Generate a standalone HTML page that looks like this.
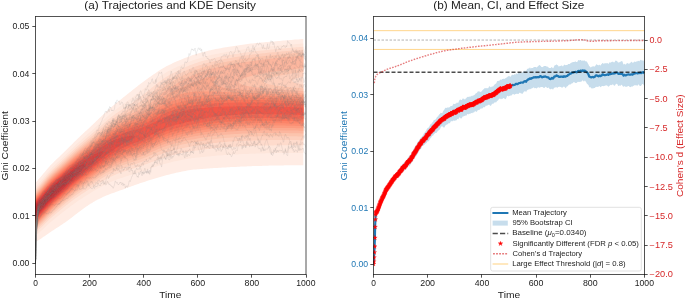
<!DOCTYPE html>
<html><head><meta charset="utf-8"><style>
html,body{margin:0;padding:0;background:#fff;}
body{width:685px;height:299px;overflow:hidden;font-family:"Liberation Sans", sans-serif;}
svg{display:block;will-change:transform;}
</style></head><body>
<svg width="685" height="299" viewBox="0 0 685 299" font-family='"Liberation Sans", sans-serif'><defs><clipPath id="cl"><rect x="35.50" y="16.50" width="270.50" height="258.00"/></clipPath><clipPath id="cr"><rect x="373.50" y="16.50" width="271.00" height="258.00"/></clipPath><path id="st" d="M0.00 -2.45L-0.55 -0.76L-2.33 -0.76L-0.89 0.29L-1.44 1.98L-0.00 0.94L1.44 1.98L0.89 0.29L2.33 -0.76L0.55 -0.76Z" fill="#ff0000" stroke="#ff0000" stroke-width="0.3"/></defs>
<g clip-path="url(#cl)">
<g transform="scale(0.1)">
<path d="M372 2409l1 0 16-10 8-5 9-5 14-10 2-2 17-11 3-2 14-10 7-5 10-7 12-8 5-3 17-12 16-11 7-4 10-7 13-8 4-3 17-11 1 0 16-11 7-4 10-7 13-8 3-3 17-11 2-1 15-11 6-4 11-8 10-7 7-5 12-10 5-3 15-12 2-1 16-13 1-1 16-12 4-2 13-11 6-4 11-9 9-6 8-6 12-9 5-4 15-11 1-1 17-12 3-2 14-9 8-6 9-6 14-9 3-2 17-10 4-3 12-7 14-8 3-1 17-9 8-4 9-5 17-8 4-2 13-6 17-8 3-1 13-6 17-7 6-2 11-4 17-7 11-4 6-2 17-6 16-6 1-1 16-5 17-6 9-4 8-2 17-6 17-7 16-6 17-6 8-3 9-3 17-6 15-5 2-1 17-6 17-6 6-2 10-4 17-6 16-5 1 0 17-6 17-5 12-4 5-2 16-5 17-5 9-3 8-2 17-5 17-6 7-2 10-3 16-5 17-5 8-2 9-2 17-5 17-5 10-3 7-2 17-4 16-4 17-5 17-4 17-4 17-4 11-2 6-2 16-3 17-4 17-3 17-3 17-3 17-3 17-2 16-3 17-2 17-2 7 0 10-1 17-1 17-2 16-1 17-1 17-1 17-1 17-2 17-1 16-1 17-1 17-1 14-1 3 0 17-1 17-1 17-1 16-1 17-1 17-1 17-1 17-1 17-1 16-1 17 0 17-1 17-1 17-1 17-1 16 0 17-1 1 0 16-1 17 0 17-1 17-1 17 0 16-1 17 0 17-1 17 0 17-1 17 0 16-1 17 0 17-1 17 0 17-1 17 0 16 0 17-1 17 0 17 0 17 0 17-1 17 0 16 0 17 0 17-1 17 0 17 0 17 0 16 0 17 0 17 0 17 0 0-3 0-15 0-15 0-15 0-15 0-14 0-15 0-15 0-15 0-15 0-15 0-15 0-15 0-15 0-14 0-15 0-15 0-15 0-15 0-15 0-15 0-15 0-15 0-14 0-15 0-15 0-15 0-15 0-15 0-15 0-15 0-15 0-15 0-14 0-15 0-15 0-15 0-15 0-15 0-15 0-15 0-15 0-14 0-15 0-15 0-15 0-15 0-15 0-15 0-15 0-15 0-14 0-15 0-15 0-15 0-15 0-15 0-15 0-15 0-15 0-15 0-14 0-15 0-15 0-15 0-15 0-15 0-15 0-15 0-15 0-14 0-15 0-15 0-15 0-15 0-15 0-15 0-15 0-15 0-14 0-15 0-15 0-15 0-15 0-15 0-9 -17 2 -17 1 -17 2 -16 1 -17 1 -17 2 -2 0 -15 1 -17 2 -17 1 -16 1 -17 2 -17 1 -17 2 -17 1 -17 2 -17 1 -7 1 -9 1 -17 1 -17 1 -17 2 -17 1 -17 2 -16 1 -17 2 -17 2 -17 2 -2 0 -15 1 -17 2 -16 2 -17 1 -17 2 -17 2 -17 2 -16 3 -1 0 -17 2 -16 2 -17 2 -17 3 -17 2 -17 3 -5 1 -12 1 -16 3 -17 2 -17 3 -17 3 -14 3 -3 0 -17 3 -16 2 -17 4 -17 3 -13 2 -4 1 -17 3 -17 4 -17 3 -16 4 -17 4 -17 4 -17 4 -11 3 -6 1 -17 5 -16 4 -16 5 -1 0 -17 5 -17 5 -14 5 -3 1 -17 5 -16 6 -7 3 -10 3 -17 7 -13 5 -4 1 -17 7 -16 7 -1 0 -17 7 -16 7 -1 1 -16 6 -17 8 -1 0 -16 7 -16 8 -1 1 -17 7 -13 7 -3 2 -17 8 -9 5 -8 5 -17 9 -1 1 -16 9 -9 6 -8 5 -16 10 -1 0 -16 11 -5 4 -12 8 -10 7 -7 4 -14 10 -3 2 -17 12 -1 1 -16 11 -5 4 -11 8 -10 7 -7 6 -13 9 -4 3 -16 12 -1 0 -17 13 -2 2 -15 11 -5 4 -11 9 -8 6 -9 7 -10 8 -7 5 -12 9 -5 5 -13 10 -4 3 -15 12 -2 2 -16 13 -1 0 -16 14 -2 1 -15 12 -4 3 -13 11 -5 4 -12 9 -7 6 -10 7 -8 8 -9 6 -10 8 -6 6 -12 9 -5 5 -12 10 -5 4 -12 11 -5 4 -12 11 -5 4 -11 11 -6 5 -11 10 -5 5 -11 10 -6 6 -10 9 -7 7 -8 7 -9 9 -7 6 -10 10 -5 5 -12 11 -4 4 -13 12 -3 3 -13 13 -2 2 -15 14 -1 1 -16 15 -16 15 -1 0 -15 15 -2 1 -14 13 -3 3 -13 12 -3 3 -13 12 -4 4 -11 11 -6 6 -10 9 -7 7 -8 8 -9 8 -7 7 -10 10 -5 5 -11 11 -4 4 -13 13 -2 1 -15 15 0 1 -15 14 -2 2 -13 13 -4 4 -11 11 -6 5 -9 10 -8 7 -8 8 -8 8 -7 7 -10 9 -6 6 -11 10 -5 4 -12 12 -3 3 -14 14 -1 1 -15 15 -1 0 -14 15 -2 2 -12 13 -5 5 -9 10 -8 10 -5 5 -11 15 -1 0 -12 15 -5 6 -7 8 -10 12 -2 3 -13 15 -1 2 -12 13 -5 7 -8 8 -9 12 -3 3 -13 15 -1 1 0 14 0 15 0 14 0 15 0 15 0 15 0 15 0 15 0 15 0 15 0 15 0 14 0 15 0 15 0 15 0 15 0 15 0 15 0 15 0 15 0 15 0 14 0 15 0 15 0 15 0 15 0 15 0 15 0 15 0 15 0 14 0 15 0 15 0 15 0 15 0 15 0 15 0 15 0 15 0 11z" fill="#ffece4"/>
<path d="M360 2349l12-9 8-6 9-7 9-8 8-6 10-9 6-5 11-10 6-6 10-8 7-8 8-7 9-9 7-6 10-9 7-6 10-9 7-6 9-8 9-7 8-7 10-8 7-6 11-9 6-4 13-11 4-3 14-11 3-2 16-13 0-1 17-13 2-1 15-12 5-3 12-9 7-6 10-7 10-8 7-5 13-10 4-2 16-13 17-12 5-3 12-8 9-7 8-5 14-9 3-2 17-11 3-2 13-9 10-6 7-4 17-11 17-10 7-5 10-6 14-9 3-1 16-10 7-4 10-6 15-9 2-1 17-9 8-5 9-4 17-9 2-1 15-8 14-7 2-1 17-8 12-6 5-2 17-8 12-5 5-2 17-7 15-6 1-1 17-6 17-6 6-2 11-3 17-6 17-6 16-5 17-5 15-5 2 0 17-5 17-6 12-4 5-1 17-5 16-6 9-2 8-3 17-5 17-6 3-1 14-5 17-5 13-5 3-1 17-6 17-6 6-2 11-4 17-5 16-6 1 0 16-6 17-5 13-4 4-1 17-5 17-5 13-4 4-1 17-4 16-5 17-4 4-1 13-3 17-3 17-4 17-4 3-1 13-2 17-4 17-3 17-3 13-3 4 0 17-3 17-2 16-3 17-2 17-2 17-2 5 0 12-1 17-2 16-2 17-1 17-2 17-2 17-1 17-2 16-2 8 0 9-1 17-2 17-1 17-1 17-1 17-2 16-1 17-1 17-1 17-1 17-1 17-1 16-1 10 0 7-1 17 0 17-1 17-1 17-1 16-1 17 0 17-1 17-1 17 0 17-1 17 0 16-1 17 0 17-1 17 0 17-1 17 0 16-1 17 0 17-1 17 0 17 0 17-1 16 0 17 0 17 0 17-1 17 0 14 0 3 0 17 0 16 0 17-1 17 0 17 0 17 0 17 0 16 0 17 0 17 0 17 0 0-14 0-15 0-15 0-15 0-15 0-14 0-15 0-15 0-15 0-15 0-15 0-15 0-15 0-15 0-14 0-15 0-15 0-15 0-15 0-15 0-15 0-15 0-15 0-15 0-14 0-15 0-15 0-15 0-15 0-15 0-15 0-15 0-15 0-14 0-15 0-15 0-15 0-15 0-15 0-15 0-15 0-15 0-14 0-15 0-15 0-15 0-15 0-15 0-15 0-15 0-15 0-15 0-14 0-15 0-15 0-15 0-15 0-15 0-15 0-15 0-15 0-14 0-15 0-15 0-15 0-15 0-15 0-15 0-15 0-15 0-14 0-15 0-15 0-8 -17 1 -17 1 -17 2 -16 1 -17 2 -13 1 -4 0 -17 1 -17 2 -17 1 -16 2 -17 1 -17 2 -17 1 -17 2 -17 1 -13 2 -4 0 -16 1 -17 2 -17 1 -17 2 -17 1 -17 2 -16 2 -17 1 -17 2 -3 1 -14 1 -17 2 -17 1 -16 2 -17 2 -17 2 -17 2 -15 2 -2 1 -17 2 -17 2 -16 2 -17 3 -17 2 -17 3 -2 0 -15 2 -17 3 -16 3 -17 3 -17 2 -10 2 -7 1 -17 3 -17 3 -16 3 -17 4 -7 1 -10 2 -17 3 -17 4 -17 3 -11 3 -6 1 -16 4 -17 4 -17 4 -6 2 -11 3 -17 4 -17 5 -10 3 -6 2 -17 5 -17 5 -9 3 -8 2 -17 6 -17 6 -1 1 -15 5 -17 7 -7 2 -10 4 -17 7 -10 4 -7 3 -17 7 -10 5 -7 3 -16 8 -10 4 -7 3 -17 8 -7 4 -10 5 -17 8 -3 2 -14 6 -15 9 -1 0 -17 10 -9 5 -8 5 -16 10 -1 0 -17 11 -5 3 -12 8 -10 7 -7 5 -14 10 -2 2 -17 12 -1 1 -16 12 -4 3 -13 10 -7 5 -10 8 -9 7 -8 6 -11 9 -5 4 -14 11 -3 2 -16 13 -1 0 -17 13 -2 1 -15 12 -4 3 -13 10 -6 5 -10 8 -10 7 -7 6 -12 9 -5 4 -15 11 -2 2 -17 12 0 1 -17 12 -3 3 -14 9 -7 6 -9 7 -11 7 -6 5 -14 10 -3 2 -17 13 -1 0 -16 12 -4 3 -13 9 -7 6 -9 7 -10 8 -7 5 -12 10 -5 4 -13 11 -4 3 -13 12 -4 2 -14 12 -3 3 -14 12 -2 3 -14 12 -3 3 -14 12 -3 3 -13 12 -4 3 -13 12 -4 4 -12 11 -5 4 -11 11 -6 5 -11 10 -5 5 -11 10 -6 5 -11 9 -6 6 -11 9 -6 5 -11 10 -6 5 -11 10 -6 5 -10 10 -6 5 -11 10 -6 6 -10 9 -7 6 -10 9 -7 6 -9 9 -8 7 -8 7 -9 9 -6 6 -10 10 -6 5 -11 11 -5 4 -12 12 -3 3 -14 14 -1 1 -16 15 -15 15 -2 1 -14 14 -3 2 -12 12 -4 4 -12 11 -5 5 -11 10 -6 6 -10 9 -7 7 -9 8 -8 8 -7 7 -10 9 -5 6 -11 12 -4 3 -13 15 -14 15 -3 4 -9 10 -8 10 -4 5 -12 15 -1 1 -12 14 -5 7 -7 8 -9 12 -3 3 -13 15 -1 2 -12 13 -5 6 -8 9 -9 11 0 3 0 15 0 15 0 15 0 15 0 15 0 15 0 15 0 15 0 14 0 15 0 15 0 15 0 15 0 15 0 15 0 15 0 15 0 15 0 14 0 15 0 15 0 15 0 15 0 15 0 15 0 15 0 15 0 14 0 15 0 15 0 15 0 15 0 4z" fill="#fee6db"/>
<path d="M359 2319l13-10 5-5 12-10 5-5 12-9 5-5 11-10 6-5 11-12 4-3 13-14 2-1 14-15 1-1 15-14 2-2 14-13 3-2 14-13 2-2 16-13 1-1 16-13 1-1 17-14 17-14 1-1 16-13 2-2 14-11 5-4 12-10 7-5 10-8 8-7 9-7 10-8 7-5 13-10 4-3 15-12 2-1 16-12 2-1 15-11 6-4 11-8 10-7 7-5 15-10 2-1 17-11 4-3 12-8 11-7 6-4 17-11 17-11 6-4 11-6 13-9 4-2 16-10 4-2 13-8 11-7 6-4 17-10 2-1 15-9 11-6 6-3 17-10 4-2 12-7 16-8 1-1 17-8 11-6 6-2 17-8 10-5 7-3 16-7 12-5 5-2 17-6 17-6 17-6 17-6 10-3 6-2 17-6 17-5 7-2 10-3 17-5 17-6 3-1 14-4 16-6 16-5 1 0 17-6 17-6 8-3 9-3 17-6 14-6 2-1 17-6 17-7 3-1 14-5 17-6 8-4 9-3 16-6 15-6 2 0 17-6 17-6 8-2 9-3 17-5 17-5 7-2 9-3 17-4 17-4 16-4 1 0 17-4 17-4 16-4 15-3 2-1 17-3 17-3 17-3 17-4 8-1 9-1 16-3 17-3 17-2 17-2 17-2 12-2 5 0 16-2 17-3 17-2 17-2 17-2 17-2 12-2 4 0 17-2 17-2 17-2 17-1 17-2 17-2 16-1 17-1 17-1 6-1 11 0 17-1 17-1 16-1 17-1 17-1 17-1 17-1 17-1 16-1 17-1 17 0 17-1 17-1 17 0 17-1 16 0 17-1 17 0 13-1 4 0 17 0 17 0 16-1 17 0 17 0 17 0 17 0 17-1 16 0 17 0 17 0 17 0 17-1 17 0 17 0 16 0 17 0 17 0 17 0 17 0 17 0 16 1 17 0 17 0 17 0 0-12 0-15 0-15 0-15 0-15 0-15 0-15 0-15 0-15 0-14 0-15 0-15 0-15 0-15 0-15 0-15 0-15 0-15 0-15 0-14 0-15 0-15 0-15 0-15 0-15 0-15 0-15 0-15 0-14 0-15 0-15 0-15 0-15 0-15 0-15 0-15 0-15 0-14 0-15 0-15 0-15 0-15 0-15 0-15 0-15 0-15 0-15 0-14 0-15 0-15 0-15 0-15 0-15 0-15 0-15 0-15 0-14 0-15 0-15 0-15 0-15 0-15 0-15 0-15 0-15 0-14 0-6 -17 2 -17 1 -17 2 -11 1 -5 0 -17 1 -17 2 -17 1 -17 2 -17 1 -16 2 -17 1 -17 2 -17 1 -12 1 -5 1 -17 1 -17 2 -16 1 -17 2 -17 2 -17 1 -17 2 -17 2 -16 1 -17 2 -17 2 -17 2 -17 1 -17 2 -16 2 -17 2 -15 2 -2 0 -17 3 -17 2 -17 2 -17 2 -16 3 -17 2 -4 1 -13 2 -17 3 -17 2 -17 3 -16 3 -12 2 -5 1 -17 3 -17 3 -17 3 -17 3 -10 2 -6 1 -17 3 -17 4 -17 3 -16 4 -1 0 -17 4 -17 3 -16 5 -13 3 -4 1 -17 4 -17 5 -17 4 0 1 -17 4 -16 5 -17 5 -17 6 -17 6 -11 3 -6 3 -17 6 -16 6 -17 7 -17 7 -3 1 -14 6 -17 8 -3 1 -14 6 -17 8 -1 1 -15 7 -16 8 -1 1 -17 8 -11 6 -6 3 -17 8 -6 4 -11 5 -16 9 0 1 -17 10 -8 4 -9 6 -14 9 -3 2 -17 12 -1 1 -16 11 -5 4 -12 9 -8 6 -8 7 -11 8 -6 5 -12 10 -5 4 -13 11 -4 3 -14 12 -3 2 -15 12 -2 2 -16 13 -17 14 -2 1 -15 12 -4 3 -13 10 -7 5 -10 7 -10 8 -7 5 -13 10 -3 2 -17 12 -1 1 -16 11 -5 4 -12 8 -10 6 -7 5 -15 10 -2 2 -17 11 -3 2 -13 9 -10 6 -7 5 -15 10 -2 1 -17 11 -4 3 -13 9 -8 6 -9 5 -12 10 -4 2 -17 13 -17 13 -2 1 -15 12 -4 3 -13 11 -5 4 -12 10 -5 5 -11 9 -7 6 -10 9 -7 6 -10 9 -7 6 -10 9 -7 6 -10 8 -7 7 -10 8 -7 7 -10 8 -7 6 -9 9 -8 6 -9 8 -8 7 -9 8 -9 7 -8 7 -9 8 -8 6 -9 9 -8 6 -10 9 -6 6 -11 9 -6 5 -11 10 -6 5 -10 9 -7 6 -10 9 -7 6 -9 9 -8 7 -9 8 -7 7 -9 8 -8 8 -7 7 -10 9 -6 6 -11 10 -5 5 -12 11 -3 4 -14 12 -2 2 -15 14 -1 1 -15 15 -17 15 0 1 -16 14 -1 1 -15 14 -2 2 -13 13 -4 3 -12 12 -5 4 -10 11 -6 6 -8 9 -9 9 -5 5 -12 15 -1 0 -12 15 -4 5 -9 10 -8 11 -4 4 -12 15 -1 1 -11 14 -5 6 -8 9 -9 11 -4 4 -12 14 -1 2 -12 13 -5 6 0 9 0 15 0 15 0 15 0 15 0 15 0 15 0 14 0 15 0 15 0 15 0 15 0 15 0 15 0 15 0 15 0 15 0 14 0 15 0 15 0 15 0 15 0 15 0 15 0 15 0 15 0 14 0 15 0 15 0 3z" fill="#fedbcc"/>
<path d="M369 2289l3-2 14-12 3-3 14-12 3-3 13-12 3-3 13-12 4-5 10-10 7-7 8-8 9-9 5-6 12-11 4-4 13-11 3-4 13-12 4-2 13-12 4-3 13-12 4-3 13-11 5-4 12-10 6-5 11-9 7-6 9-8 9-7 8-6 10-9 7-5 12-10 5-4 13-11 4-2 15-12 2-1 17-13 1-1 15-12 5-3 12-9 8-6 9-6 12-9 5-3 16-12 1 0 17-11 5-4 11-8 11-7 6-4 17-11 17-11 6-3 11-7 12-8 5-3 16-11 2-1 15-10 9-5 8-5 16-10 1-1 17-10 6-4 11-6 15-9 2-1 16-9 8-5 9-5 17-9 2-1 15-7 14-7 3-2 17-8 12-5 4-2 17-7 15-6 2-1 17-6 17-6 5-2 12-4 16-6 16-5 1-1 17-5 17-5 11-4 6-2 17-5 17-6 5-2 11-3 17-6 16-6 1 0 17-6 17-7 5-2 12-4 16-7 10-4 7-3 17-6 12-5 5-2 17-7 14-6 3-1 16-7 17-6 2-1 15-6 17-6 9-3 8-3 17-5 17-6 4-1 12-3 17-5 17-4 10-3 7-2 17-4 17-4 16-4 4-1 13-3 17-3 17-4 17-3 7-2 10-1 17-3 16-3 17-3 17-3 11-2 6 0 17-3 17-2 16-2 17-3 17-2 14-2 3-1 17-2 17-2 16-3 17-2 17-2 17-2 9-1 8-1 17-2 17-1 16-2 17-1 17-1 17-2 17-1 17-1 16-1 17-1 17-1 1 0 16-1 17-1 17-1 16-1 17 0 17-1 17-1 17 0 17-1 17 0 16-1 17 0 17 0 17-1 17 0 17 0 16 0 17-1 17 0 17 0 17 0 17 0 16 0 17 0 17 0 17 0 17 0 17 0 17 0 16 0 17 0 17 0 17 0 17 0 17 0 16 0 17 1 17 0 17 0 0-6 0-15 0-15 0-15 0-15 0-15 0-14 0-15 0-15 0-15 0-15 0-15 0-15 0-15 0-15 0-15 0-14 0-15 0-15 0-15 0-15 0-15 0-15 0-15 0-15 0-14 0-15 0-15 0-15 0-15 0-15 0-15 0-15 0-15 0-14 0-15 0-15 0-15 -4 0 -13-3 -17-3 -17-3 -16-4 -11-2 -6-3 -17-7 -10-5 1-15 9-4 17-9 3-2 14-3 16-5 17-5 8-2 9-1 17-4 0-10 0-14 0-15 0-15 0-15 0-15 0-15 0-15 0-15 0-15 0-14 0-15 0-15 0-15 0-15 0-15 0-15 0-15 0-6 -17 1 -17 2 -17 1 -16 2 -9 0 -8 1 -17 1 -17 2 -17 1 -17 2 -16 1 -17 2 -17 1 -17 2 -17 2 -5 0 -12 1 -17 2 -16 2 -17 1 -17 2 -17 1 -17 2 -17 2 -16 2 -5 0 -12 1 -17 2 -17 2 -17 2 -17 2 -16 2 -17 2 -14 2 -3 0 -17 3 -17 2 -17 2 -17 3 -16 2 -17 3 -1 0 -16 2 -17 3 -17 3 -17 3 -16 3 -7 1 -10 2 -17 3 -17 3 -17 3 -17 3 -3 1 -13 2 -17 4 -17 3 -17 4 -8 2 -9 2 -17 4 -17 4 -16 4 -3 0 -14 4 -17 5 -17 4 -6 2 -11 3 -17 5 -16 6 -5 1 -12 4 -17 6 -15 5 -2 1 -17 6 -17 6 -4 2 -12 5 -17 7 -6 3 -11 5 -17 7 -6 3 -11 5 -17 8 -3 2 -14 6 -16 9 -17 9 -11 5 -6 4 -17 9 -5 2 -12 7 -15 8 -2 1 -16 10 -7 4 -10 7 -12 8 -5 3 -17 12 -17 13 -3 2 -14 11 -4 4 -13 10 -6 5 -10 9 -7 6 -10 8 -8 6 -9 8 -8 7 -9 8 -8 7 -9 8 -9 7 -8 7 -9 8 -7 6 -12 9 -5 4 -15 11 -2 1 -17 12 -2 2 -15 10 -7 5 -10 6 -12 8 -4 3 -17 11 -3 1 -14 9 -10 6 -7 4 -17 11 -17 10 -8 5 -9 5 -16 10 -17 10 -8 5 -9 5 -15 10 -2 1 -17 10 -5 4 -12 7 -10 7 -6 5 -15 10 -2 2 -17 12 -2 1 -15 12 -4 3 -13 10 -6 5 -11 9 -7 6 -9 8 -9 7 -8 7 -9 8 -8 6 -10 9 -7 6 -10 9 -7 5 -10 9 -7 6 -11 9 -6 5 -11 10 -5 4 -13 11 -4 4 -14 11 -3 3 -15 12 -2 2 -16 13 -1 1 -16 14 -1 0 -16 14 -1 1 -16 13 -2 1 -15 14 -2 1 -15 14 -2 1 -15 13 -2 2 -15 14 -1 1 -15 14 -2 1 -15 14 -1 1 -16 15 -16 15 -1 1 -15 13 -2 3 -13 12 -4 3 -12 12 -5 4 -11 11 -5 5 -12 10 -5 5 -11 10 -6 6 -10 9 -7 6 -9 9 -8 7 -7 8 -10 9 -6 6 -10 11 -4 3 -13 14 -1 1 -13 15 -3 3 -10 12 -7 9 -5 6 -12 15 -13 15 -4 5 -8 10 -8 9 -5 6 -12 14 -14 15 -3 5 -10 10 -7 9 0 6 0 15 0 15 0 15 0 15 0 15 0 14 0 15 0 15 0 15 0 15 0 15 0 15 0 15 0 15 0 15 0 14 0 15 0 15 0 15 0 15 0 15 0 15 0 15 0 15 0 14 0 12z" fill="#fdcfbc"/>
<path d="M367 2275l5-5 12-10 5-5 11-10 6-5 10-10 6-6 9-9 8-8 7-7 10-11 4-4 13-13 1-2 15-15 1 0 15-14 2-2 15-13 1-2 15-13 2-2 15-13 2-2 16-13 1-1 16-14 1 0 17-14 0-1 16-13 2-2 15-12 3-3 14-11 5-4 12-10 6-4 11-9 8-6 9-8 9-7 8-6 12-9 4-4 15-11 2-1 17-13 2-1 15-11 6-4 11-7 10-8 7-4 15-11 1-1 17-11 4-2 13-9 10-6 7-5 15-10 2-1 17-11 4-3 12-8 11-7 6-4 17-11 17-11 6-4 11-6 13-9 4-2 17-10 4-3 12-7 14-7 3-2 17-10 7-3 10-6 17-8 1-1 16-7 16-8 17-8 17-7 1 0 16-6 17-7 6-2 11-4 16-5 16-6 1 0 17-6 17-5 10-4 7-2 17-5 17-6 4-2 12-4 17-6 14-5 3-1 17-6 17-7 2 0 15-6 16-7 5-2 12-5 17-8 6-2 11-5 17-7 7-3 10-4 16-7 10-4 7-3 17-7 14-5 3-1 17-6 17-6 5-2 12-4 16-5 17-4 5-2 12-3 17-4 17-5 11-3 6-1 16-4 17-4 17-4 8-1 9-2 17-4 17-3 17-3 15-3 1-1 17-3 17-2 17-3 17-2 17-3 8-1 8-2 17-2 17-3 17-2 17-3 17-3 4 0 12-2 17-2 17-2 17-3 17-2 17-2 17-1 8-1 8-1 17-1 17-1 17-1 17-1 17-2 16-1 17-1 17-1 17-1 17-1 17-1 16-1 17 0 11-1 6 0 17-1 17 0 17-1 17 0 16 0 17-1 17 0 17 0 17 0 17 0 16-1 17 0 17 0 17 0 17 0 17 0 16 0 17 0 17 0 17 0 17 0 17 0 17 0 16 0 17 0 17 1 17 0 17 0 17 0 16 1 17 0 17 0 17 0 0-13 0-15 0-15 0-14 0-15 0-15 0-15 0-15 0-15 0-15 0-15 0-15 0-15 0-14 0-15 0-15 0-15 0-15 0-15 0-15 0-15 0-15 0-14 0-15 0-15 0-15 0-15 0-15 0-15 0-15 0-15 0-14 0-6 -17-2 -17-1 -17-1 -16-2 -17-1 -17-1 -11-1 -6-1 -17-2 -17-1 -16-2 -17-2 -17-2 -17-2 -17-1 -17-2 -17-3 -16-3 -17-3 -17-3 -17-3 -3 0 -14-5 -17-5 -13-5 -3-3 -11-12 10-15 1 0 16-8 15-7 2-1 17-5 17-4 14-5 3 0 17-4 16-4 17-3 16-4 1 0 17-3 17-3 17-3 17-2 16-3 2 0 15-3 17-2 17-3 17-2 17-2 16-3 5 0 12-2 17-2 17-2 0-9 0-15 0-15 0-15 0-15 0-15 0-15 0-14 0-15 0-15 0-15 0-15 0-15 0-8 -17 2 -17 1 -17 1 -16 2 -17 1 -11 1 -6 1 -17 1 -17 2 -17 1 -16 2 -17 1 -17 2 -17 2 -17 1 -17 2 -1 0 -16 2 -16 1 -17 2 -17 2 -17 1 -17 2 -17 2 -16 2 -11 1 -6 1 -17 2 -17 1 -17 3 -17 2 -16 2 -17 2 -15 2 -2 0 -17 2 -17 3 -17 2 -17 3 -16 2 -15 3 -2 0 -17 3 -17 3 -17 3 -17 2 -16 3 -2 1 -15 2 -17 4 -17 3 -17 3 -13 2 -4 1 -16 4 -17 3 -17 4 -17 3 -17 4 -17 4 -17 5 -10 2 -6 2 -17 5 -17 4 -13 4 -4 1 -17 6 -17 5 -10 3 -6 2 -17 6 -17 6 -3 1 -14 5 -17 7 -7 3 -10 4 -16 7 -9 4 -8 3 -17 8 -7 4 -10 4 -17 8 -4 2 -13 7 -16 8 -1 1 -16 9 -10 5 -7 4 -17 9 -3 2 -14 8 -12 7 -5 3 -17 10 -3 2 -13 8 -10 7 -7 4 -15 11 -2 2 -17 12 0 1 -17 13 -2 2 -15 12 -3 2 -14 12 -3 3 -13 12 -4 3 -13 12 -4 3 -13 12 -4 3 -13 11 -4 4 -13 10 -5 5 -12 9 -7 6 -9 7 -11 8 -6 4 -16 10 -1 1 -17 10 -6 4 -11 7 -14 8 -3 1 -16 10 -8 4 -9 5 -17 10 -1 0 -16 9 -12 6 -5 3 -17 9 -5 3 -12 6 -16 9 -17 9 -10 6 -7 4 -17 9 -1 1 -16 9 -9 6 -8 5 -15 10 -1 1 -17 11 -4 3 -13 9 -8 6 -9 7 -10 8 -7 5 -13 10 -4 3 -14 12 -2 2 -16 13 -1 0 -17 14 0 1 -17 13 -1 1 -16 14 -2 1 -15 13 -3 2 -14 12 -3 3 -13 11 -5 4 -12 10 -7 5 -10 8 -8 7 -9 7 -9 8 -8 6 -11 9 -6 4 -12 10 -4 4 -14 11 -3 3 -14 12 -3 3 -15 12 -2 2 -15 13 -2 2 -15 13 -2 2 -14 13 -2 2 -15 13 -2 2 -14 13 -3 2 -13 12 -4 4 -12 11 -5 5 -11 10 -6 5 -10 10 -7 6 -10 9 -6 6 -10 9 -7 7 -9 8 -8 7 -8 8 -9 8 -7 7 -10 8 -6 7 -11 10 -4 4 -12 13 -3 2 -14 15 -14 15 -3 4 -9 11 -8 9 -5 6 -12 15 -12 15 -5 5 -8 10 -8 10 -5 4 -12 15 -13 15 -4 5 -10 10 -7 9 0 6 0 15 0 15 0 15 0 15 0 14 0 15 0 15 0 15 0 15 0 15 0 15 0 15 0 15 0 15 0 14 0 15 0 15 0 15 0 15 0 15 0 15 0 15 0 15 0 10z" fill="#fcc4ad"/>
<path d="M368 2260l4-4 12-11 5-4 11-11 6-5 10-10 6-6 9-9 8-8 6-7 11-11 3-4 14-14 0-1 15-14 2-2 14-13 3-3 13-12 3-3 14-12 3-3 14-12 3-3 14-12 3-3 14-12 3-2 15-13 2-1 16-14 17-14 0-1 17-13 1-1 16-13 3-2 14-12 4-3 13-10 6-5 11-9 8-6 8-7 11-8 6-5 14-10 3-2 17-13 17-11 4-4 13-8 8-6 8-6 14-9 3-3 17-11 2-1 15-10 7-5 10-6 13-9 4-3 16-11 2-1 15-10 7-5 10-6 13-9 4-2 17-11 2-2 15-9 9-5 8-5 16-10 17-10 9-5 8-5 17-9 2-1 15-8 14-7 3-1 16-8 13-6 4-2 17-7 15-6 2-1 17-6 17-6 3-2 13-4 17-6 13-5 4-1 17-6 17-5 6-3 11-3 17-6 16-5 0-1 17-5 17-7 7-2 10-4 17-7 10-4 7-3 16-7 12-5 5-2 17-8 12-5 5-2 17-7 12-6 5-2 16-7 14-6 3-1 17-7 16-7 1 0 17-6 17-6 6-3 11-3 16-5 17-5 6-1 11-3 17-5 17-4 11-3 6-2 16-4 17-4 17-4 6-1 11-3 17-3 17-4 17-3 9-2 7-1 17-3 17-3 17-3 17-3 14-2 3 0 16-3 17-3 17-2 17-3 17-3 6-1 11-1 16-3 17-2 17-3 17-2 17-2 16-2 1 0 17-1 16-2 17-1 17-1 17-2 17-1 17-1 16-1 17-1 17-1 17-1 17-1 9-1 8 0 16-1 17-1 17 0 17-1 17 0 17-1 17 0 16 0 17-1 17 0 17 0 17 0 17 0 16 0 17 0 17 0 17 0 17 0 17 0 16 0 17 0 17 0 17 0 17 0 17 0 17 0 16 0 17 1 17 0 17 0 17 0 17 1 16 0 17 0 17 1 17 0 0-13 0-14 0-15 0-15 0-15 0-15 0-15 0-15 0-15 0-15 0-15 0-14 0-15 0-15 0-15 0-15 0-15 0-15 0-15 0-15 0-14 0-15 0-15 0-15 0-15 0-15 0-15 0-15 0-9 -17-1 -17-1 -17-1 -16-1 -17-1 -10-1 -7 0 -17-1 -17-1 -17-1 -16-2 -17-1 -17-1 -17-1 -17-1 -17-1 -17-1 -16-2 -17-1 -11 0 -6-1 -17-2 -17-1 -17-2 -16-1 -17-2 -17-2 -17-1 -17-2 -12-1 -5-1 -16-2 -17-3 -17-3 -17-2 -17-3 -9-1 -8-2 -17-5 -16-4 -13-4 -4-3 -17-12 -1-15 1-1 14-14 3-1 17-9 8-5 8-3 17-6 15-6 2 0 17-5 17-5 15-5 2 0 17-4 16-4 17-3 15-3 2-1 17-3 17-3 17-3 16-3 17-2 17-3 17-3 17-2 17-2 16-3 17-2 3 0 14-2 17-2 17-3 17-2 17-2 16-2 17-2 3 0 14-2 17-2 17-2 17-2 16-2 17-1 17-2 17-2 0-15 0-15 0-15 0-15 0-14 0-15 0-15 0-15 0-5 -17 1 -17 1 -17 2 -15 1 -1 0 -17 2 -17 1 -17 2 -17 1 -17 2 -16 1 -17 2 -17 2 -17 1 -6 1 -11 1 -17 2 -17 2 -16 1 -17 2 -17 2 -17 2 -17 1 -11 2 -6 0 -16 2 -17 2 -17 3 -17 2 -17 2 -17 2 -14 2 -2 0 -17 2 -17 3 -17 2 -17 3 -17 2 -15 2 -2 1 -16 3 -17 3 -17 2 -17 3 -17 3 -2 0 -15 3 -16 3 -17 3 -17 4 -15 2 -2 1 -17 3 -17 3 -16 4 -17 3 -5 1 -12 3 -17 4 -17 4 -16 4 -1 0 -17 5 -16 5 -17 4 -2 1 -15 5 -17 5 -16 5 -1 0 -17 6 -16 6 -8 3 -9 3 -17 7 -13 5 -4 1 -17 7 -14 6 -3 2 -16 7 -13 6 -4 2 -17 9 -9 4 -8 4 -17 9 -4 2 -13 7 -14 8 -3 1 -16 10 -8 4 -9 5 -17 10 -17 10 -8 5 -9 5 -17 10 -16 10 -6 5 -11 7 -10 7 -7 5 -13 10 -4 4 -14 11 -3 2 -15 13 -2 1 -16 14 -1 0 -16 15 -1 0 -16 14 -2 1 -15 12 -3 3 -14 11 -5 4 -12 8 -8 6 -9 6 -12 9 -4 3 -17 11 -3 1 -14 8 -12 7 -5 3 -17 9 -6 3 -11 5 -16 9 -3 1 -14 7 -17 8 -17 8 -13 7 -4 1 -17 8 -10 6 -7 3 -16 8 -7 3 -10 6 -17 9 -1 0 -16 9 -11 6 -6 3 -17 10 -2 2 -14 9 -10 6 -7 5 -15 10 -2 2 -17 12 -1 1 -16 11 -4 4 -13 9 -6 6 -10 7 -9 8 -8 6 -11 8 -6 6 -12 9 -5 4 -13 11 -4 3 -14 12 -3 2 -15 13 -2 1 -16 14 -17 13 -2 2 -15 12 -4 3 -13 10 -6 5 -11 8 -7 6 -10 8 -9 7 -7 6 -11 9 -6 5 -12 10 -5 4 -13 11 -4 3 -13 12 -4 3 -13 12 -4 3 -13 12 -3 2 -14 13 -3 2 -14 12 -3 4 -13 11 -4 4 -12 11 -5 5 -11 10 -6 5 -11 10 -6 6 -10 9 -6 6 -10 9 -7 6 -10 9 -7 6 -9 9 -8 7 -8 8 -9 8 -7 6 -10 10 -5 5 -11 12 -4 3 -13 14 -1 1 -14 15 -2 3 -10 12 -7 8 -6 7 -11 14 -1 1 -12 15 -4 4 -9 10 -7 9 -6 6 -11 13 -2 2 -13 15 -2 3 -11 12 -6 7 0 8 0 15 0 15 0 15 0 14 0 15 0 15 0 15 0 15 0 15 0 15 0 15 0 15 0 15 0 14 0 15 0 15 0 15 0 15 0 15 0 15 0 15 0 11z" fill="#fcb69e"/>
<path d="M370 2245l2-2 14-13 3-2 13-13 4-3 12-12 4-5 10-10 7-7 8-8 9-10 4-5 13-13 1-1 15-15 1-1 15-14 2-2 14-13 2-3 14-12 3-3 14-12 3-3 14-12 3-2 15-13 2-2 15-13 2-1 16-14 17-14 0-1 17-14 1 0 16-14 2-1 15-13 3-2 14-11 4-4 13-10 6-5 10-8 9-7 8-6 12-9 5-4 15-11 2-1 17-12 1-1 16-11 5-4 11-8 10-7 7-5 15-10 2-2 17-11 3-2 14-9 8-6 9-6 13-9 3-2 17-12 2-1 15-10 7-5 10-6 12-8 5-3 17-11 1-1 16-10 8-5 8-5 17-10 0-1 17-9 8-5 9-5 17-9 2-1 15-7 15-8 1-1 17-7 15-7 2-1 17-7 17-6 1-1 16-6 16-6 8-3 9-3 17-5 17-6 17-6 17-6 10-3 7-3 16-6 17-6 1 0 16-6 17-7 6-2 11-4 17-7 8-4 8-4 17-7 8-4 9-4 17-8 7-3 10-4 17-8 6-3 10-4 17-8 7-3 10-4 17-6 10-4 7-3 17-6 17-6 1 0 15-5 17-5 17-5 2 0 15-4 17-5 17-4 7-2 9-3 17-4 17-4 17-4 2 0 15-3 17-4 17-3 16-4 7-1 10-2 17-3 17-2 17-3 17-3 11-2 5-1 17-2 17-3 17-3 17-3 17-2 2-1 14-2 17-2 17-3 17-2 17-2 17-2 17-1 1-1 15-1 17-1 17-1 17-2 17-1 17-1 16-1 17-1 17-1 17-1 17-1 17-1 16-1 17 0 17-1 17-1 17 0 17 0 17-1 16 0 17 0 17 0 17 0 17-1 17 0 16 0 17 0 17 0 17 0 17 1 17 0 16 0 17 0 17 0 17 0 17 0 17 0 17 0 16 1 17 0 17 0 17 0 17 1 17 0 16 0 11 1 6 0 17 0 17 1 0-1 0-15 0-15 0-15 0-15 0-15 0-15 0-15 0-15 0-15 0-14 0-15 0-15 0-15 0-15 0-15 0-15 0-15 0-15 0-14 0-15 0-15 0-15 0-15 0-15 0-15 0-2 -17 0 -17-1 -17-1 -16-1 -17-1 -17-1 -17-1 -17-1 -17-1 -16-1 -17 0 -17-1 -17-1 -17-1 -17-1 -17-1 -16-1 -17 0 -17-1 -17-1 -17-1 -17-1 -16-1 -17-2 -17-1 -17-1 -17-1 -17-1 -16-1 -14-1 -3 0 -17-1 -17-1 -17-1 -17-1 -17-2 -16-1 -17-1 -17-1 -17-1 -17-2 -17-1 -16-1 -1 0 -16-3 -17-2 -17-2 -17-3 -17-3 -11-2 -5-2 -17-5 -17-5 -12-3 -5-3 -17-9 -7-3 -10-13 -2-2 0-15 2-6 5-9 12-15 12-15 -12-10 -17 1 -17 3 -16 3 -16 3 -1 1 -17 5 -17 5 -17 4 -17 6 -16 6 -12 3 -5 2 -17 6 -17 6 -3 1 -14 6 -17 6 -7 3 -9 4 -17 7 -9 4 -8 3 -17 8 -8 4 -9 4 -17 7 -6 4 -11 4 -16 8 -5 3 -12 5 -17 9 -2 0 -15 8 -15 7 -2 1 -17 9 -9 5 -7 4 -17 11 -1 0 -16 11 -6 4 -11 7 -10 8 -7 5 -13 10 -4 2 -16 13 -1 0 -16 12 -3 3 -14 10 -6 4 -11 8 -10 7 -7 5 -15 10 -2 1 -17 11 -5 3 -11 7 -14 8 -3 2 -17 9 -9 4 -8 4 -17 8 -6 3 -11 5 -16 7 -6 3 -11 5 -17 7 -6 3 -11 4 -17 8 -6 2 -11 5 -17 8 -4 2 -12 6 -17 8 -2 1 -15 7 -15 8 -2 1 -17 9 -8 5 -9 5 -16 10 -17 11 -6 4 -11 7 -11 8 -6 4 -15 11 -2 1 -17 13 -1 1 -15 12 -4 2 -13 11 -6 4 -11 9 -8 6 -9 8 -9 7 -8 6 -10 9 -7 5 -12 10 -5 4 -14 11 -2 2 -16 13 -1 0 -17 13 -2 2 -15 11 -4 3 -13 10 -6 5 -11 9 -8 6 -8 7 -10 8 -7 6 -12 9 -5 4 -13 11 -4 3 -13 12 -4 3 -14 12 -3 2 -14 13 -2 2 -15 12 -2 3 -15 12 -2 3 -14 12 -3 3 -13 12 -4 3 -13 12 -4 4 -12 11 -5 4 -11 11 -5 4 -12 11 -5 4 -12 11 -5 5 -11 10 -6 5 -10 9 -7 6 -9 9 -8 8 -7 7 -9 9 -6 6 -11 12 -3 3 -14 15 -12 15 -5 5 -8 10 -9 11 -3 4 -12 14 -2 2 -12 13 -4 6 -9 9 -8 10 -5 5 -12 15 -1 0 -13 15 -3 3 0 12 0 15 0 15 0 14 0 15 0 15 0 15 0 15 0 15 0 15 0 15 0 15 0 15 0 14 0 15 0 15 0 15 0 15 0 15 0 15 0 13z" fill="#fcaa8f"/>
<path d="M357 2245l15-14 2-1 15-14 0-1 16-15 1 0 14-15 2-2 13-13 4-4 10-11 7-7 7-7 10-12 4-3 13-14 1-1 16-15 16-15 0-1 16-14 1-1 16-14 1-1 16-14 1-1 16-14 1 0 17-15 16-14 1 0 16-14 2-1 15-14 2-1 15-13 3-2 14-12 4-3 13-11 5-4 12-9 6-6 10-8 9-7 8-6 12-9 5-4 14-10 3-2 17-13 17-12 4-3 12-9 9-6 8-6 13-9 4-3 17-12 17-11 5-4 12-8 10-7 6-4 15-11 2-1 17-12 3-1 14-10 8-5 9-6 13-9 4-3 17-10 2-2 14-9 10-6 7-4 17-10 1-1 16-9 10-6 7-3 17-9 5-3 11-6 17-8 3-1 14-6 17-7 4-2 13-5 17-6 8-3 8-4 17-6 16-5 1-1 17-5 17-6 8-3 9-3 17-6 16-6 17-6 17-7 6-2 11-4 17-7 8-4 9-4 16-7 8-4 9-4 17-8 7-3 10-4 17-8 5-3 12-5 16-8 5-1 12-6 17-7 5-2 12-5 17-7 9-3 8-3 17-6 16-5 3-1 14-4 17-5 17-5 5-1 12-3 17-5 16-4 12-3 5-1 17-4 17-4 17-4 8-2 9-2 17-3 16-3 17-4 17-3 17-3 17-2 17-3 16-3 17-3 5-1 12-2 17-2 17-3 17-3 16-2 15-2 2-1 17-2 17-2 17-2 17-2 17-2 16-1 17-2 17-1 7 0 10-1 17-1 17-1 16-1 17-2 17-1 17 0 17-1 17-1 16-1 17-1 17 0 17-1 17 0 17-1 17 0 16 0 17 0 17 0 17 0 17 0 17 0 16 0 17 0 17 0 17 0 17 0 17 0 16 0 17 0 17 0 17 0 17 0 17 1 17 0 16 0 17 0 17 1 17 0 17 0 17 1 16 0 17 1 17 0 17 0 0-6 0-15 0-15 0-15 0-15 0-15 0-15 0-15 0-14 0-15 0-15 0-15 0-15 0-15 0-15 0-15 0-15 0-14 0-15 0-15 0-15 0-15 0-11 -17-1 -17-1 -17 0 -16-1 -14-1 -3 0 -17-1 -17-1 -17 0 -17-1 -16-1 -17-1 -17-1 -17 0 -17-1 -17-1 -17 0 -16-1 -17-1 -17-1 -17 0 -17-1 -17-1 -16-1 -17 0 -9-1 -8 0 -17-1 -17-1 -17-1 -16 0 -17-1 -17-1 -17 0 -17-1 -17-1 -17 0 -16-1 -17 0 -17 0 -17-1 -17 0 -17-1 -16 0 -17-1 -17-1 -17 0 -17-1 -17-1 -16-1 -3 0 -14 0 -17-1 -17-1 -17-1 -17 0 -17-1 -16 0 -17 0 -17-1 -17 0 -17 0 -17 0 -16 0 -17 1 -17 0 -17 1 -17 1 -17 2 -16 2 -17 3 -17 3 -17 3 -15 4 -2 1 -17 4 -17 4 -16 6 -1 0 -16 5 -17 6 -11 4 -6 2 -17 6 -17 7 -16 7 -15 8 -2 1 -17 9 -8 5 -9 5 -15 10 -2 1 -17 10 -4 3 -13 8 -10 7 -6 5 -16 10 -1 1 -17 11 -5 3 -12 7 -12 8 -5 3 -17 10 -4 2 -12 7 -15 8 -2 1 -17 8 -12 6 -5 2 -17 7 -13 6 -4 1 -16 7 -16 6 -1 1 -17 7 -17 7 -2 0 -15 6 -17 8 -4 1 -13 6 -16 7 -5 2 -12 6 -17 8 -2 1 -15 7 -15 8 -2 1 -17 9 -8 5 -8 5 -16 10 -1 0 -17 11 -5 4 -12 8 -9 7 -8 5 -13 9 -4 3 -16 12 0 1 -17 13 -2 1 -15 12 -4 3 -13 10 -6 5 -11 8 -8 7 -9 7 -10 8 -7 5 -12 10 -4 3 -15 12 -2 1 -17 13 -17 13 -3 2 -14 11 -6 4 -11 9 -8 6 -8 7 -11 8 -6 5 -12 10 -5 4 -14 11 -3 2 -15 13 -2 1 -15 14 -2 1 -16 13 0 1 -17 14 0 1 -17 14 0 1 -16 14 -1 1 -16 14 -1 1 -15 14 -2 1 -15 14 -2 2 -14 13 -2 2 -15 13 -2 2 -15 13 -2 2 -14 12 -3 3 -13 12 -4 4 -12 11 -5 5 -10 10 -6 6 -9 9 -8 8 -6 7 -11 12 -2 3 -13 15 -2 2 -11 13 -6 7 -6 7 -11 13 -2 2 -13 15 -1 2 -12 13 -5 6 -8 9 -9 10 -4 5 -13 14 0 1 0 15 0 15 0 14 0 15 0 15 0 15 0 15 0 15 0 15 0 15 0 15 0 15 0 14 0 15 0 15 0 15 0 15 0 15 0 15 0 2z" fill="#fc9c80"/>
<path d="M362 2230l10-9 6-6 11-10 5-5 12-11 3-4 13-13 2-2 14-15 1-1 13-13 4-5 10-10 7-8 7-7 10-11 4-4 13-12 3-3 13-13 3-2 14-13 2-2 15-13 2-2 15-13 2-2 15-13 2-2 15-12 2-2 14-13 4-2 13-12 4-3 13-12 4-3 13-11 5-4 12-10 6-5 11-9 7-6 10-8 8-7 8-7 10-8 7-5 13-9 4-4 15-11 2-2 17-13 1 0 16-12 4-3 12-9 9-6 8-6 12-9 5-3 16-12 1 0 17-12 4-3 13-9 8-6 8-6 13-8 4-4 17-11 17-12 5-3 12-9 10-6 7-5 15-10 2-1 16-11 5-3 12-8 12-7 5-3 17-10 4-2 13-7 14-8 3-1 16-9 10-5 7-3 17-7 9-4 8-4 17-7 12-4 5-2 16-7 17-6 2 0 15-6 17-6 9-3 8-3 17-6 17-6 16-6 17-6 7-3 10-4 17-7 10-4 7-3 17-7 10-5 6-3 17-7 9-5 8-3 17-8 7-3 10-5 17-8 4-2 12-6 17-8 4-1 13-6 17-7 5-2 12-5 17-6 11-4 6-2 16-6 17-5 9-2 8-2 17-5 17-5 12-3 5-1 16-5 17-4 17-4 4-1 13-3 17-4 17-3 17-4 3-1 13-2 17-4 17-3 17-3 17-2 17-3 16-3 17-3 17-3 17-3 4 0 13-2 17-3 16-3 17-2 17-2 17-3 5 0 12-2 17-2 17-1 16-2 17-1 17-1 17-1 17-1 17-1 16-2 17-1 9 0 8-1 17-1 17 0 17-1 16-1 17-1 17 0 17-1 17 0 17 0 17-1 16 0 17 0 17 0 17 0 17 0 17 0 16 0 17 0 17 0 17 0 17 0 17 0 16 1 17 0 17 0 17 0 17 0 17 0 17 1 16 0 17 0 17 1 17 0 17 0 17 1 16 0 17 1 17 0 17 1 0-14 0-15 0-15 0-15 0-15 0-15 0-14 0-15 0-15 0-15 0-15 0-15 0-15 0-15 0-15 0-14 0-15 0-15 0-15 0-6 -17-1 -17-1 -17 0 -16-1 -17-1 -17-1 -17 0 -17-1 -17-1 -16 0 -17-1 -17-1 -6 0 -11 0 -17-1 -17-1 -17 0 -16-1 -17-1 -17 0 -17-1 -17-1 -17 0 -16-1 -17 0 -17-1 -17-1 -17 0 -17-1 -16 0 -17-1 -17 0 -17-1 -17 0 -17 0 -17-1 -16 0 -17 0 -17 0 -17 0 -17 0 -17 0 -16 0 -17-1 -17 0 -17 0 -17 0 -17 0 -16 0 -17 0 -17 0 -17 0 -17 0 -17 0 -17 1 -16 0 -17 1 -17 1 -17 0 -17 1 -17 1 -16 1 -17 1 -17 2 -17 1 -17 2 -15 2 -2 0 -16 2 -17 3 -17 3 -17 4 -15 3 -2 0 -17 4 -17 4 -16 5 -7 2 -10 3 -17 5 -17 5 -5 2 -12 3 -17 6 -13 6 -3 1 -17 7 -13 6 -4 3 -17 8 -7 4 -10 6 -16 9 -1 1 -17 10 -7 4 -9 6 -15 9 -2 1 -17 10 -6 4 -11 6 -15 9 -2 1 -17 9 -8 5 -8 4 -17 8 -5 3 -12 5 -17 7 -5 2 -12 5 -17 7 -9 3 -7 3 -17 7 -15 5 -2 1 -17 7 -17 6 -3 1 -14 6 -17 6 -6 3 -10 4 -17 8 -7 3 -10 4 -17 8 -5 3 -12 6 -17 9 -16 9 -10 6 -7 4 -16 11 -1 0 -17 11 -5 3 -12 9 -9 6 -8 6 -12 9 -4 3 -16 12 -1 1 -17 13 -2 1 -15 12 -4 3 -13 10 -6 5 -11 8 -8 7 -9 6 -11 9 -5 4 -14 10 -3 3 -17 12 -17 13 -3 2 -14 10 -6 5 -11 8 -9 7 -7 6 -12 9 -5 4 -14 11 -3 2 -15 13 -2 1 -17 14 -17 14 -1 0 -15 14 -2 1 -15 13 -2 2 -15 13 -2 2 -15 13 -2 2 -15 13 -2 2 -15 13 -1 2 -16 13 -1 2 -15 13 -2 2 -15 13 -1 2 -16 13 -1 1 -16 15 -1 0 -16 15 -16 15 -1 1 -14 14 -2 2 -13 13 -4 4 -10 11 -7 8 -6 7 -11 13 -1 2 -13 14 -3 4 -10 11 -7 9 -5 6 -11 13 -3 2 -13 15 -1 2 -12 13 -5 6 -9 9 -8 9 0 6 0 15 0 14 0 15 0 15 0 15 0 15 0 15 0 15 0 15 0 15 0 15 0 14 0 15 0 15 0 15 0 15 0 15 0 6z" fill="#fc8f73"/>
<path d="M367 2215l5-5 11-10 6-6 9-9 8-7 7-8 9-9 6-6 11-12 3-2 13-15 1-1 13-14 4-5 10-10 7-7 8-8 9-9 6-6 10-9 6-6 11-10 6-5 11-10 5-5 12-10 5-5 12-10 5-4 12-10 5-5 11-10 7-5 10-10 7-5 10-9 7-6 10-9 7-6 10-8 8-7 9-7 9-8 8-6 10-9 6-5 12-9 5-4 14-11 3-3 16-12 1-1 17-13 2-1 15-11 5-4 11-9 9-6 8-6 12-9 5-3 16-12 1 0 17-12 3-3 14-10 7-4 9-8 11-7 6-5 15-10 2-2 17-12 2-1 15-10 7-5 10-7 11-8 6-3 16-12 1 0 16-10 7-5 10-6 15-9 2-1 17-10 7-4 10-5 16-9 2 0 15-8 16-7 1-1 17-7 17-7 17-7 16-6 5-2 12-5 17-6 11-4 6-2 17-6 17-6 1-1 16-5 16-7 8-3 9-3 17-7 12-5 5-2 17-7 12-6 5-2 16-7 11-5 6-3 17-8 9-4 8-4 17-8 6-3 11-6 16-7 4-2 13-6 17-8 3-1 14-6 17-7 5-2 12-4 17-6 14-5 2-1 17-5 17-5 15-4 2 0 17-5 17-4 16-5 4-1 13-3 17-4 17-4 14-3 3-1 17-4 17-3 16-4 17-3 2 0 15-3 17-3 17-3 17-3 16-3 2 0 15-3 17-3 17-3 17-2 17-3 7-1 9-2 17-2 17-3 17-2 17-2 17-2 17-1 11-1 5-1 17-1 17-1 17-1 17-1 17-1 16-1 17-2 17 0 17-1 17-1 17-1 16-1 17 0 17-1 17 0 17-1 8 0 9 0 17 0 16 0 17-1 17 0 17 0 17 0 17 0 16 1 17 0 17 0 17 0 8 0 9 0 17 0 16 0 17 1 17 0 17 0 17 0 17 0 17 1 16 0 17 0 17 1 17 0 17 0 17 1 16 0 17 1 17 0 17 1 0-6 0-15 0-15 0-15 0-15 0-14 0-15 0-15 0-15 0-15 0-15 0-15 0-15 0-15 0-14 0-15 0-15 0-1 -17 0 -17-1 -17-1 -16-1 -17 0 -17-1 -17-1 -17 0 -17-1 -16-1 -17 0 -17-1 -17-1 -17 0 -17-1 -17 0 -16-1 -17 0 -17-1 -17-1 -17 0 -17-1 -12 0 -4 0 -17-1 -17 0 -17-1 -17 0 -17-1 -16 0 -17 0 -17-1 -17 0 -17 0 -17 0 -17 0 -16-1 -17 0 -17 1 -17 0 -17 0 -17 0 -16 0 -17 0 -17 0 -17 0 -17 1 -17 0 -16 0 -17 0 -17 1 -17 0 -17 1 -17 1 -6 0 -11 0 -16 1 -17 1 -17 1 -17 2 -17 1 -17 1 -16 2 -17 1 -17 2 -17 2 -10 1 -7 1 -17 2 -16 3 -17 3 -17 3 -13 3 -4 0 -17 4 -17 4 -17 4 -8 3 -8 2 -17 4 -17 5 -10 3 -7 2 -17 6 -17 5 -5 2 -11 4 -17 8 -8 3 -9 4 -17 9 -5 2 -12 6 -16 9 -1 1 -17 9 -8 5 -8 5 -17 9 -1 1 -16 9 -11 6 -6 3 -17 9 -4 3 -13 6 -16 8 -17 8 -16 7 -1 1 -17 7 -17 6 -2 1 -15 6 -16 6 -10 3 -7 3 -17 6 -17 6 -17 6 -17 6 -6 3 -11 4 -16 6 -11 5 -6 2 -17 8 -11 5 -6 2 -17 8 -8 5 -9 4 -16 9 -3 2 -14 8 -11 6 -6 4 -17 11 -17 12 -5 3 -12 8 -9 7 -7 6 -13 9 -4 3 -16 12 -1 0 -17 13 -2 2 -15 11 -5 4 -12 9 -7 6 -10 6 -10 8 -6 5 -14 10 -3 3 -17 12 -17 12 -4 3 -13 10 -7 5 -10 7 -10 8 -6 5 -13 10 -4 3 -16 12 -1 1 -17 13 -1 1 -16 13 -2 1 -15 12 -3 3 -13 11 -5 4 -12 11 -5 4 -12 10 -6 5 -11 10 -6 5 -11 10 -5 5 -12 10 -5 5 -12 10 -5 5 -11 10 -6 5 -11 10 -6 4 -11 11 -5 4 -12 11 -5 4 -12 11 -4 4 -13 12 -3 3 -13 13 -2 2 -15 15 -13 15 -4 4 -9 11 -8 8 -5 6 -12 14 -1 1 -12 15 -4 4 -10 11 -6 8 -7 7 -10 12 -3 3 -14 15 -13 15 -4 4 0 11 0 14 0 15 0 15 0 15 0 15 0 15 0 15 0 15 0 15 0 15 0 14 0 15 0 15 0 15 0 15 0 11z" fill="#fc8367"/>
<path d="M356 2215l16-15 16-15 1-1 14-14 3-2 12-13 4-5 10-9 7-8 7-7 10-12 3-3 13-15 1-1 14-14 3-3 12-12 5-5 10-10 6-6 10-9 7-6 9-9 8-7 9-8 8-7 9-7 8-7 9-8 8-7 9-8 7-7 10-8 7-7 10-8 7-6 10-9 7-6 10-9 7-6 11-9 6-5 11-10 6-4 12-10 4-4 14-11 3-3 16-12 1-1 17-14 1 0 16-13 3-2 14-11 5-4 11-8 9-7 8-6 12-9 5-3 16-12 1-1 17-12 2-1 15-11 5-4 11-9 10-6 7-6 13-9 4-3 17-12 17-12 3-3 14-9 8-6 9-6 12-9 4-2 17-11 2-2 15-9 9-6 8-5 17-9 0-1 17-9 10-5 6-4 17-8 6-3 11-5 17-8 5-2 12-5 17-7 7-3 9-4 17-7 12-4 5-2 17-6 17-6 1-1 16-6 17-6 7-3 9-3 17-7 12-5 5-2 17-7 13-5 4-2 17-8 11-5 5-3 17-8 9-4 8-4 17-8 6-3 11-6 17-8 2-1 14-7 17-8 1 0 16-8 17-7 17-7 17-6 4-2 13-4 16-6 17-5 17-5 17-4 17-5 2 0 15-5 16-4 17-4 9-2 8-2 17-4 17-4 17-4 5-1 12-3 16-3 17-4 17-3 13-2 4-1 17-3 17-3 16-3 17-3 14-2 3-1 17-3 17-2 17-3 16-3 17-2 7-1 10-1 17-3 17-2 17-2 17-1 16-1 17-2 17-1 17-1 13-1 4 0 17-1 16-1 17-1 17-1 17-1 17-1 17-1 16-1 17 0 17-1 17 0 17-1 17 0 17 0 16 0 17 0 17 0 17 0 17 0 17 0 16 0 17 0 17 0 17 1 17 0 17 0 16 0 17 0 17 1 17 0 17 0 17 0 17 1 16 0 17 0 17 1 17 0 17 1 17 0 16 0 17 1 17 1 17 0 0-12 0-15 0-15 0-14 0-15 0-15 0-15 0-15 0-15 0-15 0-15 0-15 0-14 0-9 -17-1 -17 0 -17-1 -16-1 -17-1 -17 0 -17-1 -17-1 -17 0 -16-1 -17 0 -17-1 -17-1 -17 0 -17-1 -17 0 -16-1 -17 0 -17-1 -17 0 -17-1 -17 0 -16-1 -17 0 -17 0 -17-1 -17 0 -17-1 -16 0 -17 0 -17 0 -17-1 -17 0 -17 0 -17 0 -16 0 -17 1 -17 0 -17 0 -17 0 -17 0 -16 1 -17 0 -17 0 -17 1 -17 0 -17 0 -16 1 -17 0 -17 1 -17 1 -17 0 -17 1 -17 1 -16 2 -15 1 -2 0 -17 1 -17 2 -17 1 -17 2 -16 1 -17 2 -17 2 -17 2 -14 2 -3 0 -17 2 -16 3 -17 3 -17 4 -12 2 -5 2 -17 3 -17 5 -17 4 -5 1 -11 3 -17 5 -17 5 -7 2 -10 3 -17 5 -17 6 -3 1 -13 5 -17 7 -8 3 -9 4 -17 8 -5 3 -12 6 -17 8 -1 1 -16 8 -11 7 -5 2 -17 10 -6 3 -11 6 -17 8 0 1 -17 8 -12 6 -5 3 -16 8 -10 4 -7 4 -17 7 -12 4 -5 2 -17 7 -17 6 -1 0 -15 6 -17 5 -11 4 -6 2 -17 6 -17 6 -3 1 -14 5 -17 6 -11 4 -5 2 -17 7 -15 6 -2 0 -17 8 -15 7 -2 0 -17 9 -10 5 -6 4 -17 9 -4 2 -13 8 -11 7 -6 4 -17 11 -17 11 -5 4 -11 8 -10 7 -7 5 -13 10 -4 2 -17 13 -17 12 -3 3 -14 10 -6 4 -11 8 -9 7 -7 6 -14 9 -3 3 -17 12 -17 12 -4 3 -13 9 -8 6 -9 6 -11 9 -5 4 -15 11 -2 1 -17 13 -1 1 -16 12 -3 2 -14 11 -5 4 -12 10 -6 5 -10 9 -8 6 -9 8 -9 7 -8 7 -9 8 -8 7 -9 8 -8 7 -9 8 -8 6 -9 9 -8 6 -9 9 -7 6 -10 8 -7 7 -10 8 -7 7 -10 8 -7 7 -9 8 -8 7 -8 8 -9 7 -7 8 -9 9 -6 6 -11 11 -4 4 -13 14 -1 1 -12 14 -4 5 -9 10 -8 10 -5 5 -12 14 -1 1 -13 15 -2 3 -11 12 -6 7 -8 8 -9 10 -4 5 -13 13 0 2 0 14 0 15 0 15 0 15 0 15 0 15 0 15 0 15 0 15 0 15 0 14 0 15 0 15 0 15 0 15 0 1z" fill="#fa755b"/>
<path d="M362 2200l10-9 5-6 12-11 4-4 13-13 1-2 15-14 0-1 14-14 3-4 10-11 7-8 7-7 10-11 3-4 14-14 0-1 16-15 1-1 14-14 2-2 14-13 3-3 13-12 4-3 13-11 4-4 13-11 4-4 12-11 5-4 12-11 4-4 13-11 4-4 13-11 4-4 13-11 4-3 13-12 4-3 13-12 4-3 13-11 4-3 14-12 2-2 16-13 1-1 17-14 17-14 2-1 15-12 4-3 13-10 6-5 10-8 9-7 8-6 12-9 5-4 15-10 2-2 17-13 1 0 16-12 3-3 13-10 7-5 10-8 10-7 7-5 13-10 4-3 16-12 1 0 17-12 3-3 14-10 7-5 9-6 13-9 4-3 17-11 1 0 16-10 8-5 9-6 16-9 1 0 16-10 11-5 6-3 17-9 7-3 10-5 17-7 7-3 10-4 16-7 10-4 7-3 17-7 14-5 3-1 17-7 17-6 2-1 15-6 16-6 7-2 10-5 17-7 8-3 9-4 17-8 7-3 10-5 16-8 5-2 12-6 17-9 1 0 16-8 14-7 3-2 17-8 10-5 6-3 17-8 8-4 9-4 17-8 8-3 9-4 17-6 12-4 5-2 16-6 17-5 10-2 7-3 17-4 17-5 13-3 4-1 16-5 17-4 17-4 5-1 12-3 17-4 17-4 17-3 2-1 14-3 17-4 17-3 17-3 11-2 6-1 17-3 16-3 17-3 17-3 9-2 8-1 17-3 17-3 16-3 17-2 17-2 4-1 13-2 17-2 17-1 17-2 16-1 17-2 17-1 17-1 17-1 17-1 9-1 7 0 17-1 17-1 17-1 17-1 17-1 16-1 17 0 17-1 17 0 17 0 17-1 17 0 16 0 17 0 17 0 17 0 17 0 17 0 16 1 17 0 17 0 17 0 17 0 17 1 16 0 17 0 17 0 17 1 17 0 17 0 17 0 16 1 17 0 17 1 17 0 17 1 17 0 16 1 17 0 17 1 16 0 1 0 0-15 0-14 0-15 0-15 0-15 0-15 0-15 0-15 0-15 0-13 -17-1 -16-1 -1 0 -17 0 -16-1 -17-1 -17 0 -17-1 -17 0 -17-1 -16 0 -17-1 -17-1 -17 0 -17 0 -17-1 -17 0 -16-1 -17 0 -17-1 -17 0 -17-1 -17 0 -16-1 -17 0 -17 0 -17-1 -17 0 -17 0 -16-1 -17 0 -17 0 -17 0 -17 0 -17 0 -17 0 -16 0 -17 0 -17 1 -17 0 -17 0 -17 1 -16 0 -17 0 -17 1 -17 0 -17 1 -17 0 -16 1 -17 0 -17 1 -17 1 -17 1 -17 1 -17 1 -16 2 -17 1 -7 0 -10 1 -17 2 -17 1 -17 2 -16 2 -17 2 -17 1 -17 2 -15 2 -2 1 -17 2 -16 3 -17 4 -17 3 -10 2 -7 2 -17 4 -17 4 -17 5 -2 0 -14 4 -17 5 -17 5 -3 1 -14 4 -17 6 -16 5 -1 0 -16 6 -17 7 -5 2 -12 5 -17 8 -4 2 -13 6 -17 8 0 1 -17 8 -12 6 -4 3 -17 9 -8 3 -9 5 -17 9 -3 1 -14 7 -16 8 -1 0 -16 8 -16 7 -1 0 -17 7 -17 6 -4 2 -13 5 -17 5 -13 5 -3 1 -17 5 -17 6 -9 3 -8 2 -17 6 -17 5 -4 2 -13 4 -16 6 -13 5 -4 1 -17 7 -17 6 0 1 -17 7 -16 7 -1 1 -16 8 -11 6 -6 4 -17 9 -3 2 -14 9 -10 6 -7 4 -16 11 -1 0 -16 12 -5 3 -12 8 -9 7 -8 5 -13 10 -4 2 -17 12 -17 12 -4 3 -13 10 -7 5 -9 7 -12 8 -5 4 -17 11 -17 12 -4 3 -13 9 -8 6 -9 6 -12 9 -4 3 -17 12 -17 13 -3 1 -14 11 -5 4 -12 9 -7 6 -10 8 -9 7 -7 6 -11 9 -6 5 -12 10 -5 4 -12 11 -5 4 -13 11 -4 3 -13 12 -4 3 -13 12 -4 3 -13 11 -3 3 -14 12 -3 3 -14 12 -3 3 -14 12 -3 2 -14 13 -3 3 -13 12 -4 3 -12 12 -4 4 -11 11 -6 6 -8 9 -9 9 -4 5 -13 15 -13 15 -4 5 -9 10 -8 9 -5 6 -11 13 -2 2 -14 15 -1 1 -13 14 -4 5 -9 10 -8 8 0 6 0 15 0 15 0 15 0 15 0 15 0 15 0 15 0 15 0 15 0 14 0 15 0 15 0 15 0 7z" fill="#f66652"/>
<path d="M367 2185l5-4 11-11 6-6 8-9 9-8 6-6 10-11 4-4 13-14 1-1 13-15 3-3 10-12 7-7 7-8 10-10 4-5 13-12 2-3 14-13 2-2 15-14 1-1 16-14 0-1 16-14 1-1 16-14 1-1 16-14 1-1 15-14 1-1 16-14 1-1 16-14 1-1 16-14 1-1 15-14 2-1 15-13 2-2 15-13 2-1 16-14 0-1 17-14 17-14 1-1 16-13 2-2 15-12 4-3 13-10 5-5 11-9 8-6 9-7 10-7 7-6 12-9 5-4 15-11 2-2 17-13 16-13 3-2 14-11 5-4 12-9 8-6 9-7 10-8 7-5 13-10 4-3 16-12 1 0 16-12 4-2 13-10 8-5 9-7 13-8 4-3 17-10 3-2 14-9 11-6 5-3 17-9 5-3 12-6 17-8 1-1 16-8 16-7 1 0 16-8 17-6 1-1 16-7 17-6 3-1 14-6 17-7 5-2 12-5 16-7 8-3 9-4 17-8 8-3 9-5 17-8 5-2 12-6 16-8 2-1 15-8 13-7 4-2 17-9 7-4 10-5 17-8 2-2 14-7 16-7 1-1 17-9 14-5 3-2 17-7 16-6 1-1 17-6 16-5 11-3 6-2 17-5 17-4 14-4 3-1 17-4 16-5 17-4 6-1 11-3 17-4 17-4 17-3 2-1 15-3 16-4 17-4 17-3 4-1 13-3 17-3 17-4 16-3 11-2 6-1 17-3 17-4 17-3 17-2 8-2 8-1 17-3 17-3 17-2 17-2 17-2 17-1 2 0 14-2 17-1 17-2 17-1 17-1 17-1 16-1 17-1 17-1 17-1 17-1 17-1 16-1 17 0 9 0 8-1 17 0 17 0 17-1 17 0 16 0 17 0 17 0 17 0 17 0 17 1 16 0 17 0 17 0 16 1 1 0 17 0 17 0 16 0 17 1 17 0 17 0 17 0 17 1 17 0 16 0 17 1 17 0 17 0 17 1 17 0 16 1 17 0 17 1 17 0 0-6 0-15 0-15 0-15 0-15 0-7 -17 0 -17-1 -17-1 -16-1 -17 0 -17-1 -17-1 -17 0 -17-1 -16-1 -17 0 -17-1 -17 0 -17-1 -17 0 -17 0 -16-1 -17 0 -17 0 -17-1 -17 0 -17-1 -16 0 -17 0 -17-1 -17 0 -17 0 -17 0 -16 0 -17-1 -17 0 -17 0 -17 0 -17 0 -17 0 -16 1 -17 0 -17 0 -17 0 -17 1 -17 0 -16 0 -17 1 -17 0 -17 0 -17 1 -17 0 -16 1 -17 0 -17 1 -5 0 -12 1 -17 1 -17 1 -17 1 -16 2 -17 1 -17 1 -17 2 -17 1 -17 1 -16 2 -15 1 -2 0 -17 2 -17 2 -17 3 -17 2 -16 3 -17 3 -17 4 -17 4 -17 4 -11 3 -6 1 -17 5 -16 5 -14 4 -3 1 -17 5 -17 6 -10 3 -7 2 -17 6 -16 6 -2 1 -15 6 -17 7 -4 1 -13 7 -17 7 -2 1 -15 7 -16 8 -1 0 -16 9 -13 6 -4 2 -17 9 -10 4 -7 4 -17 8 -7 3 -10 4 -16 7 -9 4 -8 3 -17 6 -16 6 -1 0 -17 6 -17 5 -12 4 -4 1 -17 5 -17 5 -12 4 -5 1 -17 5 -17 5 -11 3 -6 2 -16 6 -17 5 -6 2 -11 4 -17 7 -11 4 -6 3 -17 7 -11 5 -5 3 -17 9 -7 3 -10 6 -16 9 -1 0 -17 11 -6 4 -11 6 -13 9 -3 2 -17 11 -2 2 -15 10 -7 4 -10 7 -12 8 -5 4 -16 11 -1 1 -17 11 -3 3 -13 9 -9 6 -8 6 -14 9 -3 2 -17 11 -2 2 -15 10 -7 5 -10 6 -12 9 -4 3 -17 11 0 1 -17 12 -4 2 -13 10 -7 5 -10 8 -9 7 -8 6 -11 9 -5 4 -14 11 -3 3 -15 12 -2 2 -16 13 -1 1 -16 14 -1 0 -16 15 -1 0 -17 14 -16 15 -1 0 -16 14 -1 1 -16 14 -2 1 -15 14 -2 1 -15 14 -1 1 -16 14 0 1 -16 15 -15 15 -2 2 -12 12 -5 6 -8 9 -9 10 -4 5 -13 15 -13 15 -4 4 -9 11 -7 8 -7 7 -10 11 -4 4 -13 14 -1 1 -13 14 -3 3 0 12 0 15 0 15 0 15 0 15 0 15 0 15 0 15 0 15 0 14 0 15 0 15 0 12z" fill="#f25748"/>
<path d="M357 2185l15-14 0-1 15-15 2-1 13-13 4-4 10-11 6-7 8-8 9-10 5-5 12-14 1-1 13-15 3-4 10-11 7-7 8-8 9-9 6-6 10-10 5-5 12-11 4-3 13-13 3-2 14-13 3-2 14-13 2-2 15-13 2-2 14-13 2-2 15-14 1-1 16-14 1-1 16-14 0-1 17-14 16-15 1-1 16-14 1-1 16-14 17-15 17-14 1-1 16-14 1-1 16-13 2-2 15-12 3-3 13-11 5-3 12-11 6-4 11-9 8-6 9-8 9-7 8-6 11-9 6-5 12-10 4-4 14-11 3-2 16-13 1-1 17-14 17-13 2-2 15-12 3-2 14-11 5-4 11-9 9-6 8-7 12-8 5-4 15-11 2-1 17-12 3-2 14-10 8-5 8-5 16-10 1 0 17-11 8-4 9-5 17-9 17-10 10-5 6-4 17-9 5-2 12-8 15-7 2-2 17-11 4-2 13-12 5-3 -5-6 -17-3 -17 1 -17 2 -17 2 -17 3 -8 1 -8 2 -17 5 -17 4 -16 4 -1 0 -17 6 -17 6 -6 3 -10 4 -17 8 -7 3 -10 5 -17 8 -2 2 -15 8 -12 7 -5 2 -16 10 -4 2 -13 9 -11 6 -6 4 -17 11 -1 0 -16 11 -6 4 -11 7 -12 8 -5 3 -16 11 -2 1 -15 10 -8 5 -9 6 -14 9 -3 1 -17 11 -4 3 -13 8 -9 6 -7 5 -16 10 -1 2 -17 11 -3 2 -14 10 -7 5 -10 8 -10 7 -7 5 -12 10 -4 3 -15 12 -2 1 -17 14 -17 14 -1 1 -16 13 -2 2 -15 12 -2 2 -15 13 -3 2 -13 12 -4 3 -13 11 -5 4 -12 11 -5 4 -12 10 -5 5 -12 10 -5 5 -12 10 -4 5 -12 11 -4 4 -13 13 -2 1 -14 15 -1 2 -12 13 -5 6 -8 9 -9 10 -4 5 -13 14 0 1 -14 15 -2 3 -11 12 -6 6 -8 9 -9 9 -5 5 -12 13 0 2 0 15 0 15 0 15 0 15 0 15 0 15 0 15 0 15 0 14 0 15 0 15 0 2z" fill="#e84a42"/>
<path d="M362 2170l10-10 5-5 12-12 2-2 15-15 14-15 2-3 11-12 6-7 7-8 10-11 4-4 13-15 13-15 4-4 11-11 6-6 9-9 7-7 8-7 9-9 7-6 10-10 5-5 12-11 5-4 12-11 4-4 13-12 3-3 13-12 3-3 14-13 3-2 14-13 2-2 15-14 1 0 16-15 16-15 1-1 15-14 2-1 15-14 1-2 15-13 2-2 15-13 2-2 14-13 3-2 14-13 3-2 14-12 3-3 14-12 2-3 15-12 2-2 15-13 2-2 15-13 2-2 15-13 2-2 15-13 2-2 14-13 2-2 14-13 3-3 13-12 4-4 11-10 6-7 9-8 8-10 6-5 11-13 2-2 7-15 -9-5 -17 4 -3 1 -14 6 -17 8 -2 1 -15 8 -14 7 -3 1 -16 10 -7 4 -10 5 -17 9 -1 1 -16 9 -9 5 -8 5 -17 9 -1 1 -15 10 -9 5 -8 5 -16 10 -1 1 -17 11 -4 3 -13 9 -8 6 -9 6 -11 9 -5 4 -15 11 -2 1 -17 13 0 1 -17 13 -2 2 -15 12 -3 2 -14 12 -4 3 -13 11 -5 4 -11 10 -6 5 -11 9 -7 6 -10 8 -8 7 -9 8 -8 7 -9 7 -8 8 -9 7 -7 8 -9 8 -7 6 -10 11 -5 4 -12 13 -2 2 -13 15 -2 2 -11 13 -6 7 -7 8 -10 10 -4 5 -12 13 -2 2 -14 15 -1 1 -12 13 -5 5 -10 10 -7 8 0 7 0 15 0 15 0 15 0 15 0 15 0 15 0 15 0 14 0 15 0 7z" fill="#dd403d"/>
<path d="M365 2155l7-6 8-8 9-9 5-6 12-12 3-3 13-15 1 0 13-15 3-4 10-11 7-9 5-6 12-13 1-2 14-15 2-2 12-13 5-4 10-10 6-7 9-8 8-8 7-7 10-10 6-5 11-10 5-5 12-11 4-4 13-12 3-3 13-13 3-2 14-13 2-2 15-14 16-15 1-2 14-13 3-3 12-12 5-4 11-11 6-6 9-9 7-7 8-8 9-9 7-6 10-10 5-5 12-12 3-2 14-15 14-15 3-3 10-12 6-8 6-7 10-15 -16-10 -16 5 -12 5 -5 2 -17 9 -7 4 -10 6 -16 9 -1 0 -17 11 -5 4 -11 8 -10 7 -7 5 -14 10 -3 2 -17 12 0 1 -17 13 -2 1 -15 12 -3 3 -14 11 -4 4 -12 10 -7 5 -10 9 -8 6 -9 8 -9 7 -8 7 -9 8 -8 6 -9 9 -8 6 -9 8 -7 7 -9 8 -8 8 -7 7 -10 11 -4 4 -13 14 -1 1 -12 15 -4 4 -10 11 -7 7 -7 8 -9 10 -5 5 -12 13 -2 1 -14 15 -1 1 -13 14 -4 4 0 11 0 15 0 15 0 15 0 15 0 15 0 15 0 14 0 11z" fill="#d13438"/>
<path d="M368 2141l4-5 10-10 7-7 7-8 10-10 4-5 12-14 2-1 12-15 3-3 10-12 7-8 5-7 12-13 1-2 13-15 3-2 11-12 6-6 9-9 7-8 7-7 10-10 5-5 12-12 3-3 14-13 2-2 15-14 0-1 15-15 2-1 13-14 3-3 12-11 5-6 9-9 8-9 7-6 10-11 4-4 13-14 1-1 12-15 4-5 8-10 9-12 2-3 1-15 -3-1 -4 1 -13 6 -17 8 -2 1 -15 10 -7 5 -10 7 -12 8 -5 3 -15 12 -2 1 -16 13 -2 1 -15 12 -4 3 -13 10 -6 5 -11 9 -7 6 -10 8 -8 6 -9 8 -8 7 -8 8 -8 7 -9 9 -6 6 -11 11 -4 4 -13 14 -1 1 -13 15 -3 2 -11 13 -6 6 -8 9 -8 8 -6 6 -11 12 -4 3 -13 14 -2 1 -14 15 -1 1 0 14 0 15 0 15 0 15 0 15 0 15 0 13z" fill="#c63136"/>
<path d="M367 2126l5-6 8-9 9-9 5-6 12-12 2-3 13-15 1-1 11-14 6-7 6-8 11-13 2-2 11-15 4-4 8-10 9-10 4-5 13-14 1-1 12-15 3-4 10-11 7-8 6-7 11-13 2-2 9-15 -11-4 -7 4 -10 6 -13 9 -4 3 -16 12 -17 15 -1 0 -15 15 -1 1 -13 14 -4 3 -10 12 -7 6 -7 9 -10 9 -5 5 -11 11 -4 4 -13 13 -3 2 -14 14 -1 1 -15 15 -1 1 0 14 0 15 0 15 0 15 0 12z" fill="#b92e33"/>
</g>
<g transform="scale(0.1)" fill="none" stroke="#808080" stroke-opacity="0.16" stroke-width="8.0" stroke-linejoin="round">
<path d="M355 2632l3-103 2-78 3-64 3-47 3-42 2-27 3-19 3-19 2-15 3-9 3-7 2-9 6-11 5 2 6-12 5-13 6-20 5-12 5-5 6 2 5-9 6 2 5-7 5-6 6-1 5 5 6-4 5-7 5-2 6-12 5-6 6-8 5-10 5-11 6 1 5-3 6 4 5-12 6 8 5 6 5 5 6-10 5-3 6-4 5 0 5 3 6-1 5-5 6 2 5 4 5-12 6-8 5-12 6 5 5-4 6-13 5 5 5 5 6-8 5-1 6-10 5-3 5-4 6 6 5-9 6 4 5-16 5-10 6 1 5 1 6-5 5-9 5 3 6-8 5 3 6-17 5-6 6-10 5-9 5 0 6 2 5-8 6 5 5-28 5-19 6 20 5 22 6-11 5 6 5 5 6-9 5-3 6 4 5-16 5-31 6-20 5 9 6 6 5-12 6-1 5-19 5 13 6-2 5 41 6 3 5 4 5 10 6 4 5 6 6 3 5 5 5-7 6-12 5-14 6 1 5-4 6-29 5 2 5-2 6 11 5-28 6 3 5-9 5-1 6 12 5 5 6 3 5-13 5-9 6 5 5-2 6 12 5 24 5 0 6-13 5 26 6-8 5-21 6-10 5 20 5-4 6 18 5-9 6 15 5-1 5 1 6 15 5-5 6 18 5 1 5-19 6-14 5-38 6 0 5 18 5 3 6-9 5 15 6 12 5-9 6-1 5-17 5 7 6-9 5 26 6-8 5-11 5 30 6-21 5 11 6-4 5 38 5-15 6-1 5-9 6 17 5-10 6-23 5-30 5-6 6 12 5-17 6-17 5-18 5-2 6-25 5 0 6-12 5-20 5 37 6-14 5 4 6 24 5 14 5-8 6 12 5-51 6 23 5-11 6-27 5 13 5 20 6 16 5-36 6 21 5-18 5-19 6-24 5 10 6 23 5 1 5 15 6-24 5 19 6-11 5 22 6 7 5-28 5 7 6-46 5-13 6-19 5 19 5-13 6-11 5-14 6-24 5 20 5 5 6-4 5 19 6-49 5 12 5 5 6 6 5 21 6 1 5 12 6 21 5-42 5-36 6-8 5-5 6-13 5 19 5-2 6 6 5-22 6-23 5 12 5 32 6 3 5 8 6-2 5-13 6-24 5-2 5-59 6 8 5-12 6 5 5-22 5 36 6-6 5 9 6 11 5 21 5-10 6 14 5-19 6 12 5-14 5 6 6-6 5 16 6-4 5 2 6 3 5-36 5 17 6 34 5 16 6-25 5-27 5 3 6-18 5 16 6-27 5 5 5-4 6-15 5 11 6 29 5-19 5 12 6 8 5-51 6-25 5 22 6 8 5-12 5 3 6-25 5-20 6 14 5 0 5-17 6 8 5 5 6 4 5 27 5 26 6-5 5 2 6-46 5-18 6 11 5 6 5 11 6-6 5-16 6 11 5-24 5-1 6-2 5 24 6-27 5 22 5-11 6-22 5-1 6 18 5 8 5 24 6 15 5 17 6 6 5-8 6 5 5 25 5-8 6-18 5-7 6 10 5 15 5-31 6-11 5 19 6 31 5-10 5-11 6 0 5-35 6 19 5-11 5 7 6 16 5 9 6 35 5 8 6 8 5-17 5-8 6 5 5 19 6-9 5 13 5 14 6-3 5-15 6-22 5-13 5 26 6-9 5-5 6-20 5-5 6-2 5 7 5-31 6-25 5 3 6-9 5 11 5-10 6-2 5 15 6 34 5-40 5 26 6-26 5-8 6 9 5 2 5 21 6-19 5-41 6-31 5-19 6 15 5 23 5-19 6-3 5 33 6 18 5-2 5 26 6-25 5 4 6-22 5 9 5 48 6-12 5-18 6 2 5-4 6 32 5 15 5 2 6-1 5-8 6 20 5 17 5-21 6-20 5 8 6 6 5 7 5-3 6 17 5-21 6 0 5 2 5-4 6 5 5-16 6 3 5-20 6 13 5 5 5 19 6 45 5 0 6 14 5-2 5-56 6 16 5 5 6-37 5 27 5 22 6-27 5 14 6-16 5 20 6-12 5-7 5 4 6-4 5 10 6-9 5 8 5 12 6-2 5 23 6-5 5-25 5-29 6 40 5 22 6 6 5 5 5-52 6-43 5 18 6 5 5-12 6 1 5-18 5 31 6-3 5 19 6-10 5 28 5-11 6 1 5-15 6 6 5 5 5 16 6-28 5-12 6-2 5 8 5 13 6-18 5 17 6-6 5-11 6 4 5-5 5 29 6 14 5 7 6 2 5 9"/>
<path d="M355 2632l3-141 2-107 3-83 3-67 3-45 2-33 3-30 3-21 2-24 3-14 3-13 2-6 6-21 5-4 6-11 5-4 6-8 5-4 5 4 6-3 5-7 6-3 5-3 5-13 6-6 5-23 6-8 5-3 5-3 6-2 5-1 6 3 5-8 5-1 6-9 5-6 6-1 5-6 6-3 5-5 5-14 6-4 5-4 6 7 5-13 5-12 6-4 5-3 6-3 5-6 5-2 6-9 5-4 6-14 5-4 6-1 5-5 5-10 6-5 5 1 6-13 5-1 5 2 6-6 5 8 6-7 5 1 5-8 6 6 5-14 6-14 5 6 5-1 6 6 5-5 6-23 5 9 6-6 5-5 5-12 6 1 5 8 6-1 5 3 5-3 6-15 5-8 6-35 5 1 5-18 6 3 5-17 6 12 5-26 5-42 6 8 5-6 6 13 5 12 6-4 5 8 5-7 6-9 5-5 6-4 5-4 5-5 6-13 5-11 6-4 5 19 5 9 6-18 5-3 6-14 5 4 6 3 5 7 5-34 6 6 5-13 6-5 5-21 5 1 6-2 5-2 6-19 5-16 5-18 6-3 5-11 6-7 5 6 5 15 6-16 5-18 6-10 5-18 6-2 5-27 5 12 6 15 5-6 6-21 5-16 5-6 6-11 5-60 6-6 5 13 5-9 6 15 5-1 6-6 5 0 5 7 6 4 5-2 6 6 5 10 6-3 5 27 5 0 6 4 5 31 6-13 5-9 5-12 6 11 5-7 6-15 5-42 5-3 6-20 5 29 6 37 5-16 6 2 5-17 5-5 6 8 5-19 6-63 5 13 5-13 6 17 5-35 6 33 5-9 5-10 6 2 5-12 6 4 5-20 5 6 6 23 5-19 6-19 5 3 6-22 5 22 5 8 6 14 5-3 6 2 5 19 5 2 6-13 5-10 6-9 5-25 5 9 6 7 5-2 6 6 5-4 6 5 5 25 5 2 6 2 5-3 6 34 5-13 5 22 6 3 5 8 6-22 5-16 5-11 6-14 5 26 6-2 5 9 5 26 6-27 5 17 6 13 5-11 6-9 5 25 5 2 6-9 5 5 6-6 5-3 5-9 6 3 5-22 6-33 5-36 5-3 6-4 5-32 6-26 5 9 6-12 5-10 5 19 6 26 5 1 6-8 5-8 5 37 6 7 5 6 6 4 5 5 5-23 6 16 5-4 6-37 5-9 5-3 6-26 5-17 6-14 5 1 6 30 5-3 5-4 6-26 5-31 6 18 5-1 5 4 6 5 5 13 6 17 5-41 5-6 6 48 5-17 6-29 5 0 5 3 6 7 5 47 6-16 5-29 6 13 5 6 5-11 6 22 5 28 6-8 5-33 5 5 6-27 5 33 6 33 5 5 5-10 6 4 5-22 6 19 5 0 6-8 5-6 5-10 6-10 5-14 6 6 5 28 5 3 6 23 5 10 6-7 5-18 5-17 6 32 5-20 6-5 5 7 5 29 6-7 5-16 6-25 5-35 6-19 5 28 5-11 6-3 5 10 6-2 5 13 5 23 6 30 5 8 6-47 5-53 5 39 6 25 5-16 6-24 5 3 5-2 6-7 5 9 6-14 5 5 6 29 5 28 5-3 6 7 5 19 6 50 5 31 5-4 6 2 5-19 6 2 5-24 5 11 6 10 5-14 6-13 5-3 6-4 5-11 5-16 6 12 5 10 6-35 5-8 5-31 6-28 5 8 6-12 5 3 5-5 6 15 5-8 6 0 5-4 5-40 6 13 5-1 6-30 5 17 6 4 5-22 5 2 6-25 5-14 6 3 5-1 5 38 6 16 5-17 6-13 5 4 5-23 6-14 5 6 6 14 5 0 6-14 5 15 5-29 6 1 5-23 6 15 5 23 5 0 6 12 5 36 6-36 5-8 5-17 6-7 5 9 6-3 5-26 5 10 6 20 5 16 6 21 5-3 6-5 5 3 5 34 6-8 5 1 6-14 5-27 5 1 6-4 5 29 6-26 5-6 5 40 6-27 5-28 6 31 5-11 6 3 5 2 5-22 6 1 5 23 6 17 5-9 5 5 6 18 5-14 6 18 5 39 5-40 6-5 5-38 6-9 5 2 5 45 6-1 5 26 6 9 5-11 6 8 5-11 5 0 6-1 5-11 6 22 5 11 5 31 6-6 5 9 6 39 5-15 5-14 6-5 5-1 6 4 5-9 5 2 6-10 5-2 6 13 5 5 6 19 5-9 5 25 6-13 5 8 6-3 5-11"/>
<path d="M355 2632l3-123 2-97 3-74 3-53 3-45 2-39 3-34 3-13 2-19 3-16 3-6 2 0 6-15 5 3 6-21 5-7 6-3 5-14 5-18 6-10 5-3 6-11 5-2 5-10 6-24 5-13 6 4 5-5 5 0 6-4 5-10 6-1 5-6 5-9 6-9 5-4 6-5 5 8 6 2 5-3 5 2 6 5 5-3 6-8 5-7 5-3 6 0 5-17 6 5 5-3 5-4 6-3 5-7 6-6 5-7 6 2 5-4 5-1 6-9 5 0 6-3 5-16 5 0 6-6 5 4 6-4 5-15 5-7 6-4 5-1 6-8 5-12 5-21 6 1 5-8 6-2 5 11 6-10 5-7 5 6 6-9 5-14 6-8 5 11 5-2 6-15 5 13 6-12 5 4 5 11 6-3 5 15 6-2 5-15 5-6 6-16 5 10 6 24 5 13 6-26 5-7 5-16 6-2 5-9 6-10 5 6 5-5 6-7 5 23 6 14 5-11 5 1 6 5 5-3 6-1 5-7 6-5 5 6 5-23 6 3 5-26 6-32 5-19 5 5 6-4 5 9 6 1 5 17 5 11 6-26 5 6 6 8 5-28 5 19 6 4 5-47 6 14 5 7 6-5 5 2 5 27 6 4 5 7 6 25 5-10 5-5 6-8 5-44 6 4 5 6 5-22 6 25 5-7 6 6 5-28 5-7 6 12 5-6 6-18 5-2 6-11 5-28 5 6 6-13 5-11 6 3 5-5 5 14 6-32 5-22 6 1 5-5 5 2 6 6 5-27 6 9 5 4 6 20 5-16 5 9 6-1 5 16 6 13 5 5 5 35 6 6 5 21 6-20 5 8 5-1 6-3 5-1 6-3 5-57 5 7 6 18 5 12 6-4 5-4 6 9 5-28 5-2 6-11 5 6 6 10 5-35 5-14 6 24 5-4 6 6 5-5 5-13 6 19 5-2 6-14 5-26 6-21 5 13 5-34 6 19 5 19 6 22 5 29 5-7 6-8 5-9 6-9 5-12 5-43 6-10 5-24 6-15 5-3 5 25 6 24 5-8 6-24 5 4 6-15 5-15 5-19 6-22 5 22 6-20 5-19 5 11 6-9 5-26 6 0 5-3 5-7 6 4 5-8 6-44 5 19 6-12 5 11 5-10 6 1 5-31 6 16 5 6 5-12 6-4 5 24 6 3 5-12 5-11 6 18 5-36 6 22 5 1 5 6 6 2 5-10 6-16 5-21 6 1 5-17 5-24 6 25 5 7 6 21 5 19 5 14 6 12 5-11 6-15 5 20 5-15 6 24 5-3 6-6 5 27 5-5 6 39 5 25 6 4 5 2 6-6 5-12 5-8 6-16 5-7 6-27 5 0 5-15 6 25 5-14 6-1 5-4 5 1 6-7 5-23 6 5 5-13 6-11 5 6 5 5 6-15 5 52 6 16 5 12 5 38 6 0 5 6 6-20 5 18 5 34 6-9 5-19 6 15 5-13 5 8 6-8 5-34 6 29 5 2 6 5 5-3 5 29 6-27 5-12 6-19 5-10 5-6 6-24 5 1 6 26 5-13 5 22 6-8 5-8 6 23 5-6 5 35 6 39 5 2 6-19 5-36 6 21 5-23 5-10 6 10 5-9 6-16 5 25 5-5 6-11 5-11 6-2 5 10 5-24 6-11 5 12 6 12 5 38 6-35 5-6 5-17 6 6 5 11 6-15 5-40 5-13 6-11 5 35 6-57 5 6 5 1 6 30 5-17 6-6 5-11 5-16 6 19 5-4 6 6 5-3 6 22 5 25 5-5 6-11 5 12 6-7 5 10 5 4 6 11 5 25 6-21 5-6 5 17 6-13 5-9 6-3 5-20 6 46 5-20 5-10 6 1 5 12 6-10 5-6 5-3 6-8 5 25 6-27 5-12 5 2 6-9 5-10 6 3 5 20 5 17 6-19 5 14 6-4 5 0 6-30 5-11 5-27 6 59 5 1 6-36 5 25 5-18 6-6 5-26 6 8 5-40 5-5 6 14 5 21 6 38 5 5 6 30 5-3 5 38 6 12 5 15 6-41 5-35 5 2 6 37 5-15 6 12 5-9 5-13 6 12 5-24 6-24 5 19 5 5 6 13 5 15 6 21 5-17 6-22 5 7 5 14 6 7 5-7 6-8 5 13 5 3 6 14 5 7 6 1 5-17 5 25 6-19 5 4 6 21 5 3 5-41 6 21 5 16 6 10 5 17 6-18 5 4 5 29 6-7 5 47 6 0 5 10"/>
<path d="M355 2632l3-128 2-95 3-81 3-50 3-41 2-36 3-27 3-15 2-14 3-12 3-16 2-15 6-21 5-18 6-5 5-11 6 1 5-7 5-5 6-20 5-11 6-3 5-9 5-6 6-12 5 11 6-1 5-19 5 2 6-7 5 4 6-8 5 0 5-5 6-12 5-3 6 7 5-9 6-11 5-6 5-1 6-22 5-4 6-7 5-6 5 3 6-12 5 2 6-3 5-15 5 0 6-6 5-4 6-5 5-6 6-2 5-8 5 6 6-17 5-2 6-1 5 15 5-9 6-4 5-12 6-3 5-7 5-2 6 2 5-18 6-8 5 1 5 0 6 5 5-10 6 1 5-3 6 0 5-6 5 8 6 2 5 3 6 5 5-10 5-24 6-11 5 11 6-8 5-3 5 18 6 7 5-19 6-11 5 12 5-16 6-21 5-4 6 3 5-18 6 6 5 3 5-5 6-10 5-6 6-14 5 8 5 5 6-7 5-10 6 1 5-9 5-1 6-17 5-5 6-31 5 26 6-13 5-24 5-20 6-18 5-1 6-9 5-16 5 9 6-33 5 15 6-21 5-15 5-14 6-37 5 13 6 27 5 4 5 0 6 15 5 11 6 15 5-22 6 16 5-6 5-26 6-16 5 15 6-3 5 23 5 16 6 32 5-27 6-29 5-4 5-27 6 8 5 5 6-2 5 10 5 4 6-8 5 8 6-19 5 6 6 5 5-13 5-39 6-9 5 1 6-5 5-30 5 5 6-24 5-4 6 0 5 18 5-20 6-7 5-10 6-3 5 19 6-10 5 7 5 31 6-31 5 1 6-12 5-26 5 32 6-2 5 32 6-34 5 9 5 11 6 27 5 6 6-14 5 10 5 13 6-7 5-18 6-32 5 18 6-22 5 7 5 14 6-13 5 12 6-2 5 19 5-6 6 44 5-30 6-33 5 21 5-13 6-5 5-4 6-10 5 0 6-31 5-8 5-14 6 10 5 11 6-28 5 2 5 2 6 2 5 16 6-48 5 18 5 2 6-23 5-16 6-24 5 18 5-6 6 10 5-13 6 3 5 7 6 21 5 5 5-14 6 0 5 5 6-23 5-5 5-18 6 10 5-10 6 9 5-26 5-6 6 4 5 29 6 16 5-7 6-26 5 7 5 20 6-7 5 21 6-6 5-42 5 1 6 13 5-20 6 12 5-20 5 17 6 11 5-9 6-17 5-27 5-4 6-24 5-6 6 0 5 17 6 28 5-18 5-3 6 13 5 13 6-23 5-3 5-12 6 13 5 24 6 9 5-2 5 4 6-14 5 20 6 7 5-12 5 17 6-10 5 20 6 16 5-18 6-1 5-1 5-28 6 5 5 27 6 16 5 12 5-28 6-24 5-8 6 19 5 9 5-4 6-39 5 4 6 12 5 26 6 11 5-15 5-13 6 21 5 26 6-19 5-7 5-24 6 24 5-15 6 20 5 43 5 24 6 0 5-22 6 16 5-26 5-58 6-10 5-19 6 8 5 23 6-12 5 21 5-4 6-32 5-21 6-34 5-14 5-34 6 53 5-2 6-17 5 5 5 11 6 5 5 37 6-18 5 6 5-4 6 20 5-13 6 34 5-1 6 27 5 2 5 7 6 10 5 16 6 17 5 19 5-11 6 40 5 3 6 2 5-56 5-6 6 7 5-20 6-2 5-13 6-5 5 4 5-7 6 29 5-24 6 26 5-8 5 15 6-10 5 6 6-27 5 17 5 2 6-32 5-17 6-14 5-22 5-3 6-20 5 18 6-7 5-2 6 19 5-8 5-19 6 19 5-11 6-16 5 21 5 14 6-7 5 5 6 1 5 20 5 24 6-17 5-42 6 14 5 37 6-23 5 27 5-3 6-9 5 33 6 8 5-20 5 13 6 27 5 23 6 10 5 8 5 0 6 21 5-3 6-26 5-45 5-4 6-28 5-47 6-12 5-27 6-1 5-48 5 31 6 14 5-20 6 7 5-11 5-2 6-15 5 9 6-3 5 12 5 6 6 0 5-2 6 3 5-10 6-9 5 2 5 6 6 31 5 6 6-25 5-5 5 19 6-26 5 46 6 30 5-11 5 53 6-8 5 14 6 3 5 3 5-8 6 13 5-29 6-10 5-16 6-19 5-43 5 16 6 2 5-9 6 2 5-3 5-33 6 14 5-11 6-15 5-13 5-37 6 25 5 9 6 19 5 2 5 3 6 24 5 10 6 9 5 23 6 24 5 13 5 0 6-33 5-14 6-26 5-35"/>
<path d="M355 2632l3-139 2-108 3-81 3-61 3-39 2-35 3-26 3-19 2-22 3-18 3-12 2-8 6-6 5-15 6-4 5-7 6-11 5-18 5-11 6-8 5 8 6 0 5-13 5-16 6-18 5-7 6-8 5 0 5-11 6-11 5-16 6-5 5-12 5-6 6-11 5-7 6 3 5 14 6 1 5-14 5 1 6 2 5-11 6-5 5 1 5 3 6-4 5-6 6-2 5-7 5-2 6-19 5 5 6 1 5 3 6 2 5-6 5-11 6-5 5-4 6-7 5-8 5-11 6-12 5-9 6-14 5-8 5-21 6-4 5-6 6-8 5 5 5-5 6 5 5-5 6 4 5 4 6-14 5 4 5-20 6-1 5 4 6 11 5-8 5-13 6-5 5-16 6-19 5 13 5-12 6-3 5-13 6 13 5-28 5-2 6 1 5-4 6-11 5 9 6-13 5-8 5 0 6-2 5-4 6 25 5-6 5-18 6-21 5-1 6-5 5 23 5 3 6-13 5 6 6-5 5-13 6 1 5-8 5-5 6 15 5 3 6-7 5 14 5-27 6 7 5 22 6-2 5 28 5 19 6-15 5 36 6-19 5-11 5 1 6 4 5 15 6 23 5-31 6-26 5 5 5 4 6-35 5 5 6-35 5 7 5 9 6-18 5-4 6 7 5 9 5 4 6 23 5-9 6 16 5 0 5-16 6-20 5-20 6-23 5 36 6 1 5 12 5-1 6-27 5-6 6-22 5 12 5-8 6-23 5-49 6-27 5-12 5-7 6 0 5 17 6-29 5-7 6-12 5-21 5 33 6-33 5 20 6 14 5 8 5-14 6-1 5-25 6-1 5-12 5-14 6-19 5 3 6-8 5 5 5 9 6 17 5 43 6 0 5-4 6 7 5-9 5 21 6-28 5 1 6 17 5 18 5 1 6 3 5-20 6-21 5-14 5-23 6-23 5-17 6 6 5 19 6-43 5-26 5 15 6 40 5-23 6-20 5 8 5 14 6-10 5-26 6 5 5-27 5 0 6-7 5-9 6 7 5-31 5 17 6 0 5-10 6-1 5-8 6 15 5-22 5-27 6 15 5 7 6-6 5 40 5-1 6 16 5 11 6 4 5-11 5-7 6 7 5-6 6 23 5-3 6-14 5-22 5 12 6 4 5-36 6 15 5-28 5-3 6-8 5 1 6 3 5-19 5-9 6-9 5-11 6 44 5-16 5-26 6 24 5-31 6 29 5-15 6-4 5-31 5 38 6 6 5-15 6 2 5 2 5-8 6-7 5 1 6-22 5-11 5-39 6 6 5-13 6-3 5-20 5-5 6 2 5-5 6 22 5-32 6 17 5 22 5 45 6-4 5-33 6 14 5-16 5-8 6-29 5 12 6-2 5-13 5-10 6-20 5-16 6-2 5 20 6 16 5 15 5 12 6 20 5 1 6 18 5 23 5 3 6 7 5-9 6 7 5-18 5 12 6-20 5-11 6 19 5 2 5-16 6-32 5-23 6-5 5 12 6 1 5-5 5-1 6 7 5 22 6-12 5-3 5-7 6-17 5-14 6-14 5 7 5-22 6 4 5 17 6-13 5 1 5 7 6-28 5-5 6 1 5 4 6-1 5 5 5-17 6-10 5-11 6 34 5 38 5 23 6 36 5 34 6-16 5-24 5-42 6 3 5 3 6 1 5 10 6-2 5-20 5 23 6-11 5 7 6-7 5-2 5 26 6 10 5-5 6 22 5-7 5-49 6-1 5-21 6-10 5 14 5 59 6 23 5-9 6 40 5-1 6 14 5 51 5-16 6-38 5 20 6-7 5-59 5-45 6 9 5 33 6 1 5 12 5 17 6-13 5-21 6-17 5 32 6-5 5-12 5-2 6-17 5 10 6-37 5 8 5 28 6-10 5 0 6 17 5 3 5 15 6 2 5-9 6-21 5-17 5-29 6 7 5 10 6 18 5 3 6 20 5 27 5 17 6 31 5-25 6-14 5-16 5 9 6 27 5 26 6-10 5 3 5-19 6 6 5-14 6-20 5-26 6-23 5 7 5 8 6-1 5 33 6-16 5-22 5 13 6 9 5 3 6 28 5 15 5 29 6-14 5 9 6-21 5-1 5-26 6 22 5 8 6 0 5 12 6-25 5-12 5-3 6 7 5 13 6-3 5-8 5-13 6 12 5-2 6 19 5 1 5 12 6 21 5-13 6 6 5-12 5-40 6-26 5 3 6 9 5-5 6 27 5-7 5 18 6 4 5 26 6 8 5 16"/>
<path d="M355 2632l3-137 2-102 3-78 3-60 3-43 2-34 3-19 3-16 2-17 3-9 3-14 2-11 6-15 5-13 6-13 5-6 6-2 5-3 5-6 6-4 5-13 6-9 5 2 5-8 6-4 5-7 6-4 5-11 5-7 6-12 5 7 6-5 5-11 5 3 6-18 5 5 6-8 5-6 6 15 5-4 5-2 6-1 5-6 6-15 5 0 5-16 6-27 5 0 6 4 5-2 5 3 6-5 5-6 6-10 5-9 6-5 5 2 5-15 6 10 5-2 6-17 5-9 5-6 6-9 5-24 6-4 5-6 5 3 6-8 5 8 6 1 5-5 5-7 6-15 5-3 6-9 5-13 6-6 5-13 5 3 6 9 5-1 6-13 5 10 5-9 6 5 5 2 6-8 5-23 5 18 6-24 5 1 6 2 5-17 5-9 6 1 5 14 6-27 5 3 6-15 5-10 5-1 6 7 5 7 6-16 5-18 5 3 6-25 5-12 6 32 5-28 5-1 6-23 5-30 6-21 5-6 6-24 5 31 5-11 6-6 5 14 6-15 5 8 5 6 6-15 5-8 6-20 5 29 5 4 6-3 5 14 6 5 5-7 5-31 6 3 5-12 6-19 5-9 6 13 5 4 5-23 6 25 5 3 6 23 5-1 5-20 6 2 5-13 6-5 5-7 5-27 6 9 5-17 6 23 5 4 5-27 6-19 5 25 6 9 5 10 6-2 5 17 5-1 6-30 5 0 6-1 5 16 5 3 6 2 5 1 6 16 5-6 5 9 6 15 5 12 6-20 5-7 6-7 5 18 5-11 6-8 5-5 6-7 5-21 5 25 6-22 5-24 6-6 5-23 5-59 6-45 5 19 6-10 5 15 5-39 6 6 5-19 6 11 5-7 6-34 5 37 5-12 6-33 5-5 6 18 5-14 5-1 6 22 5-6 6-5 5-15 5-9 6-1 5 13 6-15 5 2 6-1 5 4 5-9 6-9 5 7 6 7 5-7 5 6 6 40 5-9 6-24 5-12 5 13 6-14 5-20 6 18 5-5 5-22 6 0 5-16 6 6 5 21 6 0 5-17 5 15 6-26 5 41 6 37 5 27 5-24 6 17 5-10 6-7 5 6 5-5 6-6 5 11 6-20 5 2 6-1 5 21 5 7 6-4 5-23 6-13 5-19 5-9 6 3 5 22 6-30 5-4 5 18 6-28 5-30 6-1 5 20 5 8 6-4 5 18 6-10 5-28 6 32 5-10 5-38 6 0 5 15 6 9 5-26 5 55 6 7 5 1 6-25 5-25 5 12 6-15 5 29 6 15 5 24 5-1 6 36 5-29 6-45 5-8 6 3 5 39 5-22 6-15 5-28 6 14 5 35 5 2 6-7 5-8 6 8 5 45 5-49 6 5 5-14 6 13 5-4 6 16 5 10 5-17 6 25 5-12 6-9 5 2 5 6 6 6 5 36 6-14 5-56 5 0 6-9 5-21 6-10 5 20 5 32 6 8 5 46 6 16 5-11 6-29 5 1 5 14 6 20 5-9 6-3 5-2 5 43 6-4 5 19 6 6 5 14 5-27 6-13 5 11 6-33 5 10 5-19 6-34 5-39 6-8 5 13 6 7 5 35 5 6 6 9 5-12 6 17 5-40 5-32 6 17 5 0 6 6 5 35 5-5 6 8 5-2 6-2 5 29 6 2 5-14 5 10 6-6 5-14 6-7 5 11 5-1 6-14 5 1 6 21 5-3 5 20 6 27 5-9 6 5 5 7 5 29 6-19 5-6 6 32 5-8 6-7 5-38 5-15 6 14 5 2 6-33 5-42 5-4 6-35 5 22 6-7 5 35 5 6 6 7 5-2 6-30 5-10 6 4 5 3 5 8 6-31 5-12 6 10 5-10 5 1 6 2 5 2 6 14 5-4 5-8 6 29 5-15 6-20 5 28 5-24 6-3 5 24 6-16 5-10 6-1 5 9 5-11 6-11 5-20 6-11 5-12 5 13 6 41 5 2 6-32 5-26 5 7 6-12 5-4 6-6 5-29 6-6 5 10 5-9 6 36 5-14 6-24 5 11 5-22 6 29 5 31 6 13 5-4 5 2 6 6 5-10 6 4 5 2 5 5 6 33 5 4 6 5 5 11 6 29 5-9 5 8 6 14 5-27 6 3 5-10 5 14 6-1 5 14 6-9 5-12 5 6 6-14 5 3 6 0 5-31 5 6 6-5 5 24 6 30 5-23 6-19 5-31 5-24 6-42 5-1 6-11 5-9"/>
<path d="M355 2632l3-132 2-99 3-73 3-50 3-42 2-32 3-24 3-27 2-24 3-10 3-6 2-9 6-12 5-9 6 4 5-14 6-5 5-10 5-2 6-13 5-3 6 4 5-2 5-4 6-8 5-3 6-16 5-12 5-4 6 1 5-1 6-6 5-7 5-4 6 0 5-3 6-7 5-1 6-1 5 0 5-1 6 4 5-7 6 8 5-15 5-1 6-11 5 1 6-8 5-16 5-18 6 5 5 5 6 1 5 0 6-7 5-15 5-4 6-18 5-8 6-7 5-13 5-6 6-7 5-6 6-2 5-8 5-10 6 3 5-12 6 0 5-12 5-9 6-2 5-9 6 2 5-8 6-7 5-8 5-1 6 5 5-19 6-14 5 9 5-17 6-7 5 10 6-9 5-14 5-15 6-3 5-18 6-9 5-7 5-1 6 4 5 14 6-7 5-22 6 4 5 5 5-3 6-6 5-4 6 30 5 8 5 0 6 11 5-17 6-2 5-8 5-2 6-2 5 2 6-24 5-18 6-8 5-2 5 10 6-16 5-12 6 5 5-4 5 8 6 4 5-26 6 6 5-13 5-4 6 6 5-10 6-7 5-24 5 16 6-35 5 22 6 27 5-9 6 8 5-17 5 40 6 6 5-3 6-5 5-3 5 5 6-13 5 8 6-26 5-13 5-11 6-16 5-9 6-9 5-24 5-3 6 10 5-24 6 23 5 4 6 10 5-32 5 14 6-43 5-16 6-18 5 17 5 14 6 11 5-9 6-10 5-10 5 19 6 12 5 3 6-21 5 16 6 15 5-28 5 3 6 1 5-11 6 11 5-4 5-5 6 29 5 7 6 28 5-15 5 30 6-1 5 41 6 11 5-56 5-17 6-28 5-15 6 10 5 15 6-28 5 10 5-28 6 22 5 1 6-38 5-8 5-20 6 21 5 4 6 11 5-6 5-7 6 19 5 13 6 18 5-58 6-9 5-35 5-19 6-4 5 43 6-2 5-13 5-15 6-14 5 4 6-24 5-6 5-10 6-26 5-8 6-13 5 7 5-1 6-26 5-5 6 4 5-30 6-12 5-11 5-1 6-3 5-12 6 26 5 3 5-53 6 10 5 11 6-12 5 6 5 14 6 12 5-23 6-18 5 7 6 12 5 34 5 7 6-38 5-5 6 33 5 10 5 11 6 9 5-7 6-36 5 16 5 22 6 10 5-3 6-25 5-32 5 16 6-12 5-17 6 23 5 15 6 16 5 34 5-17 6-7 5-5 6 10 5-20 5 16 6-13 5-17 6 8 5 10 5-17 6-11 5 3 6 1 5-9 5-8 6-6 5 6 6 35 5-11 6 5 5 7 5 18 6-7 5 19 6-11 5 27 5-39 6-8 5-13 6 5 5 7 5-31 6-17 5 7 6-15 5 35 6 13 5-3 5-18 6-10 5-1 6-2 5 4 5 21 6-9 5-14 6 0 5-11 5 53 6-3 5-29 6 0 5-27 5 18 6 10 5 6 6-3 5 21 6-15 5 28 5 4 6 8 5 6 6-29 5 7 5-5 6-3 5 12 6-29 5-24 5-10 6-4 5-6 6 0 5 1 5 32 6 29 5 24 6-2 5-17 6-8 5 2 5-24 6-12 5 0 6-1 5-23 5 7 6-21 5 9 6 28 5-41 5-16 6 20 5 26 6 11 5-12 6-5 5 22 5-11 6-9 5-4 6-5 5-2 5-3 6 28 5-12 6 1 5-17 5-12 6 22 5-11 6 20 5-31 5-8 6 17 5-1 6-45 5 41 6 16 5 5 5 16 6-34 5-9 6 14 5-11 5 21 6 28 5-10 6-8 5 0 5-3 6-29 5-1 6-13 5 4 6 10 5 23 5 9 6 30 5-14 6 7 5 11 5 2 6-6 5 19 6-19 5 13 5-18 6-11 5-27 6 29 5 0 5-13 6 11 5-19 6-2 5-22 6 3 5-1 5-2 6-44 5-20 6 34 5 23 5-40 6 14 5 19 6-7 5 6 5 28 6-18 5-11 6 10 5 1 6-9 5-6 5 1 6-1 5-3 6 7 5-5 5 12 6 20 5 1 6 9 5-9 5 4 6 18 5 7 6-18 5-3 5 25 6 0 5 0 6 3 5-21 6 9 5 24 5 8 6-11 5 8 6 26 5 5 5 10 6 25 5 3 6-25 5-9 5 34 6-5 5-14 6 2 5-29 5 5 6 1 5 3 6-14 5-4 6 7 5-12 5-3 6 5 5-26 6 16 5-7"/>
<path d="M355 2632l3-125 2-94 3-72 3-60 3-42 2-31 3-21 3-18 2-17 3-9 3-13 2-6 6-20 5-30 6-3 5 3 6-10 5-9 5-9 6-12 5-4 6-22 5 1 5 4 6-4 5-7 6-8 5-6 5-4 6-13 5-2 6-12 5-14 5-12 6 3 5-4 6-11 5-7 6-10 5 3 5 1 6 6 5-5 6-7 5 0 5-4 6-18 5 2 6-9 5-11 5-3 6-9 5-30 6-4 5-4 6-4 5-2 5-7 6 0 5 5 6-3 5-2 5-8 6 5 5-12 6-8 5-5 5 0 6-7 5-16 6 5 5 6 5-13 6-8 5-14 6-5 5 9 6-8 5-10 5-11 6 2 5-20 6-1 5-2 5 10 6 2 5 5 6-3 5-6 5 10 6-5 5-4 6-16 5 4 5-2 6 19 5-2 6-20 5 19 6-2 5-5 5 4 6-11 5 2 6 3 5 10 5-1 6 3 5-1 6-3 5-20 5-32 6-27 5 2 6-10 5 0 6 2 5-17 5-4 6 0 5 0 6-27 5-19 5-31 6 12 5-10 6-3 5 14 5-5 6-19 5-22 6 11 5 23 5-15 6-8 5 6 6-26 5-17 6-8 5-29 5-10 6-18 5 15 6 11 5 11 5 17 6 6 5 7 6-23 5-3 5-13 6 2 5 16 6-32 5-42 5 17 6-24 5 28 6-9 5 0 6-19 5-6 5-2 6-22 5-11 6-21 5 1 5 26 6 5 5-39 6 11 5 0 5 4 6 5 5-43 6 19 5 11 6 3 5-40 5 25 6-7 5-19 6-43 5-35 5 18 6-26 5-8 6 9 5-14 5 10 6-14 5-8 6 23 5 6 5 7 6-30 5-28 6 19 5 27 6 15 5-67 5-1 6 0 5-7 6-8 5 36 5-22 6-7 5 25 6-18 5-4 5-9 6 9 5 39 6-43 5-1 6 0 5-49 5-36 6-20 5 4 6 2 5 11 5-9 6-39 5-6 6-24 5 0 5-21 6 19 5-3 6 43 5 23 5 10 6 12 5-5 6-17 5 7 6-26 5 0 5-10 6-14 5 1 6 4 5-2 5-6 6-9 5-23 6-1 5-6 5-24 6 1 5-16 6 16 5 41 6-6 5-25 5-8 6 12 5-2 6 18 5 15 5-42 6-14 5 26 6-19 5 27 5-4 6 7 5-15 6-3 5-4 5-7 6 3 5 11 6 8 5 18 6 13 5-5 5-23 6 14 5-18 6-13 5 15 5 11 6 16 5-12 6 42 5 13 5-26 6-30 5-24 6-36 5-25 5 16 6-27 5 1 6-22 5 11 6 3 5 23 5 0 6 1 5-13 6-26 5 0 5 43 6-17 5 18 6-6 5-38 5-11 6 6 5 10 6 16 5 36 6 20 5-6 5 23 6-14 5 9 6-26 5-28 5-8 6 37 5-23 6 6 5-13 5-12 6-12 5-5 6 17 5 11 5-3 6-19 5 18 6 5 5-12 6 14 5 0 5 5 6-14 5 46 6-7 5-14 5 11 6 12 5 2 6-19 5-30 5 2 6 3 5-1 6 2 5 5 5-5 6 9 5 5 6-19 5-4 6 22 5-13 5-21 6-37 5-1 6-32 5-14 5 11 6-23 5-22 6 29 5-32 5 38 6-6 5 0 6 16 5 13 6 8 5-51 5-1 6 13 5 18 6 0 5 6 5 18 6 0 5-6 6-37 5 9 5-17 6-6 5-17 6-7 5 19 5 4 6-7 5 0 6 34 5-15 6-6 5 15 5-12 6-6 5-27 6-8 5 24 5 1 6-17 5-16 6-11 5 14 5-19 6 11 5 3 6-5 5-16 6 22 5 19 5-21 6 34 5 2 6-32 5 58 5-19 6-2 5 1 6 47 5 24 5 3 6 11 5 11 6-33 5-4 5 10 6 17 5 8 6 9 5 1 6 9 5-1 5-20 6 17 5 11 6 21 5-1 5 2 6-16 5 34 6 34 5 25 5 19 6-26 5-8 6 22 5-2 6 7 5-6 5 7 6-14 5 18 6-36 5-7 5 20 6-14 5-17 6-10 5-13 5 17 6-28 5-7 6-6 5-9 5-8 6-2 5 2 6 3 5 9 6-27 5-16 5 17 6-30 5 28 6 8 5 19 5-15 6 12 5-16 6 23 5 7 5 9 6-25 5-6 6-15 5-24 5 14 6 9 5 11 6-28 5-12 6-1 5 12 5 42 6-12 5-17 6-18 5-15"/>
<path d="M355 2632l3-126 2-98 3-72 3-56 3-43 2-31 3-23 3-14 2-22 3-9 3-18 2-9 6-18 5-8 6-21 5-4 6-6 5-5 5 3 6-9 5-7 6-8 5-2 5-12 6-4 5 9 6-23 5-10 5-13 6-9 5-1 6-17 5-11 5-4 6 6 5-5 6-1 5-13 6 7 5 5 5 1 6-1 5-6 6-13 5-16 5-4 6-12 5 4 6-4 5-10 5 0 6-3 5-6 6 1 5-14 6 2 5-8 5-2 6-5 5 5 6 1 5-3 5-2 6-5 5-12 6-8 5 9 5-16 6-6 5-7 6-20 5-6 5-13 6 2 5-9 6-3 5-12 6 1 5-3 5 1 6-10 5 5 6-20 5-2 5 8 6-1 5 19 6-9 5-10 5-5 6-5 5 4 6-8 5-13 5-15 6-14 5 3 6-33 5 2 6-9 5 10 5-36 6-8 5-14 6-16 5 2 5-25 6-6 5 18 6 10 5 1 5 5 6-1 5-9 6-24 5-23 6-9 5 7 5-3 6 21 5-2 6 4 5 7 5 6 6-4 5-16 6-2 5-17 5-30 6-13 5-8 6 5 5 4 5-12 6-9 5 12 6 16 5 20 6-16 5 6 5 0 6-34 5-11 6-15 5-24 5 13 6-3 5 1 6-5 5-14 5-7 6 17 5-8 6-34 5-4 5-15 6-8 5 2 6 7 5-6 6-27 5 20 5 8 6 2 5-8 6 5 5-6 5 1 6 9 5 14 6-41 5-19 5-21 6-5 5 11 6-19 5-11 6-2 5 15 5 9 6 22 5 12 6-10 5-5 5 16 6-30 5-3 6-18 5-4 5 28 6-11 5-27 6-31 5 13 5-13 6-13 5 4 6 32 5-21 6-6 5 13 5 29 6-28 5 7 6-16 5-3 5 0 6-10 5-3 6 9 5-27 5 36 6-18 5-25 6-28 5 0 6-33 5-36 5 13 6 13 5 7 6 19 5-8 5-2 6 18 5-23 6 23 5 13 5 7 6 13 5-16 6 2 5 2 5-28 6-53 5-25 6 11 5-2 6 8 5-40 5-13 6 4 5-22 6 49 5-43 5 22 6-3 5-3 6-15 5-24 5 6 6-6 5-2 6-4 5-18 6-19 5-19 5 29 6-29 5-23 6-11 5 13 5 7 6 29 5 6 6-3 5 6 5-7 6 14 5 13 6-5 5 12 5-44 6-4 5 13 6 0 5-18 6-7 5-18 5-18 6-2 5-15 6-13 5-5 5 4 6-1 5 24 6-5 5-3 5-5 6-21 5-10 6 24 5-12 5-4 6-28 5-7 6-20 5-17 6-1 5 31 5 5 6 23 5-21 6 5 5-11 5 2 6-32 5-26 6-10 5 4 5 11 6 19 5-20 6 2 5-9 6 12 5-1 5 24 6 31 5-14 6 13 5-21 5-7 6-29 5 21 6 11 5 7 5 22 6 31 5-16 6 21 5 4 5 8 6 11 5-9 6-18 5 12 6 29 5 24 5-23 6-32 5-5 6 10 5-27 5 12 6-4 5-3 6-18 5 18 5 16 6 25 5 4 6-29 5-48 5 13 6 3 5-20 6-13 5 30 6 14 5 18 5-38 6-8 5 9 6-6 5-32 5 26 6 12 5-18 6 10 5-45 5 24 6-32 5-31 6-19 5 25 6-1 5 17 5-13 6 35 5-27 6 34 5 12 5 16 6 27 5 11 6 1 5-18 5-7 6-12 5-5 6-46 5 31 5 5 6-34 5-20 6-13 5 7 6 31 5-7 5-2 6-13 5 6 6-2 5-19 5 15 6 2 5-13 6-4 5 3 5 9 6-32 5-21 6 13 5-21 6 15 5 32 5 52 6 12 5-13 6-19 5 8 5 4 6 2 5 9 6-27 5-10 5 30 6 6 5 1 6 13 5-18 5 14 6-12 5-4 6-22 5 15 6-2 5-18 5-7 6-2 5-18 6 5 5 22 5-14 6 6 5 7 6 14 5 5 5 11 6 5 5-25 6-6 5-29 6 1 5 8 5-1 6 26 5-37 6 44 5-8 5 8 6 22 5-8 6 12 5-34 5-12 6-9 5 9 6 19 5-9 5-31 6 31 5-18 6-37 5 15 6 27 5-3 5-5 6 8 5 21 6 24 5-5 5 6 6-41 5 38 6 29 5 34 5-6 6-8 5-13 6-73 5-1 5 4 6 12 5-28 6-1 5 22 6 0 5-21 5-1 6-8 5-21 6 8 5 10"/>
<path d="M355 2632l3-130 2-102 3-75 3-67 3-45 2-36 3-31 3-16 2-14 3-15 3-16 2-15 6-13 5-5 6-1 5-13 6 6 5-11 5-5 6-16 5-6 6-2 5-9 5-8 6-9 5-11 6-1 5-2 5-7 6-8 5-15 6 0 5-6 5-3 6-12 5-8 6-22 5-13 6-2 5-2 5 7 6-10 5-19 6-2 5 0 5 15 6-10 5 1 6-10 5-15 5 9 6-5 5-3 6 0 5-3 6-14 5-3 5-4 6-4 5-2 6-19 5-9 5 4 6-1 5-10 6 12 5-11 5-16 6-8 5 7 6-9 5-11 5-7 6-5 5 0 6-8 5 1 6-13 5 4 5-4 6-4 5-14 6-6 5-5 5-13 6 0 5-14 6-12 5-2 5-2 6-5 5-10 6-2 5-2 5-13 6-3 5-5 6 9 5 2 6-7 5 1 5-15 6 9 5-3 6-5 5-22 5-4 6 2 5-18 6 3 5 9 5-19 6-16 5 6 6-24 5-32 6-18 5-2 5 10 6-5 5 3 6-6 5 30 5 0 6-12 5-13 6-16 5-29 5-9 6-24 5 7 6-17 5 5 5 13 6-9 5 21 6-26 5-6 6 15 5-16 5 3 6 22 5 3 6-4 5 29 5-8 6-23 5-15 6 8 5 1 5-29 6 13 5 13 6-16 5 23 5-4 6 10 5-14 6-14 5-22 6 2 5-9 5-43 6 11 5 9 6-28 5 11 5-31 6-2 5-4 6 20 5-31 5-14 6-28 5 3 6 22 5-4 6-22 5 9 5-15 6-25 5-14 6 24 5-2 5 7 6-7 5 23 6 11 5-3 5-17 6 14 5-11 6-10 5 12 5-3 6 3 5-29 6 3 5-33 6 0 5 0 5 0 6 13 5-40 6-37 5-4 5-7 6 44 5-23 6-25 5-19 5-2 6-14 5-25 6-37 5 11 6-31 5-8 5 2 6-6 5 18 6 7 5-15 5-18 6 13 5-9 6-29 5-3 5-18 6-21 5 30 6-25 5 26 5-8 6 4 5 8 6-30 5-27 6 18 5-1 5-17 6 2 5 6 6 2 5-22 5-4 6 22 5-24 6 27 5-43 5 16 6 7 5-18 6-18 5-13 6-34 5-17 5 24 6 27 5 35 6-17 5-9 5-14 6 2 5-2 6 22 5-9 5-17 6-5 5-10 6-35 5 20 5 6 6 12 5 17 6 35 5-13 6-31 5-26 5-3 6-10 5 22 6 16 5-2 5 11 6-8 5-12 6-6 5-2 5-7 6-26 5 7 6 24 5 1 5-23 6-18 5-15 6 5 5 18 6 34 5-16 5-15 6 21 5-10 6 32 5 0 5 29 6 0 5 4 6 19 5-1 5-28 6-3 5 0 6-17 5 0 6-32 5-15 5 21 6-7 5-4 6-12 5 7 5 28 6-8 5-1 6-8 5 4 5 14 6 9 5 9 6-5 5 6 5-25 6-8 5-24 6-17 5 11 6 34 5 16 5-1 6 15 5-24 6-14 5 1 5-41 6 9 5-18 6 17 5-19 5-1 6 20 5-25 6 12 5 6 5 4 6 8 5 5 6-8 5-10 6-9 5-25 5 13 6 1 5-23 6 23 5-32 5 5 6 21 5-8 6 12 5-15 5 4 6 10 5 16 6-13 5-8 6-13 5 4 5 10 6-23 5 22 6 19 5-6 5 17 6 7 5-22 6-1 5 12 5 35 6 18 5-21 6 13 5-5 5 5 6-41 5-19 6 14 5 5 6-1 5 9 5-14 6-21 5 0 6 12 5-23 5-37 6 3 5-3 6-15 5 3 5 27 6 39 5 7 6 30 5 2 6 1 5-2 5 39 6 0 5 8 6 17 5-37 5-34 6 11 5-34 6 2 5-28 5 11 6 26 5-17 6-17 5 11 5 15 6 2 5 8 6 45 5 34 6 23 5 25 5-8 6-17 5-53 6 9 5 8 5-23 6-35 5-25 6 3 5-45 5 21 6-4 5 33 6 32 5-18 6 2 5-20 5 6 6-15 5 24 6 3 5-23 5-23 6 22 5 33 6 5 5 2 5 29 6-4 5 3 6-30 5 2 5 11 6 25 5 16 6 43 5-12 6-14 5-7 5 4 6-31 5-5 6-16 5-34 5 3 6-1 5 34 6 34 5 13 5-27 6-23 5 17 6-34 5 17 5-44 6-11 5-6 6 13 5 5 6-12 5 17 5 15 6-27 5 4 6 8 5-7"/>
<path d="M355 2632l3-150 2-112 3-84 3-69 3-52 2-47 3-32 3-28 2-18 3-20 3-11 2-8 6-17 5-4 6-11 5-11 6-5 5-14 5-6 6 1 5-13 6-7 5-4 5 11 6 1 5-4 6-5 5-9 5-1 6-9 5-7 6 2 5-4 5-7 6-9 5-2 6-10 5 0 6-9 5-18 5-7 6 1 5 0 6-6 5-12 5-5 6 5 5-3 6-14 5 4 5-5 6-16 5 0 6-5 5-3 6-5 5-2 5-17 6-12 5 9 6-5 5-14 5-8 6-13 5-17 6-8 5-3 5-5 6-2 5-8 6 5 5-8 5-4 6-3 5 3 6-4 5-5 6-9 5 1 5-10 6-11 5-4 6-18 5 16 5-6 6-1 5 1 6-4 5-2 5-31 6-7 5-3 6-9 5 11 5-9 6-3 5 2 6-20 5-13 6-4 5-2 5-21 6-2 5 0 6-11 5-11 5-29 6-8 5-17 6 36 5 2 5 0 6-22 5 11 6-7 5-7 6-23 5-22 5-7 6-3 5-30 6 1 5 13 5-21 6 3 5 5 6-5 5 10 5 11 6-29 5-36 6 5 5 5 5 15 6-4 5-10 6 10 5-12 6 12 5 19 5-49 6-24 5 12 6-3 5 2 5 4 6-32 5-3 6-49 5 44 5-8 6-6 5-15 6 7 5 12 5 10 6-4 5 34 6 12 5-20 6-18 5-9 5-3 6-24 5 21 6-12 5-3 5-7 6-7 5-4 6 35 5 0 5-24 6-6 5-12 6 26 5-10 6 7 5-2 5-2 6-21 5 23 6 3 5-7 5-25 6-17 5 25 6-10 5 12 5-4 6 10 5 0 6 5 5 13 5 11 6 9 5 2 6 7 5-6 6-25 5 11 5-3 6-4 5-6 6-48 5 21 5 2 6 11 5 18 6-1 5-9 5-13 6-7 5-10 6 0 5-14 6-15 5-5 5 12 6-13 5-25 6 8 5 1 5 1 6 22 5-42 6 12 5-7 5-18 6-7 5-35 6-14 5 20 5-25 6-4 5-21 6-31 5 7 6 22 5 4 5 11 6 35 5-16 6 8 5 24 5-27 6 34 5-17 6 27 5 1 5-4 6-26 5-31 6 6 5 3 6-17 5-9 5 10 6-52 5-25 6 33 5 12 5 12 6 18 5 1 6 24 5 12 5 20 6 16 5-8 6-2 5 26 5-17 6-7 5 22 6 18 5 12 6-6 5-20 5 9 6-29 5-29 6 27 5-7 5-14 6-13 5 8 6-15 5-13 5 8 6 8 5-15 6 17 5-29 5 14 6 29 5-28 6 13 5-9 6-35 5 9 5 7 6-26 5 21 6 9 5 8 5 24 6 4 5-7 6-39 5-36 5 17 6-37 5-11 6 0 5 21 6-29 5 52 5-10 6-24 5 18 6-23 5 15 5 20 6-21 5 13 6-9 5-6 5-3 6 7 5-9 6-5 5-15 5-13 6 16 5-12 6 23 5-19 6-29 5-16 5 33 6 1 5 21 6 12 5 9 5 0 6-18 5 15 6 39 5-6 5-9 6 27 5-23 6-9 5-30 5-18 6-18 5-2 6-10 5-1 6 15 5 16 5 60 6-4 5-8 6 11 5 17 5-17 6 26 5-15 6 14 5-17 5 4 6-2 5-17 6-5 5 14 6 3 5-3 5-39 6 15 5-22 6-7 5-18 5 16 6 12 5 30 6-4 5-1 5-1 6 7 5-11 6 9 5 2 5-28 6-10 5 1 6 18 5 2 6-16 5 14 5-11 6-27 5 1 6-9 5-3 5 5 6-15 5-31 6 3 5-23 5 32 6 21 5 48 6-16 5 8 6-24 5 16 5-19 6-5 5-3 6-36 5 1 5 6 6-6 5 29 6-7 5 3 5-27 6-29 5 1 6-11 5 7 5-22 6-32 5-6 6-15 5-19 6 7 5 24 5 4 6-21 5 22 6-4 5 10 5 53 6 3 5 19 6 2 5 28 5-8 6-6 5 10 6-27 5-10 6-11 5 18 5-17 6 2 5 5 6 17 5-34 5 21 6 17 5-12 6 13 5-13 5 10 6 18 5-12 6 26 5 13 5 15 6-32 5-1 6 2 5-11 6-1 5 20 5 30 6-18 5-38 6 15 5-6 5-20 6 31 5-9 6 29 5 37 5-10 6-30 5-17 6-3 5-30 5-13 6 12 5 17 6-25 5 31 6-1 5-14 5-19 6 0 5 3 6 23 5 3"/>
<path d="M355 2632l3-133 2-103 3-76 3-63 3-38 2-38 3-28 3-23 2-18 3-16 3-13 2-13 6-18 5-4 6-2 5-13 6 0 5-7 5-6 6-14 5-3 6-12 5-12 5 0 6-21 5-6 6-14 5-17 5-17 6-16 5-12 6 1 5-11 5 4 6 7 5-2 6 11 5-4 6-12 5 2 5 5 6-10 5-3 6 0 5-13 5-4 6-2 5-6 6-9 5-7 5-8 6-6 5 6 6-4 5-4 6-5 5-3 5-9 6-1 5-5 6 0 5 5 5-4 6-8 5-12 6-7 5-5 5-5 6 7 5-10 6-7 5-6 5-4 6 4 5-9 6 2 5-5 6 12 5-8 5-29 6-11 5 9 6-4 5-10 5-21 6-1 5-27 6 19 5 3 5-15 6-11 5-2 6 0 5 10 5-11 6-6 5-26 6 1 5-16 6-9 5-14 5-17 6-25 5-11 6-11 5-6 5-6 6-21 5 10 6-15 5-13 5-13 6-5 5-4 6 19 5 11 6-13 5 6 5 1 6 13 5-9 6 6 5-2 5-13 6-30 5-6 6-8 5 28 5-12 6 3 5-11 6-6 5-1 5-7 6 6 5-25 6-11 5-7 6-26 5-25 5 4 6-4 5 1 6-9 5-33 5 10 6 0 5-11 6 16 5 0 5-1 6-1 5-17 6-29 5-2 5 2 6 4 5-35 6-33 5-14 6 13 5 3 5 2 6-3 5 4 6 27 5-7 5-21 6 9 5-22 6-2 5-61 5-22 6 5 5-4 6-27 5 8 6 5 5 10 5-7 6-6 5 12 6-20 5-32 5 3 6-34 5 11 6 27 5-4 5-16 6-26 5-1 6-14 5-13 5 14 6-15 5 35 6 14 5-4 6 29 5 24 5 7 6 15 5 7 6-1 5-22 5-12 6 14 5-14 6-9 5-18 5-17 6 13 5 28 6 43 5 31 6 8 5 39 5-25 6 4 5-19 6-44 5 28 5 1 6-13 5 0 6 13 5-1 5-6 6 10 5 7 6-11 5 30 5-38 6 13 5 17 6 17 5 1 6-49 5 24 5-7 6 2 5-6 6 25 5-46 5 3 6 7 5-3 6-16 5-25 5 2 6-8 5-9 6-40 5-21 6-17 5-22 5 12 6-42 5-12 6-10 5-28 5 12 6-9 5 29 6-11 5-4 5 10 6 21 5-4 6 33 5-10 5 6 6-10 5-25 6-23 5-1 6-18 5 29 5-4 6 8 5 10 6 30 5-23 5-11 6-26 5-13 6-7 5-6 5 44 6-6 5 10 6-2 5-3 5 22 6 13 5 19 6 8 5-16 6-45 5-20 5 2 6-1 5-16 6 33 5 4 5-6 6-19 5-34 6 22 5 6 5-27 6 11 5-23 6-7 5-12 6 42 5-3 5 15 6-27 5 18 6-46 5 2 5 11 6-18 5-1 6-23 5 5 5-29 6 26 5-28 6 37 5 18 5 27 6 13 5 25 6-17 5-14 6-7 5-1 5-15 6-1 5-19 6 5 5-20 5 3 6-19 5-23 6-14 5 13 5 12 6-16 5 21 6-9 5 1 5-4 6 36 5 13 6 5 5-38 6-13 5 14 5 26 6 9 5-8 6 9 5 3 5 32 6-12 5-40 6 24 5-18 5 18 6 52 5 8 6-34 5-15 6-8 5 16 5-7 6 8 5-29 6-3 5-11 5-14 6 10 5-5 6-1 5-32 5 11 6 2 5-15 6-9 5 13 5-6 6-10 5-26 6-18 5-4 6-13 5 29 5 21 6 12 5-1 6 1 5 31 5 1 6 10 5-3 6 10 5 17 5 9 6-16 5-5 6-11 5 16 6-14 5 0 5 12 6-9 5 22 6 9 5-7 5 0 6 9 5 21 6 16 5-10 5-15 6 12 5-38 6-3 5-20 5 3 6-1 5-12 6 49 5 1 6-45 5-2 5 14 6-17 5-22 6-24 5 9 5 30 6 5 5 17 6 6 5 12 5 3 6 8 5-16 6 9 5-13 6-34 5 9 5-23 6 17 5-16 6 3 5-3 5-3 6-3 5-2 6-5 5-11 5-8 6-5 5 19 6-16 5-25 5 5 6-13 5 14 6 17 5-16 6-13 5-7 5-2 6-33 5 33 6-11 5 1 5 9 6 0 5-21 6 32 5 6 5 5 6 0 5 13 6-5 5-13 5-19 6-32 5 9 6-1 5 8 6 32 5 9 5-5 6-30 5 31 6-17 5 1"/>
<path d="M355 2632l3-143 2-108 3-80 3-60 3-47 2-38 3-29 3-22 2-19 3-13 3-8 2-9 6-13 5-1 6-14 5-19 6-14 5-8 5-4 6-2 5-10 6-14 5-14 5-8 6-4 5 4 6-4 5-3 5-14 6-8 5-17 6-6 5-9 5-10 6-9 5-10 6 6 5-14 6-4 5-10 5 4 6-10 5-10 6-12 5-2 5-2 6 7 5-3 6-9 5 4 5-7 6-10 5-1 6 5 5 1 6-5 5-4 5-3 6-2 5-2 6-1 5-10 5 1 6-6 5-13 6-4 5 2 5-16 6 11 5-10 6-12 5-7 5-11 6 7 5-12 6-3 5-6 6-1 5-17 5 7 6-7 5-16 6 0 5-15 5 8 6-12 5 3 6-6 5 6 5-17 6-18 5-12 6-7 5 4 5-8 6 23 5-20 6 19 5 3 6-11 5-12 5 8 6-3 5-12 6-20 5 0 5 7 6-2 5-15 6-20 5 3 5-8 6-11 5-32 6 8 5-29 6-15 5 1 5-13 6 24 5-2 6-2 5 10 5-5 6-7 5-8 6-2 5 4 5-25 6 14 5-13 6-6 5 7 5-3 6-14 5-19 6-21 5-37 6 2 5 0 5 21 6-18 5 1 6-14 5 3 5 9 6 14 5 4 6 4 5 10 5 0 6-1 5 0 6-14 5 10 5-31 6-4 5 4 6-23 5 15 6-12 5 18 5 17 6 0 5 15 6 41 5 45 5 6 6 23 5-12 6 9 5 21 5-2 6-45 5-20 6 21 5-16 6-9 5 20 5-5 6-5 5-2 6-26 5 21 5-12 6-32 5-17 6-11 5-4 5-11 6 0 5-7 6-23 5-24 5 30 6-14 5-3 6-2 5-14 6-3 5-36 5-2 6 13 5 9 6-23 5 4 5-19 6 2 5-18 6-15 5-14 5-16 6-2 5 6 6 11 5-11 6-21 5-28 5-6 6 5 5-7 6-20 5 16 5-14 6 8 5 9 6-21 5-16 5-1 6-11 5 33 6-42 5 1 5-18 6 10 5 19 6-12 5-7 6-4 5 23 5-11 6 7 5 11 6-18 5 10 5-22 6 0 5-15 6-9 5 8 5 2 6 28 5-5 6 9 5-2 6-26 5-22 5-11 6-3 5-6 6 17 5-22 5-2 6 20 5-27 6-18 5 25 5 22 6-36 5 2 6-19 5-21 5 36 6-15 5-40 6 16 5-20 6-10 5 25 5 15 6-33 5-9 6 3 5-10 5 14 6 9 5-2 6 21 5-31 5-14 6-9 5-15 6 6 5 1 5 12 6-19 5 26 6-3 5-26 6-27 5 19 5 13 6 10 5 2 6-39 5-24 5 6 6 37 5-16 6 20 5 10 5-18 6 8 5 42 6-5 5-7 6-15 5 21 5-4 6 34 5-11 6 9 5-40 5 1 6 13 5 16 6-3 5 37 5-14 6-23 5 22 6-20 5 8 5 8 6 1 5-1 6-7 5-13 6 3 5-12 5 3 6 15 5 28 6-6 5-4 5-54 6-22 5-6 6-6 5-27 5-2 6 10 5 21 6-8 5 11 5 11 6-4 5-4 6 32 5 31 6-24 5 12 5-6 6-3 5-31 6-9 5-26 5 19 6 22 5 9 6 7 5 12 5-21 6-12 5 6 6-15 5-34 6-1 5 9 5 15 6 38 5 23 6 10 5 9 5-48 6 6 5-16 6 24 5-13 5-1 6-15 5 17 6-38 5 4 5 40 6 29 5 31 6 12 5-16 6-13 5-2 5-28 6 28 5 23 6 8 5-18 5 31 6 30 5 5 6-22 5 35 5-13 6 18 5-20 6 13 5 12 6 61 5-27 5-61 6-33 5-23 6-30 5-29 5-19 6 30 5 28 6 26 5-9 5-23 6-11 5 19 6-27 5 16 5 19 6 11 5-18 6-24 5 20 6-8 5-6 5-10 6 14 5 18 6-5 5 24 5-8 6 35 5-25 6-5 5 3 5-12 6 5 5 8 6 19 5-38 6-16 5 10 5 1 6 3 5-16 6-29 5 34 5 37 6-7 5-7 6-21 5 6 5 19 6 8 5 14 6-14 5-18 5 38 6 2 5-27 6-17 5-1 6-12 5 15 5 26 6-11 5-37 6-2 5 24 5-15 6 32 5 1 6 3 5-23 5 17 6 20 5 8 6 4 5 33 5-10 6 28 5 39 6-6 5 21 6-44 5 6 5-5 6 0 5-6 6-50 5-12"/>
<path d="M355 2632l3-121 2-92 3-69 3-52 3-48 2-27 3-22 3-19 2-17 3-10 3-10 2-23 6-25 5-9 6-2 5-6 6 3 5 6 5-9 6-3 5-10 6-24 5-3 5 0 6-7 5-6 6-12 5 2 5-12 6-1 5-10 6-6 5-20 5 5 6 6 5-9 6-7 5 2 6-8 5 6 5-4 6 6 5-11 6-4 5-8 5-4 6-22 5 6 6 0 5-11 5-5 6 1 5-7 6-14 5-2 6-8 5-5 5-4 6 1 5 3 6-3 5 0 5-16 6-7 5 2 6-10 5 5 5-3 6-8 5-1 6 16 5-14 5-21 6 7 5 8 6 0 5-7 6-7 5 3 5-6 6-7 5-12 6-5 5 10 5-9 6-16 5-9 6-17 5-10 5 12 6 5 5 5 6-11 5-13 5-11 6-5 5-4 6 15 5-4 6-22 5-13 5 1 6-41 5 0 6 16 5-1 5-12 6 12 5-16 6 2 5-20 5-7 6-8 5-24 6 12 5-4 6 12 5 14 5-11 6 41 5 14 6 8 5-7 5-8 6-7 5 5 6 30 5-18 5-3 6-2 5 9 6-5 5-9 5-7 6-30 5-7 6-11 5 9 6 26 5 1 5 13 6-12 5 27 6 1 5-1 5 2 6-23 5-30 6-10 5-23 5 14 6 7 5 2 6-27 5 1 5-9 6 0 5-23 6 27 5-15 6-1 5-6 5 32 6 26 5-38 6-14 5-19 5 9 6 2 5-3 6 35 5-15 5-14 6-28 5 10 6 1 5-26 6-2 5 24 5 17 6-10 5 8 6-23 5 13 5 18 6-4 5-21 6 2 5-3 5 26 6 9 5 33 6-21 5-33 5-11 6 10 5-9 6-21 5 6 6 2 5 18 5 4 6-3 5 7 6 3 5-28 5-2 6-11 5 6 6-5 5-22 5-21 6 11 5 22 6-11 5 7 6 3 5-12 5-19 6-29 5-10 6 25 5 23 5-17 6-33 5 15 6 5 5 1 5-5 6 3 5-4 6-16 5-11 5-21 6 17 5 18 6 15 5 29 6 21 5 6 5 0 6 9 5-1 6-2 5 15 5-3 6 15 5-7 6-16 5-12 5-15 6 2 5 57 6-14 5-38 6-22 5-12 5-12 6-37 5-5 6-12 5 1 5 4 6 16 5-28 6 6 5 0 5 3 6 3 5-16 6 14 5-23 5 17 6-6 5-4 6-12 5-16 6-30 5-27 5 15 6-4 5-7 6 21 5 14 5 14 6-26 5 35 6-27 5-16 5 21 6-6 5-25 6 20 5-12 5 38 6-15 5-28 6-42 5 1 6 29 5 20 5 1 6-14 5-36 6 0 5 33 5 3 6-22 5-16 6 11 5 27 5 51 6-29 5 15 6 4 5 3 6 20 5 3 5 17 6-5 5 21 6-12 5-17 5-11 6-29 5 0 6 24 5 5 5-21 6-30 5 6 6 0 5-12 5-13 6-3 5 10 6-12 5-18 6-27 5-20 5-13 6-15 5-25 6 25 5-2 5 18 6 13 5-4 6 13 5-3 5-13 6-11 5-20 6 0 5-7 5 18 6-22 5-13 6-2 5 3 6-22 5-2 5 6 6-29 5-18 6-7 5 25 5-7 6 21 5 5 6 18 5-11 5-11 6-30 5 37 6 12 5 21 6-10 5-18 5 24 6-7 5 22 6-16 5 3 5 29 6-18 5 9 6-15 5 2 5-29 6 2 5 14 6 10 5-15 5 12 6 30 5-6 6-9 5-11 6-32 5 12 5 9 6-1 5 16 6 20 5-2 5 30 6-3 5 6 6 3 5-11 5-8 6-48 5-34 6-26 5 6 6 41 5-24 5 9 6-20 5 5 6 3 5 2 5 13 6-15 5 7 6-20 5-33 5-28 6-22 5 0 6 21 5-22 5 36 6-17 5-23 6 26 5-38 6 4 5-20 5-20 6 3 5 11 6 2 5 17 5 31 6 17 5 8 6-20 5-9 5 28 6-1 5 32 6 9 5 8 6 2 5-16 5 31 6-6 5 13 6-14 5 9 5 34 6 3 5 16 6-2 5-36 5 10 6 2 5 0 6-8 5 14 5 16 6 15 5 19 6 21 5 2 6-8 5 13 5-2 6-19 5 12 6-23 5-7 5-22 6-7 5-29 6-38 5-12 5 16 6 13 5-2 6-21 5 7 5-3 6-9 5-8 6 44 5 33 6-35 5-1 5 0 6 50 5 10 6 5 5-12"/>
<path d="M355 2632l3-146 2-111 3-81 3-62 3-55 2-36 3-32 3-15 2-14 3-26 3-2 2 0 6-14 5-29 6 0 5-16 6-1 5-11 5-4 6-13 5-7 6-3 5-8 5 9 6-6 5-8 6-10 5-4 5-12 6 1 5-9 6 1 5-15 5-5 6 8 5-7 6-9 5-13 6-14 5-17 5 0 6-13 5-14 6-2 5-11 5 7 6 1 5-9 6 0 5-3 5-5 6-2 5 5 6-13 5 9 6-3 5 0 5-5 6 2 5-16 6-5 5-6 5 1 6-14 5-1 6 2 5-3 5-18 6-8 5 12 6-9 5 3 5 7 6 0 5-17 6 2 5 6 6-4 5-11 5-18 6-8 5-4 6 6 5-17 5-30 6-17 5-20 6-16 5-1 5 3 6-25 5 2 6-4 5-17 5-11 6-11 5-12 6 2 5 23 6-5 5-21 5-5 6-4 5-8 6 0 5 38 5 31 6-4 5-7 6-13 5 0 5-28 6-12 5-18 6 5 5-12 6 0 5-12 5-17 6-10 5-9 6 2 5-30 5 10 6-40 5 7 6-20 5-22 5 7 6-14 5 24 6 6 5-16 5-16 6-11 5-41 6 14 5 5 6-8 5 11 5-10 6 21 5 24 6 38 5-10 5 17 6-9 5-6 6-10 5 7 5-14 6-19 5 13 6 13 5-27 5-5 6-10 5 4 6-40 5 20 6-16 5 9 5-7 6 5 5-30 6 4 5-25 5 13 6-22 5 5 6-9 5 11 5 4 6-36 5-3 6 31 5 3 6-4 5 15 5 26 6-24 5 2 6-21 5-11 5 10 6-15 5 8 6 3 5-39 5 8 6 14 5-15 6 14 5 8 5-24 6 4 5 5 6 10 5 8 6-13 5-34 5-26 6-39 5 8 6-12 5 0 5-31 6-5 5-3 6 9 5-2 5 54 6 2 5-6 6-5 5-8 6 0 5-27 5-50 6-18 5 8 6-34 5 19 5 8 6-8 5 5 6-4 5 12 5 9 6 5 5-18 6 2 5 1 5-7 6-6 5 9 6-7 5 11 6-11 5 7 5-32 6 9 5 19 6-11 5 2 5 18 6 21 5-1 6-4 5 2 5-13 6-18 5 3 6-2 5-15 6-16 5-16 5 8 6 1 5-6 6 20 5 18 5 10 6 12 5 47 6 11 5-13 5 15 6 21 5-21 6-30 5-34 5-33 6 8 5 24 6 28 5-31 6-11 5-36 5-10 6 50 5-33 6-1 5 34 5 50 6 8 5-8 6 15 5 27 5 17 6-11 5-21 6 0 5 13 5-18 6-27 5 38 6 27 5-37 6 4 5 16 5-1 6 0 5-7 6-2 5-1 5-15 6-17 5-17 6-41 5-15 5 56 6-2 5-2 6 27 5 13 6-11 5-14 5 5 6 9 5-27 6-19 5 24 5 0 6-21 5-32 6-18 5-35 5-1 6-31 5-25 6 29 5 10 5-30 6 16 5 12 6-12 5-15 6-45 5-31 5 16 6-2 5 16 6 42 5-9 5 40 6-18 5-12 6-25 5-5 5 8 6 8 5-37 6-4 5-9 5-47 6 3 5 64 6-4 5 4 6 0 5 26 5 6 6 28 5 22 6 14 5-22 5 12 6-13 5 14 6 1 5 5 5-12 6-18 5 15 6-4 5-3 6 6 5 11 5 0 6 7 5-4 6-9 5 24 5 8 6-33 5-8 6 11 5-8 5 13 6-24 5-26 6 29 5 1 5 29 6 12 5-8 6-18 5 17 6-5 5 6 5 3 6-21 5 10 6-23 5-21 5-25 6 3 5 6 6 10 5 3 5-14 6 7 5 37 6 17 5-4 6 27 5 4 5 33 6-18 5 19 6 9 5-5 5-18 6 21 5-10 6 22 5-26 5-10 6-12 5 5 6 16 5-16 5-5 6 2 5 4 6 7 5 9 6-20 5-7 5 2 6 27 5-4 6-4 5-16 5 17 6 1 5 18 6 12 5 8 5 3 6-33 5-10 6 3 5-18 6-22 5 13 5 5 6-10 5 6 6 2 5 8 5 8 6 6 5 15 6-1 5 9 5-16 6 8 5-20 6 56 5-24 5 9 6-11 5-29 6 17 5 11 6 3 5-9 5 13 6 3 5 31 6-57 5-4 5 2 6 28 5-15 6-12 5-6 5 21 6-23 5 37 6-13 5-14 5-2 6-2 5 25 6 27 5-47 6-15 5 4 5 39 6-29 5-33 6 3 5 22"/>
<path d="M355 2632l3-130 2-99 3-78 3-59 3-45 2-34 3-22 3-20 2-18 3-19 3-13 2-13 6-19 5-12 6-13 5-6 6-11 5 3 5-5 6-15 5-2 6 0 5-16 5 1 6-13 5-12 6-2 5-11 5 8 6-11 5-3 6-10 5 1 5 1 6-7 5-9 6-12 5 1 6 1 5-1 5-4 6-9 5-11 6-16 5-3 5 0 6-4 5-3 6 2 5-17 5-4 6-9 5-13 6-10 5 2 6-4 5 7 5-9 6 0 5-8 6-4 5-4 5 7 6-14 5 3 6 3 5-6 5-9 6-17 5-7 6 3 5 0 5-7 6-12 5-5 6-4 5-7 6-4 5-2 5-12 6 1 5-4 6-8 5-12 5 2 6-22 5-4 6-26 5-16 5-2 6 9 5-14 6-16 5-32 5 15 6 13 5-17 6-2 5-10 6-25 5 6 5-9 6 10 5 8 6 6 5-23 5 13 6-3 5-4 6-26 5 9 5-2 6-5 5 6 6 3 5-13 6 2 5-23 5-11 6 6 5-27 6 5 5 3 5-44 6 2 5-3 6 1 5 11 5-5 6 2 5-15 6-44 5-4 5-1 6-30 5 6 6 4 5 0 6-31 5 29 5-25 6-1 5-33 6 4 5 12 5-4 6-7 5-27 6-4 5-19 5 18 6-6 5 0 6 5 5-19 5-9 6-4 5-36 6-21 5 3 6-4 5 17 5 5 6 16 5-16 6-17 5-2 5-16 6 20 5 6 6-20 5 13 5 8 6-19 5 6 6 0 5-25 6 8 5 9 5-9 6-16 5-10 6 8 5-13 5-18 6-13 5 21 6-31 5-27 5 15 6-1 5 2 6-22 5 29 5-44 6-26 5 1 6-17 5-19 6 28 5 7 5 3 6 20 5 5 6-8 5 17 5 1 6 25 5-11 6-38 5 17 5-24 6 4 5-4 6 20 5 37 6-23 5-10 5-23 6-15 5 15 6-9 5 3 5-49 6-27 5 17 6-5 5 1 5-11 6 20 5 4 6 12 5 26 5-12 6 12 5-49 6 0 5 0 6-19 5-20 5 8 6-8 5-7 6 4 5-5 5 13 6-20 5-36 6 7 5 20 5 15 6 9 5 3 6-1 5-36 6 28 5-11 5 25 6 15 5-13 6 0 5-21 5 1 6-10 5 1 6 10 5 32 5-22 6-22 5 17 6-1 5 11 5-15 6-2 5 7 6-6 5-2 6 17 5 9 5 4 6-7 5-18 6-23 5 9 5 4 6 25 5-41 6-7 5-2 5 15 6 3 5-7 6-18 5-5 5 3 6 15 5-18 6 24 5-28 6-9 5 12 5 7 6-40 5-4 6 21 5 2 5-23 6-38 5-17 6-13 5-6 5-3 6 12 5-27 6-43 5-26 6-13 5 10 5-2 6 27 5-8 6-12 5 15 5 18 6 39 5-28 6 6 5-6 5-4 6 14 5 20 6-47 5-27 5 23 6-3 5 6 6-33 5-15 6 33 5 4 5-24 6 0 5 14 6 22 5-19 5-29 6 5 5 2 6-40 5 19 5-2 6 5 5 35 6 19 5 4 5 15 6-12 5 32 6-9 5-19 6 2 5 12 5-9 6 14 5-28 6 13 5-36 5-13 6 13 5-9 6 19 5 17 5-37 6 27 5-37 6-26 5 14 6-5 5 28 5 4 6-5 5 4 6-27 5-39 5 2 6 6 5-10 6 11 5 14 5 21 6-19 5-3 6-15 5-6 5 33 6-1 5-12 6 1 5-9 6-11 5 3 5-43 6 6 5-7 6-17 5-19 5 17 6 2 5-1 6-33 5 2 5 14 6 20 5 8 6-1 5 7 6 28 5-20 5 47 6-13 5 7 6 12 5 25 5 48 6-7 5-24 6 4 5-5 5-17 6-7 5-18 6 12 5 14 5-2 6-13 5 33 6-2 5 13 6-1 5-11 5 12 6 17 5-25 6 0 5-28 5 10 6 7 5 22 6-18 5-12 5 8 6 25 5-15 6-1 5 0 6 4 5 1 5 4 6 7 5-11 6 8 5-7 5-41 6-31 5-11 6-21 5-4 5 14 6 4 5-29 6 19 5-5 5 2 6-21 5 23 6 34 5-1 6 2 5 6 5 4 6 14 5-2 6 24 5 1 5 13 6-16 5-1 6-55 5 1 5-7 6 13 5-18 6-12 5-3 5-12 6 24 5 15 6-14 5-10 6 2 5 8 5-17 6 11 5 14 6-3 5 17"/>
<path d="M355 2632l3-125 2-95 3-73 3-59 3-39 2-37 3-31 3-16 2-19 3-9 3-10 2-10 6-11 5-1 6-11 5-12 6 2 5-10 5-10 6-2 5-1 6-10 5-14 5-10 6-2 5-3 6-6 5-3 5 2 6-4 5-16 6-6 5-10 5 0 6 1 5-9 6-7 5-5 6-16 5-16 5-3 6-18 5-1 6 5 5-3 5-9 6-2 5-14 6 0 5 1 5-1 6-13 5-18 6-2 5-1 6-6 5 5 5 0 6-5 5 7 6-5 5-4 5-7 6 1 5-9 6 1 5 0 5 10 6-4 5-3 6-8 5-4 5-1 6-5 5 1 6-14 5-6 6-8 5 7 5-4 6-3 5 12 6 5 5-27 5-8 6-12 5 17 6-8 5-23 5-8 6-10 5-6 6-19 5-14 5-5 6-19 5-8 6 2 5 24 6 6 5 9 5 1 6-11 5 6 6-15 5-21 5 20 6-16 5-25 6 0 5 15 5-4 6 3 5-5 6 11 5-6 6 1 5 3 5-14 6-15 5 13 6 11 5 8 5 10 6 15 5 15 6-13 5-7 5-10 6 11 5 5 6-19 5 5 5 6 6-5 5-41 6 19 5 22 6-17 5-27 5-29 6-10 5 14 6 1 5 40 5-7 6-8 5-47 6-22 5 5 5 6 6-9 5-12 6 5 5 32 5 1 6 14 5-4 6-2 5-4 6 0 5-23 5-15 6-9 5 13 6-1 5-11 5-10 6-15 5 21 6-23 5 2 5-1 6 16 5 8 6 26 5 5 6-37 5 2 5-24 6 12 5 4 6-47 5 6 5 21 6 10 5 10 6-9 5 12 5 42 6 2 5 3 6-29 5-28 5-28 6 18 5-18 6 0 5-21 6-8 5 15 5-5 6-32 5 28 6 10 5-4 5-38 6-14 5 4 6 5 5 1 5 7 6 6 5 11 6-26 5-2 6-7 5 4 5 26 6-9 5-27 6-15 5-9 5-11 6-15 5-24 6 19 5-36 5 22 6-12 5 14 6 4 5 5 5 22 6-16 5-24 6 6 5 6 6 2 5 6 5 22 6 24 5-12 6-13 5 21 5-3 6-1 5 7 6-5 5 1 5 30 6-11 5 21 6-1 5-19 6 35 5 10 5-7 6 3 5-5 6 20 5 33 5-13 6-40 5-18 6-36 5-47 5-12 6-20 5-19 6-27 5-9 5-18 6-14 5 5 6 33 5 0 6-29 5-15 5-25 6-11 5-21 6 9 5-5 5 24 6-13 5 32 6 0 5-19 5 0 6-24 5-20 6 31 5 28 5-38 6-8 5 39 6 4 5 5 6 17 5-15 5-28 6 12 5 16 6 13 5-20 5-31 6-32 5 37 6-6 5-7 5 7 6-5 5 26 6 4 5 33 6 14 5 20 5-3 6-3 5 2 6-8 5 26 5-18 6 3 5 12 6-23 5-33 5-38 6-6 5 31 6 27 5-15 5 7 6-12 5-15 6 8 5 7 6-22 5 15 5-27 6 18 5 19 6-2 5-28 5 28 6 13 5 19 6-29 5-12 5 11 6 16 5-4 6-18 5 36 5-13 6 24 5-20 6 40 5 13 6-11 5 11 5-28 6 13 5 8 6-30 5 15 5 30 6-23 5-9 6-10 5-41 5 35 6-13 5-7 6-30 5 17 6-7 5 8 5 13 6 9 5-16 6-14 5 15 5-18 6 11 5-50 6-33 5-10 5 15 6-4 5-6 6-25 5-9 5 1 6-20 5-8 6-32 5 20 6-9 5 3 5 0 6 23 5-2 6-4 5-7 5-17 6-7 5-10 6 3 5-6 5 15 6 2 5 4 6-1 5-3 6-16 5 4 5 10 6-15 5-10 6 12 5-1 5 7 6-11 5 13 6-11 5 17 5 11 6 2 5-10 6 21 5 29 5 42 6-1 5 5 6 15 5-21 6 14 5-7 5 40 6-14 5 24 6 18 5-13 5 15 6 10 5 7 6-8 5-19 5 8 6 7 5 0 6-26 5 2 6 27 5-14 5-7 6-34 5 4 6 7 5 18 5-9 6-11 5-15 6 13 5-14 5-32 6 4 5-10 6-11 5 14 5-9 6 39 5 2 6-14 5-14 6 17 5-2 5-20 6-2 5 15 6 19 5-24 5 8 6-17 5 4 6 19 5 7 5 5 6 32 5 4 6 18 5-13 5-8 6 11 5-2 6-22 5 19 6-11 5 0 5-13 6-41 5 2 6 19 5-14"/>
<path d="M355 2632l3-135 2-97 3-79 3-60 3-52 2-37 3-28 3-17 2-15 3-16 3-15 2-9 6-16 5-19 6-7 5-6 6-3 5-9 5-12 6-10 5-8 6 1 5-16 5-21 6-15 5-4 6-14 5-3 5 2 6-7 5-13 6-1 5-1 5 4 6-4 5-3 6-22 5 0 6-6 5 1 5-7 6 1 5-2 6 1 5-8 5-7 6 7 5-1 6-1 5-9 5-7 6 0 5-4 6-20 5-12 6-2 5 2 5-17 6-3 5-3 6-5 5 2 5-14 6-4 5 10 6-1 5 0 5-9 6-8 5-4 6-4 5-13 5 6 6 6 5 0 6-6 5 7 6-3 5 3 5-18 6 7 5-15 6-11 5-10 5-4 6-17 5 9 6 1 5 13 5 8 6-17 5-12 6-1 5-7 5 2 6 1 5 17 6-1 5 4 6-1 5-17 5-22 6-7 5-10 6 4 5 0 5-7 6-24 5 17 6-24 5-1 5-15 6 11 5-7 6 13 5-12 6 3 5-13 5 10 6-11 5 6 6-6 5-16 5-16 6 5 5 19 6-6 5-24 5-3 6-13 5 17 6-20 5 11 5-27 6 3 5-1 6-18 5-4 6-2 5-1 5 15 6-12 5 0 6 1 5-31 5-11 6 19 5 4 6 5 5 8 5 25 6 14 5 10 6 7 5-15 5 8 6 11 5-25 6 5 5-4 6-1 5-24 5-38 6 1 5-19 6-17 5 19 5-11 6-14 5-34 6 9 5 11 5 21 6-11 5 44 6 21 5-9 6-10 5-35 5-6 6-10 5 20 6 10 5-12 5 33 6 7 5-29 6-17 5-17 5 37 6 35 5-31 6-13 5 18 5-21 6-16 5-16 6-2 5 17 6-13 5-7 5-8 6 4 5 29 6 1 5-22 5 7 6-1 5-33 6-40 5-9 5 2 6-29 5 10 6-4 5-8 6 15 5 4 5 2 6-2 5-18 6-1 5 9 5-9 6-39 5 13 6-7 5 0 5-4 6 23 5 2 6-21 5-14 5-8 6-3 5-34 6-8 5-26 6 0 5 23 5-29 6-17 5-8 6 4 5 8 5-20 6-11 5 32 6 30 5 6 5 15 6 0 5 17 6 16 5 26 6-5 5 14 5-34 6 3 5-33 6-12 5-14 5-6 6-19 5 35 6-3 5-22 5-26 6-2 5 13 6 12 5 11 5-1 6-5 5-15 6 20 5 2 6-14 5 3 5 14 6-42 5-16 6-9 5-17 5 0 6 5 5 29 6 9 5 13 5-37 6-1 5 21 6 13 5-30 5 18 6-17 5 9 6-23 5-26 6 35 5 24 5-5 6-8 5-9 6-12 5 22 5 9 6 23 5 8 6-12 5-20 5-15 6-53 5-10 6-20 5 2 6 2 5-31 5 25 6 3 5-21 6-5 5 35 5 6 6-32 5-1 6-11 5 6 5 10 6 2 5-8 6-29 5-15 5-23 6 10 5 8 6-21 5 11 6 16 5 7 5-21 6-7 5-16 6-35 5 30 5 4 6-9 5 9 6 1 5 22 5 27 6 35 5-10 6-33 5 36 5 0 6 24 5-6 6-13 5-36 6 20 5 2 5-16 6 17 5-21 6-12 5-2 5-23 6-15 5 15 6 5 5-1 5-5 6-28 5 44 6 24 5 10 6-9 5-18 5 1 6-1 5 13 6-22 5 34 5-2 6-14 5 27 6-13 5 14 5 13 6 20 5-18 6 12 5 21 5 10 6 5 5-15 6 15 5 15 6-21 5 12 5-6 6 12 5-15 6 2 5-32 5-37 6-22 5 17 6 14 5 15 5-25 6 1 5-2 6 11 5 0 6-37 5-6 5 23 6-13 5-15 6-43 5-17 5-14 6 16 5-16 6 49 5-15 5-8 6-11 5-4 6 17 5 22 5-5 6 35 5-11 6-31 5-6 6-17 5 7 5 13 6 2 5 16 6 16 5-20 5 18 6 6 5 55 6-2 5-14 5 19 6-13 5-1 6 10 5 18 6 2 5 26 5-8 6-26 5-11 6 0 5 25 5-28 6-10 5-7 6 12 5-34 5 27 6 32 5-10 6-9 5-14 5-12 6-4 5 8 6 15 5 1 6 3 5-23 5 39 6 0 5 4 6 8 5-12 5-25 6-21 5-4 6 16 5-4 5 10 6 1 5-7 6 18 5 29 5 10 6 17 5-23 6-5 5 10 6-3 5-11 5 15 6-10 5 19 6-27 5 2"/>
<path d="M355 2632l3-111 2-85 3-62 3-46 3-41 2-28 3-20 3-11 2-13 3-15 3-21 2-3 6-11 5-1 6-4 5-7 6-6 5-10 5-1 6-4 5-2 6-10 5-1 5 0 6-5 5-10 6-9 5-11 5-9 6-12 5 1 6-10 5-15 5 1 6-7 5-5 6-10 5-1 6-6 5-3 5 5 6-1 5-4 6 0 5-13 5-6 6-12 5 0 6 9 5 0 5-1 6-1 5-2 6-6 5-1 6-18 5-11 5-8 6 1 5-4 6 6 5-4 5 5 6-5 5-1 6-9 5 3 5-4 6-11 5-4 6-12 5 1 5-10 6-2 5-17 6-7 5-15 6 3 5-12 5 2 6-3 5 8 6-5 5 8 5 7 6-22 5-12 6-9 5 6 5-13 6 10 5 1 6 1 5 20 5-9 6-5 5-4 6-24 5-7 6-14 5-1 5 6 6-4 5-1 6 10 5-3 5-11 6 7 5 5 6-7 5-4 5-1 6 1 5 10 6-5 5 4 6-2 5-24 5 7 6-6 5-14 6 5 5-15 5-4 6-23 5 32 6 5 5-16 5-9 6 14 5-28 6 25 5-24 5 10 6-35 5 19 6-10 5 8 6-20 5 5 5-15 6 12 5 0 6-2 5-5 5-15 6-15 5-18 6 10 5-9 5-20 6 4 5 14 6-8 5 29 5 43 6-7 5 27 6-9 5-14 6 32 5-10 5 10 6 24 5-87 6 8 5 13 5 35 6-18 5 8 6-27 5 9 5-10 6 4 5 29 6-13 5-22 6 20 5 27 5 5 6-14 5-12 6-14 5 29 5-8 6 35 5 1 6-1 5-2 5 1 6-33 5-8 6-15 5 16 5-3 6-2 5-2 6 3 5-26 6-4 5 8 5-31 6 5 5-18 6 28 5-21 5-23 6 10 5-5 6-8 5-15 5 26 6-9 5 5 6-12 5-6 6-22 5 4 5 17 6-15 5-6 6-3 5-9 5 0 6-41 5 22 6 15 5-30 5 10 6 8 5 4 6 4 5 19 5 2 6 1 5 13 6-12 5 26 6-14 5-32 5-3 6-31 5-25 6 8 5 2 5 12 6-5 5 0 6 2 5 42 5 2 6-17 5 31 6-10 5-13 6-45 5-6 5 18 6 26 5-4 6 0 5-24 5 5 6 2 5-11 6 13 5-8 5-5 6 29 5-5 6 25 5-11 5-38 6 5 5-37 6 12 5 14 6 14 5-14 5 4 6 14 5-2 6 5 5-23 5 43 6 21 5-15 6-13 5 9 5 7 6-3 5-14 6-20 5-3 5-1 6 4 5 1 6 17 5-52 6-22 5-8 5-37 6 17 5-14 6-6 5-9 5 29 6 7 5 2 6 12 5-11 5-29 6 28 5 0 6-4 5 18 6-18 5 32 5-4 6 8 5 0 6 0 5 3 5-14 6-1 5 14 6-1 5 9 5-26 6-28 5-32 6-41 5-13 5 4 6-11 5 1 6-37 5 0 6 14 5 12 5-3 6 15 5 31 6-18 5-1 5 8 6-8 5-13 6-8 5 16 5 8 6-4 5 20 6 31 5 11 5 12 6 23 5 29 6 10 5-10 6 4 5-6 5-15 6 0 5 18 6-36 5 3 5 39 6 3 5 14 6-6 5-18 5-7 6 21 5-6 6-2 5-16 6-31 5 5 5-6 6-13 5-20 6-25 5 18 5-7 6-12 5-18 6 36 5 11 5 12 6 25 5 16 6 10 5 5 5-24 6-34 5 0 6 35 5-25 6 27 5-10 5 27 6-27 5 10 6 9 5-8 5 2 6-1 5 0 6-40 5-8 5 32 6 8 5-6 6 8 5-12 6-12 5 11 5-34 6 4 5 19 6-21 5-18 5-18 6-18 5 7 6-30 5-11 5-9 6 36 5-6 6 9 5 11 5-30 6 16 5 18 6-9 5 21 6-13 5-23 5 10 6 4 5 11 6 11 5-31 5-6 6-1 5-6 6-7 5 30 5-18 6 11 5 4 6 4 5 6 6 6 5-51 5 14 6 1 5 21 6 25 5 2 5 12 6 33 5-9 6-42 5-17 5-13 6 13 5 16 6 13 5-10 5 6 6-4 5 12 6 31 5 13 6 2 5 14 5 23 6 12 5-12 6 3 5-17 5-28 6 4 5 4 6-13 5 5 5 33 6 17 5 14 6 15 5-23 5-34 6-29 5-24 6-10 5-8 6-12 5-11 5 27 6-12 5-18 6-9 5 1"/>
<path d="M355 2632l3-144 2-112 3-84 3-63 3-44 2-40 3-26 3-28 2-20 3-16 3-23 2-11 6 0 5-16 6-3 5-9 6-4 5-6 5-14 6-2 5 0 6-8 5-17 5-5 6 4 5-10 6 0 5-8 5-2 6-13 5-10 6-5 5-18 5-5 6 2 5-6 6-11 5 1 6-3 5-1 5 0 6-5 5 9 6-1 5 0 5 1 6-8 5-11 6-12 5-11 5-8 6-6 5-4 6-1 5-16 6-3 5-8 5-4 6-11 5-10 6-1 5-15 5-6 6-7 5-5 6-8 5-3 5-4 6-13 5-4 6 0 5 11 5 4 6-10 5-10 6 0 5-7 6 0 5-17 5-8 6-19 5-8 6-14 5-11 5 1 6-18 5-8 6-21 5-4 5 4 6-14 5 5 6 2 5-2 5 14 6 11 5-7 6-19 5 1 6-14 5-6 5-2 6-14 5 17 6-9 5-9 5-22 6-8 5 2 6-21 5-21 5-40 6 4 5-5 6-6 5-23 6-16 5-5 5-27 6-10 5 11 6 0 5-22 5-34 6 1 5-6 6-27 5-7 5-9 6-19 5-9 6-7 5-24 5-12 6-21 5 3 6-6 5 22 6-12 5-14 5-20 6 32 5-53 6 15 5-8 5 23 6 15 5-11 6 11 5-1 5-5 6-15 5-45 6-25 5 19 5-32 6-8 5 6 6 15 5-3 6-5 5 35 5-6 6-1 5-21 6 8 5 1 5 21 6 41 5-14 6 9 5-25 5-19 6 12 5 17 6 16 5-2 6-11 5-25 5-7 6 6 5 11 6 17 5 1 5-15 6-14 5-18 6 5 5-11 5 0 6-13 5-14 6-11 5 0 5 7 6 2 5-36 6-4 5-32 6-15 5 8 5 17 6 12 5 13 6 1 5 23 5-41 6-18 5-34 6 5 5 10 5-10 6-35 5 9 6-42 5 5 6 13 5-5 5-12 6-7 5-26 6-5 5 28 5 16 6 1 5-2 6 6 5-42 5 30 6-44 5-3 6-13 5-6 5-31 6 3 5-3 6 6 5-2 6-12 5 31 5 26 6 40 5 11 6-13 5-9 5 26 6-10 5 25 6-18 5-22 5-9 6-11 5 5 6 26 5-24 6 2 5 16 5-6 6-2 5-17 6-3 5-19 5 22 6-21 5-12 6-26 5 15 5 4 6-36 5 9 6 23 5-5 5-10 6-5 5-50 6-6 5 16 6 7 5-13 5 6 6-16 5-47 6 1 5 1 5 10 6-15 5 2 6-34 5-29 5-21 6 22 5-5 6-33 5-19 5-12 6 14 5-10 6 12 5 8 6-22 5-9 5 33 6 41 5-35 6-9 5-20 5-13 6 14 5 7 6-20 5 22 5 11 6-22 5 37 6 26 5 12 6-35 5 5 5-15 6 45 5 4 6-8 5 18 5 11 6-6 5 11 6 1 5 31 5 5 6-21 5-16 6 8 5-1 5-1 6-10 5-4 6-1 5 6 6 28 5 6 5-13 6 17 5-1 6-18 5-8 5 5 6-8 5-10 6-7 5-18 5-4 6 1 5 2 6-16 5-3 5 17 6 4 5-21 6-3 5 19 6 23 5-23 5-2 6-4 5-30 6-6 5-5 5 6 6 11 5 15 6 26 5-21 5-27 6 1 5-7 6-29 5-22 6 5 5 3 5 17 6 33 5-18 6 8 5 0 5 24 6 10 5 24 6-14 5-2 5 33 6-34 5 4 6-22 5-18 5-5 6-10 5-28 6-3 5-6 6 3 5 33 5 17 6-8 5-3 6-6 5-5 5-18 6-27 5 31 6 12 5-26 5 3 6-8 5-15 6-16 5-3 6 4 5 16 5-2 6-20 5 3 6 8 5-2 5 17 6 19 5 13 6-40 5 26 5 16 6-4 5 1 6 3 5 4 5-29 6-27 5 50 6 0 5-6 6-40 5-9 5-25 6 2 5 18 6-16 5 38 5-25 6 9 5 41 6 12 5 32 5-18 6-24 5-11 6-2 5 4 6 32 5-16 5 7 6 10 5-16 6-15 5-9 5 8 6-5 5-12 6 16 5 6 5 2 6-18 5 12 6-22 5-41 5 9 6 16 5-1 6-1 5 14 6 20 5-23 5 31 6 24 5 12 6 7 5-3 5 3 6 10 5-8 6 8 5-14 5 14 6-16 5 8 6 23 5-32 5-2 6 24 5-6 6 0 5-22 6 51 5-9 5-8 6-14 5-18 6-20 5-26"/>
<path d="M355 2632l3-139 2-110 3-84 3-64 3-51 2-43 3-27 3-13 2-13 3-15 3-15 2-7 6-10 5-12 6-4 5-5 6-10 5-11 5 2 6-13 5-4 6-19 5-4 5 6 6-13 5-11 6-4 5-7 5-16 6-2 5-11 6-1 5 1 5 1 6 2 5-6 6-13 5-6 6-8 5 4 5-3 6-12 5 3 6-7 5-9 5-1 6 4 5-4 6-11 5-10 5-14 6-5 5 1 6 6 5-12 6-4 5-7 5-2 6-4 5-7 6 0 5-8 5-12 6-17 5-18 6-4 5-16 5 8 6 12 5-3 6-5 5-2 5 15 6 5 5 3 6-6 5-1 6-18 5-5 5 2 6 8 5-18 6-10 5 0 5-3 6 3 5 11 6 11 5-2 5-6 6 10 5-19 6-19 5-1 5-3 6-10 5-22 6-2 5-16 6-3 5-6 5 16 6-8 5-10 6 8 5-2 5 7 6 14 5-4 6-23 5 13 5 3 6-2 5 30 6-1 5 0 6-41 5-5 5 4 6-12 5-8 6-1 5-11 5 5 6-19 5 7 6-7 5 28 5-1 6 18 5-7 6-16 5-36 5-6 6-13 5 0 6-1 5 9 6-22 5-35 5-7 6-57 5-3 6-13 5-12 5 23 6 27 5-6 6-6 5-29 5-18 6 22 5 7 6-18 5-5 5-29 6-2 5 2 6 13 5 17 6 29 5-12 5 20 6 3 5-20 6-8 5 8 5-3 6-3 5-18 6 10 5 36 5 2 6-25 5 15 6-13 5-33 6-17 5 0 5 17 6 15 5 22 6-2 5-17 5-30 6-61 5-9 6-16 5-7 5-27 6-6 5-3 6 34 5-9 5-31 6 18 5-8 6 21 5 6 6-12 5 7 5 7 6-11 5 15 6 12 5 16 5 21 6 16 5-6 6-19 5-23 5-34 6-10 5 30 6-7 5 11 6-11 5-21 5-30 6 0 5-5 6 0 5-36 5-22 6-12 5-7 6-5 5 8 5-10 6-10 5 30 6-30 5-10 5 4 6 4 5 23 6-29 5 6 6 0 5 12 5 2 6 4 5-16 6-26 5-3 5-8 6-29 5 15 6 8 5-11 5 3 6 9 5-1 6 9 5 7 6 14 5-20 5 5 6 24 5 28 6 34 5 34 5-13 6 0 5 13 6-13 5-9 5-7 6-13 5 5 6-18 5-2 5-15 6-20 5 8 6 42 5-21 6-15 5-15 5 10 6 22 5-35 6-44 5 11 5 0 6 26 5 11 6 22 5-21 5 8 6-13 5 2 6-40 5-4 5-49 6-17 5 13 6-23 5-41 6-19 5 17 5 20 6 18 5 17 6 13 5 17 5-48 6-21 5 37 6 21 5 0 5 7 6 0 5 13 6-21 5 25 6 14 5-28 5-18 6-19 5-7 6-2 5 15 5-35 6 7 5 19 6 26 5-22 5 27 6-9 5 9 6 15 5 2 5 2 6 1 5-3 6 12 5-22 6-5 5 31 5-34 6-10 5-9 6-10 5 1 5-9 6 0 5-19 6 39 5 2 5 34 6 6 5-21 6-18 5-12 5-25 6-6 5 10 6-1 5 18 6-20 5-3 5 15 6-11 5-36 6 32 5-6 5 6 6-2 5-9 6-8 5 5 5 9 6-14 5-27 6-30 5-14 6 3 5-8 5 7 6-5 5 42 6 22 5-2 5 5 6-10 5-7 6 16 5 17 5 9 6-3 5 21 6 29 5-16 5-25 6-13 5 18 6-3 5-3 6-24 5 19 5-9 6 25 5 27 6 7 5-19 5 11 6-20 5-9 6-13 5-19 5 35 6-4 5 4 6-14 5-19 6 25 5-48 5-4 6-12 5 34 6-22 5 25 5-22 6-18 5 21 6-11 5-8 5-27 6 10 5-7 6-5 5 29 5 32 6 31 5 28 6 12 5-18 6-30 5 4 5 11 6 28 5-39 6-4 5 1 5 15 6 11 5 10 6-21 5-11 5 0 6 37 5 27 6 28 5-7 6 4 5-11 5 2 6-17 5 6 6-15 5 29 5-8 6 26 5-35 6-10 5-16 5-9 6 47 5 24 6-16 5-7 5-15 6-9 5-19 6-30 5-6 6 42 5-12 5-14 6-46 5-21 6-47 5 21 5 12 6-1 5 7 6 47 5 54 5-8 6-2 5-20 6 21 5-1 5 11 6 34 5-5 6 4 5-21 6-22 5-6 5 10 6 19 5-21 6 21 5 1"/>
<path d="M355 2632l3-133 2-99 3-72 3-54 3-46 2-41 3-29 3-22 2-18 3-12 3-6 2-7 6-16 5-15 6-11 5 4 6-8 5-6 5 4 6-7 5-1 6 3 5-7 5-5 6-9 5-11 6-11 5-5 5-10 6 3 5-8 6-11 5-16 5-16 6-12 5 6 6-15 5-3 6-5 5-9 5-2 6 2 5-10 6-13 5-6 5-4 6-10 5 3 6-8 5-1 5-6 6-4 5-10 6 0 5 10 6 5 5 4 5 8 6-8 5-9 6 3 5-10 5-1 6-5 5-13 6-5 5-3 5-13 6 0 5 2 6-11 5-9 5-9 6-6 5 1 6-2 5-1 6-21 5-16 5 7 6 10 5 5 6-15 5-19 5-15 6-7 5-11 6-8 5 0 5-13 6-14 5-7 6 3 5-1 5-18 6-5 5 0 6-20 5-16 6-7 5-12 5-21 6-2 5 15 6 2 5 0 5-22 6-20 5-2 6 10 5-12 5-11 6 8 5-7 6 4 5-9 6-9 5-4 5-35 6 9 5-20 6-26 5 19 5-18 6-16 5 17 6-33 5-11 5-24 6-17 5-15 6-26 5-15 5-4 6-8 5-4 6-17 5 2 6 18 5-24 5-12 6 2 5-1 6 24 5-1 5-19 6 8 5-10 6-17 5 14 5-29 6 23 5 8 6-4 5-3 5 7 6 4 5-8 6-12 5-6 6-21 5-9 5 28 6 24 5-10 6-36 5-14 5 31 6-7 5 18 6 3 5-37 5-14 6-31 5-9 6 2 5-24 6-19 5-24 5 13 6 4 5 8 6 14 5-20 5-33 6 9 5-5 6 24 5-19 5 12 6-19 5-10 6-20 5-7 5 6 6-29 5-7 6-24 5 28 6-2 5 16 5 14 6 20 5 10 6-25 5-14 5-15 6 10 5 17 6-46 5-15 5 11 6-10 5-19 6 12 5 28 6-8 5-8 5-10 6 6 5-16 6 24 5 20 5-27 6-4 5 9 6 21 5-6 5 16 6-12 5 10 6 19 5-29 5 10 6 16 5-42 6-8 5-7 6 10 5-23 5 3 6 4 5-4 6 19 5-24 5 3 6 22 5-9 6-4 5-10 5-5 6-34 5-9 6-16 5 9 6-44 5 25 5 10 6 3 5-54 6 15 5-3 5 21 6 1 5-14 6-39 5-6 5 7 6 20 5 23 6-5 5-16 5 23 6 19 5-25 6 6 5-10 6 13 5-3 5 22 6-10 5-16 6 12 5-21 5-14 6-31 5 6 6-19 5 20 5 13 6 15 5 0 6-23 5-2 5-35 6-6 5-2 6-3 5 8 6 10 5-38 5 15 6-30 5 1 6 2 5 36 5-12 6-1 5 2 6 19 5 16 5-18 6 11 5 30 6 7 5-8 6-14 5-4 5 35 6 28 5 12 6 14 5 0 5-14 6 13 5-8 6 24 5-2 5 29 6 10 5-27 6 9 5 3 5-5 6-19 5-21 6 0 5-40 6 6 5-27 5-12 6 9 5 2 6-3 5-17 5-23 6 26 5-3 6 16 5 0 5 14 6 16 5-4 6 26 5-2 5 4 6-6 5 29 6 37 5-11 6-6 5 13 5 13 6-8 5-16 6 3 5-22 5-26 6-1 5 23 6-15 5 6 5 4 6 16 5-39 6-19 5-30 6 19 5 2 5 4 6-35 5-4 6 23 5 3 5-38 6 2 5-32 6 28 5-10 5-32 6-7 5-21 6 23 5-17 5-19 6 14 5-19 6 0 5 12 6-9 5 14 5 16 6-23 5 14 6 17 5 0 5 3 6 24 5 14 6-2 5 7 5-24 6 33 5 4 6-8 5-7 6-23 5-11 5-6 6 14 5-34 6 33 5-13 5 26 6-1 5 25 6-14 5-14 5 15 6-15 5 3 6-8 5-42 5-22 6-19 5-8 6-18 5 11 6 0 5 17 5 1 6 4 5 44 6-8 5 7 5 1 6-7 5 38 6-15 5-5 5 29 6-17 5 11 6-4 5-19 6 6 5 0 5-27 6-9 5 23 6 11 5-9 5-22 6-11 5-12 6-41 5 46 5-5 6-11 5-20 6-54 5 2 5-16 6 25 5-27 6-6 5-31 6 6 5 0 5-17 6-26 5 2 6 24 5 7 5 4 6 3 5-25 6-8 5 43 5-17 6 8 5 23 6 5 5 1 5-27 6 24 5-11 6 15 5-25 6 14 5-10 5-4 6 17 5-16 6-11 5-10"/>
<path d="M355 2632l3-134 2-101 3-78 3-59 3-50 2-38 3-32 3-19 2-14 3-15 3-17 2-1 6-20 5-17 6 0 5-9 6-9 5 4 5-5 6-11 5-12 6 3 5-3 5-6 6 2 5-14 6-7 5-12 5-16 6-12 5-8 6-4 5-10 5-10 6 4 5 1 6-2 5-1 6-2 5-6 5-11 6 2 5-2 6-11 5-13 5-3 6-1 5-12 6-6 5-17 5-5 6-13 5-8 6 3 5-3 6-7 5-6 5-10 6-1 5-13 6-9 5-3 5-12 6-8 5-2 6-5 5-2 5-10 6 1 5-12 6-13 5 6 5-8 6-4 5-7 6-9 5-8 6-3 5 1 5-15 6-15 5 10 6 2 5-3 5-20 6-13 5-20 6-13 5-3 5-10 6-2 5 9 6-5 5-16 5-25 6 1 5-20 6-11 5 3 6 10 5-4 5 3 6-12 5-8 6-5 5 8 5-13 6-15 5-3 6-9 5-5 5-5 6-2 5-17 6-26 5-7 6-1 5-6 5-10 6-13 5-1 6-14 5-5 5 8 6-5 5 29 6 2 5-13 5 3 6 19 5-12 6 0 5-25 5-6 6-12 5 5 6 6 5-15 6-9 5-9 5 8 6-2 5-16 6-1 5 10 5-1 6-25 5-59 6 4 5-2 5 37 6-6 5 1 6 25 5 12 5 19 6-33 5-34 6-5 5 15 6-4 5-46 5-19 6 2 5-36 6 3 5-17 5-10 6 7 5-1 6-7 5-36 5 14 6-25 5-35 6-5 5 0 6 12 5 46 5 24 6-9 5-2 6-5 5 5 5-1 6-10 5-10 6 17 5 38 5-13 6-25 5 6 6-11 5 27 5 27 6-7 5 1 6 12 5-13 6-13 5-27 5 10 6-16 5-16 6-40 5-8 5-6 6 0 5-6 6-17 5-8 5 12 6-40 5-23 6-35 5 8 6 18 5 49 5-8 6-8 5 7 6 7 5-11 5 19 6 20 5-15 6 32 5-13 5-13 6-30 5-4 6 14 5-6 5 8 6-31 5-30 6-15 5 1 6-8 5-20 5 24 6 21 5-5 6-67 5 2 5-3 6-13 5 11 6-3 5 12 5-19 6-10 5 20 6 3 5 3 6-18 5-8 5 2 6 30 5 28 6 11 5-11 5 14 6-5 5-29 6 28 5 5 5-4 6-2 5-19 6-4 5-19 5 1 6-14 5 26 6 0 5 31 6-39 5-9 5 3 6-13 5-19 6 4 5-1 5 33 6 7 5 23 6-25 5-24 5 14 6 4 5 21 6-9 5-9 5 5 6-2 5 11 6-25 5 11 6-13 5-9 5-6 6 4 5 3 6 40 5 25 5-10 6 4 5-16 6 5 5 16 5 9 6-11 5-15 6-35 5-5 6-39 5-20 5-4 6-6 5-10 6-1 5-22 5 23 6 9 5 1 6 7 5 2 5-7 6 15 5-26 6-1 5-15 5-7 6-8 5-5 6 27 5 12 6-47 5 19 5 0 6-4 5 8 6-31 5 26 5 16 6-4 5-26 6 27 5-38 5 5 6 22 5-14 6-18 5 19 5 11 6-26 5-19 6 11 5 4 6-25 5 3 5 18 6 27 5-23 6-35 5-7 5-16 6 10 5 12 6 9 5-3 5 33 6-17 5 25 6 7 5 17 6 15 5-10 5 31 6-12 5 5 6-10 5 5 5 8 6-9 5-21 6 15 5-9 5-3 6 6 5-11 6-24 5-13 5-16 6 15 5 1 6-24 5 23 6 2 5 4 5 8 6-7 5-48 6-21 5-14 5-24 6-4 5-4 6 8 5 4 5 6 6-32 5-13 6-11 5 13 6 0 5 15 5 36 6 1 5 23 6-8 5 16 5-15 6 3 5 8 6 21 5-15 5-20 6-4 5 0 6-29 5-37 5 25 6 32 5-7 6 26 5-59 6-4 5-29 5 41 6-12 5-6 6 0 5-1 5 17 6 11 5-2 6-31 5 1 5 19 6-24 5-21 6-11 5 28 6 22 5-14 5 6 6 24 5-7 6-35 5 10 5-21 6 31 5 13 6-23 5-2 5 47 6 21 5-11 6-10 5-25 5 3 6 1 5-12 6 6 5 4 6-18 5-15 5 4 6 0 5 49 6-39 5-22 5 6 6 18 5 14 6-11 5 20 5-1 6-20 5-28 6 9 5 11 5 6 6 1 5-2 6-2 5-31 6 6 5 0 5 6 6 26 5 11 6 25 5 3"/>
<path d="M355 2632l3-144 2-108 3-83 3-59 3-52 2-41 3-36 3-28 2-18 3-22 3-16 2-13 6-23 5-13 6-5 5-14 6-16 5-12 5-4 6-13 5-6 6 9 5-10 5-8 6-7 5-8 6-12 5-4 5 3 6 1 5-1 6-8 5-13 5-15 6-7 5 2 6 10 5 0 6-2 5 2 5-3 6 3 5 0 6-6 5-12 5-17 6-2 5 0 6-3 5-12 5-5 6 8 5 0 6-13 5-7 6-8 5-16 5-8 6 4 5-4 6-9 5-13 5-1 6-8 5 3 6-10 5 3 5-8 6-1 5-4 6-11 5 1 5-14 6-8 5 1 6-4 5 0 6-9 5 7 5 2 6-10 5 8 6 4 5-7 5-11 6-13 5-4 6-14 5-15 5-6 6-21 5-9 6-9 5-17 5-10 6 10 5 7 6-2 5-5 6-17 5 12 5-19 6-6 5 13 6 14 5-17 5-16 6-21 5-26 6 9 5-6 5 17 6 8 5 1 6 8 5 10 6-5 5 3 5-9 6-20 5-5 6-10 5 41 5-31 6-21 5 9 6-8 5-5 5 11 6-12 5-23 6 8 5-12 5-1 6 1 5 1 6 10 5-4 6-26 5-22 5-8 6 0 5-21 6-29 5-22 5-46 6 15 5-5 6 16 5 11 5-8 6-9 5-9 6-11 5 15 5-44 6-1 5-31 6 4 5 16 6-1 5 33 5-6 6 4 5-17 6 24 5 24 5-13 6 25 5-10 6 0 5-19 5-17 6-2 5-7 6 75 5 16 6-21 5-44 5 10 6-3 5-12 6-3 5 4 5-5 6-10 5-29 6 49 5-3 5-8 6-5 5 4 6 17 5-12 5 1 6-21 5 19 6 15 5-43 6-24 5-9 5-3 6-5 5-33 6-8 5 18 5 1 6 15 5-41 6 3 5-5 5-7 6-8 5-2 6 14 5-36 6 10 5 4 5-20 6-25 5-3 6 16 5 13 5 2 6-44 5 4 6 20 5-2 5-37 6-2 5-2 6 28 5-14 5 19 6-5 5 1 6 7 5 4 6-4 5-20 5-15 6 33 5-11 6 1 5 4 5-13 6 18 5 11 6-27 5-3 5 0 6-3 5-5 6 35 5-13 6 0 5 12 5 3 6-5 5-42 6-10 5 4 5-14 6 3 5-8 6-26 5 15 5-25 6-1 5 18 6 1 5-13 5 12 6 13 5 8 6 4 5-20 6-58 5 5 5-31 6 21 5 0 6 9 5 11 5 35 6 14 5-22 6 25 5 44 5 19 6-12 5-18 6-9 5 1 5 23 6-10 5-9 6-32 5-21 6 7 5-30 5 11 6 31 5-29 6-22 5-16 5 25 6 6 5 14 6 55 5 17 5 8 6-9 5-7 6 6 5-11 6-13 5-21 5 9 6 6 5 7 6-5 5 24 5 9 6-32 5-26 6-17 5-5 5-42 6-13 5-4 6 2 5-7 5-27 6 11 5-21 6 29 5-25 6 4 5 26 5 27 6 12 5 20 6-17 5 7 5-4 6 13 5 24 6 13 5-11 5-1 6-14 5-8 6-18 5 20 5-8 6 15 5 3 6-5 5 15 6 13 5-15 5 26 6-2 5 10 6-26 5 15 5 31 6-35 5-14 6 33 5-7 5-9 6-29 5 9 6-14 5 38 6 13 5-2 5 46 6 34 5 16 6 14 5 33 5 18 6-30 5-5 6 2 5-6 5-14 6 22 5 8 6-3 5-2 5-3 6-16 5 15 6-13 5-21 6-24 5 4 5 2 6-39 5 10 6-13 5-18 5 18 6-26 5-6 6 0 5-36 5-33 6 5 5 29 6-1 5-13 6 13 5-34 5-6 6 9 5-16 6-11 5-15 5 29 6 0 5-11 6 33 5-32 5-8 6 15 5 1 6 17 5 17 5-29 6 21 5-1 6-18 5 10 6-6 5 0 5-10 6 18 5 9 6 14 5-42 5-2 6-31 5 13 6-19 5 20 5 33 6 15 5-25 6-16 5-1 6 47 5-18 5 24 6 25 5-29 6 9 5-10 5-1 6 24 5 4 6-19 5 10 5-10 6 7 5-20 6 46 5 15 5-19 6-27 5 19 6 36 5-29 6-13 5 22 5-18 6-33 5 9 6 12 5 2 5-11 6-6 5 27 6 2 5-31 5-3 6-5 5 15 6-20 5 17 5 11 6 26 5-3 6-22 5-3 6-22 5 24 5-11 6-29 5-14 6 4 5-28"/>
<path d="M355 2632l3-132 2-99 3-77 3-64 3-44 2-34 3-33 3-20 2-22 3-10 3-10 2-10 6-17 5-9 6-12 5-5 6 2 5-11 5-5 6-5 5-11 6 3 5 5 5-9 6 4 5-8 6-25 5-3 5-3 6-15 5-10 6-12 5 2 5-15 6-3 5 4 6-14 5 7 6 0 5-11 5-14 6-1 5-3 6-14 5-3 5-2 6-9 5-3 6 1 5-7 5 7 6 10 5-9 6-4 5-11 6-3 5 7 5-1 6 3 5-20 6-5 5 9 5-2 6 0 5-17 6 0 5-1 5-1 6-6 5-1 6-11 5-20 5 4 6-16 5 2 6 1 5-5 6-10 5-6 5 11 6 15 5-15 6-18 5-8 5-27 6-10 5-3 6-21 5-11 5-11 6-13 5-2 6 4 5-9 5-5 6-1 5 7 6 1 5-2 6-15 5-5 5-20 6-14 5 8 6 1 5-23 5 7 6-21 5 5 6-10 5 4 5 2 6 1 5-33 6-17 5-10 6 2 5-12 5 5 6-27 5 4 6 0 5-10 5-4 6-1 5-1 6-5 5-19 5-5 6 11 5-2 6 20 5 8 5-17 6-32 5-20 6-22 5-33 6-14 5-20 5 12 6-4 5-5 6 3 5-3 5 14 6-9 5 4 6 18 5-7 5-59 6 18 5-28 6-2 5-28 5-15 6 0 5-19 6-29 5 3 6 26 5-1 5-6 6 3 5 19 6-1 5-27 5-13 6-4 5 5 6 28 5-44 5 5 6 39 5 15 6-13 5-9 6 11 5 4 5-28 6-25 5-1 6-7 5-25 5-7 6-8 5-27 6-14 5-9 5 24 6 22 5 38 6-20 5-23 5-17 6 6 5 18 6-29 5 6 6-13 5 16 5-20 6 11 5 0 6 6 5 3 5 16 6-12 5-19 6 26 5 33 5 35 6-43 5 7 6-24 5 8 6-34 5 34 5-25 6 10 5 2 6-5 5-4 5-20 6-27 5-13 6 3 5-47 5-28 6-8 5 0 6-37 5 19 5-14 6 2 5-16 6-9 5-30 6-2 5-18 5 21 6-7 5 34 6-5 5 17 5-6 6 14 5 29 6-8 5-33 5 7 6-30 5-22 6-24 5 23 6-2 5-19 5-20 6-21 5 20 6-21 5 11 5-7 6 10 5-2 6 4 5-18 5 19 6-14 5-21 6 18 5-3 5 24 6-2 5 17 6 30 5-40 6 8 5 27 5 0 6-6 5-15 6 7 5 12 5-11 6-12 5-2 6-19 5-16 5 4 6 16 5-12 6 19 5-3 5 26 6 14 5-8 6 7 5-13 6-32 5-15 5 1 6 2 5 15 6-11 5-18 5-6 6 20 5-12 6-10 5 2 5 12 6 7 5 0 6 0 5 11 6 2 5-6 5-6 6-29 5 24 6-24 5-1 5-30 6 3 5 10 6 23 5-18 5-20 6 10 5 23 6-23 5-3 5 20 6-6 5 48 6-31 5-18 6 27 5 15 5-20 6 15 5 18 6-11 5-6 5 0 6 4 5-5 6 9 5 5 5-30 6 36 5-2 6 17 5 1 5-3 6 1 5-4 6-24 5-18 6 27 5-4 5 2 6 30 5-7 6 16 5 1 5-1 6 1 5-17 6-18 5-6 5-35 6 8 5-40 6-24 5 5 6 31 5-26 5-19 6-47 5 0 6 27 5-15 5 17 6 0 5-50 6 10 5-7 5 8 6 0 5 2 6-12 5 45 5 4 6-9 5-17 6 14 5-13 6 16 5 11 5-24 6-26 5 10 6-5 5 30 5 28 6-3 5-5 6 1 5 0 5-28 6-15 5 18 6 5 5 17 6-14 5-12 5-28 6 7 5-26 6-3 5-6 5-4 6-2 5 1 6 42 5 21 5 42 6 22 5 2 6 18 5 11 5 23 6-4 5-21 6-4 5-5 6-2 5-27 5-18 6-1 5 19 6 10 5-19 5-23 6 19 5 1 6-37 5-17 5-15 6-21 5 20 6-36 5 15 6-26 5 29 5-33 6 14 5 8 6 21 5 15 5-31 6 12 5-8 6 11 5 21 5-13 6 1 5 0 6 21 5-8 5-1 6-17 5-17 6 4 5 19 6 10 5-12 5 16 6-24 5-1 6 9 5-9 5-7 6 16 5-30 6 17 5-33 5-23 6 24 5 17 6-14 5 34 5-14 6 5 5-9 6-33 5 5 6 8 5-30 5 19 6 23 5 4 6-1 5-3"/>
<path d="M355 2632l3-105 2-81 3-59 3-49 3-32 2-29 3-21 3-16 2-20 3-8 3-9 2-6 6-18 5-5 6-7 5-5 6-8 5-8 5-7 6-1 5-1 6-4 5-1 5-9 6 7 5 10 6-5 5 1 5 5 6-1 5-17 6-7 5 10 5 5 6-1 5-13 6-4 5-4 6-9 5-6 5-1 6-9 5-6 6-14 5 3 5-7 6-10 5-10 6 5 5-11 5 6 6-14 5-7 6-10 5-5 6-4 5-6 5-9 6-12 5-10 6-5 5-5 5-7 6 0 5-17 6-1 5-10 5 5 6-9 5-14 6-14 5 3 5-9 6 8 5 10 6-3 5 8 6 2 5-4 5-9 6-29 5-3 6 5 5-18 5 16 6-1 5-6 6-21 5-15 5 6 6 6 5 8 6 20 5 21 5 7 6 2 5-3 6 6 5-4 6-12 5-19 5-3 6-20 5 14 6 10 5-20 5-7 6-13 5-9 6 16 5-9 5 20 6 6 5 25 6 17 5-11 6-15 5 8 5-4 6 3 5-24 6-14 5 26 5 0 6-3 5 8 6-29 5 4 5 1 6-19 5-4 6 32 5-1 5-15 6-10 5 2 6-46 5-8 6-13 5 13 5 21 6-11 5-18 6-8 5 0 5-23 6 2 5 1 6 7 5-54 5 24 6-15 5 15 6 2 5-24 5 8 6-23 5-19 6-5 5 26 6 3 5-11 5-35 6-14 5-17 6-9 5-14 5 3 6-18 5 7 6-2 5 17 5-4 6 2 5 14 6-2 5 56 6-11 5 47 5-14 6 10 5-44 6-1 5 0 5 2 6-2 5-4 6-8 5 8 5 32 6-5 5 13 6-16 5 2 5-12 6 18 5-5 6-5 5 12 6 13 5 23 5 1 6 29 5-10 6-4 5 7 5 17 6-24 5 12 6-21 5 12 5 16 6-47 5 8 6 31 5 7 6-33 5 12 5-40 6-8 5-2 6 0 5 5 5-14 6-4 5-32 6 11 5-4 5-9 6-22 5-10 6-16 5 26 5-15 6 33 5-22 6-25 5 7 6 15 5-39 5-6 6 4 5-1 6 19 5 3 5 12 6 20 5-46 6-29 5 33 5-25 6 6 5 20 6-11 5-8 6 18 5 16 5 12 6-23 5 11 6-14 5 1 5-39 6 3 5 3 6-6 5-23 5-11 6-26 5-33 6-20 5 16 5-5 6 13 5-5 6-25 5 7 6 3 5-34 5 0 6-8 5 8 6 14 5 1 5 14 6 3 5 6 6 2 5 24 5 9 6 15 5-32 6-3 5-24 5 14 6-8 5 6 6 6 5-1 6-17 5 11 5 14 6 1 5-17 6 18 5 5 5 52 6 0 5 13 6 29 5-5 5-4 6-21 5 12 6 13 5-23 6 7 5-41 5-11 6-8 5 1 6-3 5 20 5-9 6-1 5 2 6-10 5-13 5 19 6-2 5 0 6-3 5 27 5-31 6 27 5 7 6-8 5-22 6 7 5 15 5-26 6-1 5 40 6-44 5-4 5-8 6-17 5 54 6-17 5-10 5 7 6 32 5-7 6-19 5-23 5 22 6-6 5 18 6-9 5 22 6-4 5 17 5-44 6 16 5-21 6 16 5 20 5-15 6 5 5-9 6-55 5 11 5-16 6-28 5-5 6 4 5-3 6 15 5-5 5 32 6-19 5-8 6 8 5 6 5 29 6-10 5-39 6-29 5 25 5-4 6-2 5 0 6 21 5-17 5-17 6 22 5-25 6-1 5 17 6-33 5 3 5 15 6-39 5 4 6-9 5 42 5-5 6 8 5 3 6-23 5 0 5-34 6 0 5 25 6 23 5 25 6 32 5-18 5 27 6 10 5 0 6 10 5 19 5-14 6 16 5 30 6 26 5-33 5-11 6-29 5-18 6-12 5-14 5-1 6 34 5 12 6 23 5 19 6 23 5 20 5 10 6 13 5-29 6 9 5 2 5 5 6-22 5-6 6-3 5-8 5-21 6 2 5-19 6-20 5 18 6 11 5-6 5-27 6-5 5 2 6 35 5 18 5 18 6 11 5 9 6 2 5-8 5-16 6 12 5 13 6 3 5-6 5-40 6-43 5 4 6-23 5-3 6-4 5 18 5 37 6-3 5-9 6-27 5 36 5 4 6-3 5 12 6-39 5-24 5 10 6 32 5 21 6-30 5-8 5 3 6 6 5 3 6-25 5 5 6-6 5 20 5-5 6 0 5 11 6 9 5 17"/>
<path d="M355 2632l3-125 2-97 3-72 3-56 3-42 2-30 3-30 3-22 2-14 3-20 3-8 2-9 6-4 5-8 6 0 5-1 6-11 5 2 5-8 6-5 5-1 6-20 5-12 5-5 6-6 5-4 6-11 5-6 5 4 6-11 5-12 6-2 5-12 5-6 6-16 5-4 6 7 5-3 6-4 5-7 5-6 6-1 5 1 6 2 5-3 5-12 6-6 5-8 6-3 5-17 5-4 6-7 5-7 6-6 5-6 6-6 5-1 5-6 6-4 5 12 6-1 5-11 5-6 6-4 5-7 6 2 5 0 5-13 6-9 5 4 6-1 5-1 5 3 6 0 5-9 6 1 5-5 6-3 5-17 5-7 6-1 5 3 6-13 5-9 5 1 6 2 5-4 6-4 5-1 5-7 6 4 5 18 6 1 5-11 5 3 6-5 5 8 6-20 5 8 6 12 5-3 5 0 6-11 5-15 6-11 5-4 5-7 6-28 5-2 6 17 5 4 5-1 6-3 5-16 6 9 5 16 6-4 5 17 5 5 6-17 5 9 6-17 5-11 5-3 6 1 5-14 6-15 5-11 5 17 6-1 5 4 6 20 5-20 5 6 6-28 5-24 6 23 5-3 6 6 5-12 5-11 6 11 5-17 6-1 5-6 5-15 6-18 5-3 6 12 5 36 5-13 6-13 5-7 6 4 5-23 5 11 6-13 5-28 6-20 5-7 6-28 5-8 5-10 6 14 5 18 6 41 5-14 5-4 6 3 5-22 6 18 5 5 5-8 6 1 5-7 6 0 5 20 6-17 5-1 5-23 6 25 5 26 6-16 5-18 5-21 6 24 5-21 6 7 5 27 5-35 6-1 5 10 6-33 5-11 5 6 6-35 5-10 6-29 5 14 6 18 5-3 5-1 6 0 5-11 6 9 5 24 5-7 6-28 5 22 6 4 5 29 5-17 6-18 5-14 6-16 5-9 6-19 5 47 5-18 6-13 5 24 6-11 5-10 5 1 6-17 5-19 6-22 5 28 5-4 6-27 5-16 6 26 5 6 5 5 6-16 5 7 6-6 5-14 6-18 5 7 5 3 6 10 5-24 6-16 5 17 5 20 6-16 5-10 6 6 5-7 5 0 6-30 5-7 6 27 5 37 6 10 5-6 5 3 6 52 5-31 6 12 5-15 5-22 6-14 5 18 6-4 5-44 5 10 6 9 5 41 6-21 5 4 5-4 6-26 5-6 6 5 5 35 6-19 5-4 5-7 6-6 5 2 6-22 5 9 5 12 6-37 5-2 6 10 5 5 5 1 6 30 5-14 6 13 5 23 5 6 6-18 5-21 6-7 5-27 6-35 5 7 5-31 6 35 5 28 6 5 5 29 5-19 6-56 5-26 6-14 5 18 5-3 6-19 5 0 6 28 5 7 6-10 5 22 5 28 6-9 5 18 6 9 5 10 5-24 6-9 5 18 6 13 5-22 5 11 6 36 5-19 6 12 5 5 5 6 6 15 5 0 6-2 5-20 6 3 5 4 5-25 6-17 5 24 6 0 5 10 5 8 6 11 5-1 6-55 5 34 5-8 6 3 5 20 6-29 5 22 5 5 6 1 5-2 6 10 5-2 6-18 5-27 5-28 6 15 5 12 6-1 5-8 5 5 6 0 5 12 6-11 5-3 5-8 6 7 5 1 6-20 5-13 6-33 5 20 5-4 6 9 5-15 6 16 5-11 5 39 6-29 5-30 6 2 5-7 5-4 6 11 5 2 6 17 5-5 5-18 6 24 5 12 6 38 5-1 6-1 5-16 5 24 6-39 5 15 6 0 5 6 5 12 6 0 5 26 6 18 5-1 5-26 6 22 5-38 6-8 5-16 6-27 5 10 5 5 6-13 5 4 6 12 5-9 5 3 6 16 5 30 6 4 5-4 5 7 6-25 5-43 6 16 5 13 5 28 6-3 5-27 6 0 5 0 6 12 5-55 5-2 6 6 5 1 6 0 5-16 5 21 6-12 5 4 6-28 5 30 5-29 6 19 5-15 6 0 5 17 6-24 5-4 5-9 6-26 5 3 6 14 5-11 5 35 6 38 5 7 6-18 5 9 5-4 6-15 5 2 6 16 5-24 5-3 6-8 5 0 6 11 5 5 6-4 5-13 5 9 6 19 5 16 6-20 5 36 5-32 6 9 5-13 6-3 5 18 5 3 6 13 5 10 6 13 5 12 5-17 6 29 5-7 6 18 5-7 6-3 5-13 5-13 6 15 5 9 6 7 5 9"/>
<path d="M355 2632l3-132 2-101 3-80 3-55 3-44 2-26 3-29 3-27 2-18 3-13 3-11 2-11 6-9 5-8 6-5 5-2 6-4 5-6 5-4 6 0 5-7 6-4 5-16 5 2 6-5 5-12 6-20 5-2 5 1 6-16 5 0 6-17 5-7 5-10 6 4 5-6 6-2 5-10 6-8 5-11 5 3 6-5 5-2 6-11 5 0 5-7 6-8 5-10 6-2 5 2 5-6 6-3 5 7 6-21 5 1 6 1 5-1 5-8 6-11 5-10 6-5 5-4 5 1 6 1 5-7 6-5 5-15 5-4 6 4 5-15 6 0 5 9 5-3 6 0 5 8 6-17 5 0 6-4 5-11 5-9 6 12 5-4 6-6 5 9 5-13 6 13 5-14 6-18 5-2 5-10 6-12 5-23 6-9 5-10 5 2 6-3 5 15 6 0 5-28 6-23 5-2 5-8 6-23 5-3 6 17 5 8 5-5 6 2 5-14 6 25 5-7 5 5 6-8 5 9 6 13 5-18 6-2 5-34 5 13 6-11 5 9 6-23 5 7 5-2 6-7 5-22 6-7 5 15 5 1 6 3 5-28 6 15 5 13 5 19 6-11 5-6 6-1 5 7 6-19 5-3 5-30 6-5 5 0 6-21 5-48 5 0 6-5 5 20 6 4 5 8 5-33 6-61 5-43 6-10 5 10 5 2 6-4 5-15 6 18 5 8 6 26 5 8 5 2 6 13 5-15 6 17 5 41 5-1 6-1 5 25 6-17 5-27 5-20 6-4 5-3 6 1 5 17 6 10 5 30 5 14 6-5 5-2 6-18 5-3 5-42 6 3 5 12 6-13 5 1 5-47 6-4 5 26 6 16 5-7 5 12 6-15 5 47 6-17 5-17 6 3 5-9 5-29 6-1 5 3 6-23 5 43 5-5 6 14 5-2 6 21 5-20 5-36 6 2 5-1 6 43 5-51 6-5 5 14 5-21 6-12 5-3 6 20 5 21 5-4 6 6 5 1 6 15 5-3 5-11 6 4 5 1 6-3 5-24 5-16 6-5 5 8 6-24 5-40 6-22 5-6 5-19 6-18 5 11 6 14 5-21 5 6 6 7 5-14 6 32 5 0 5 2 6 36 5-19 6 5 5 28 6 3 5-42 5-13 6-21 5 23 6-26 5-14 5 40 6-6 5 18 6 18 5-26 5-55 6 21 5-30 6-13 5-21 5 40 6 38 5 0 6 15 5-21 6 30 5-3 5-3 6-12 5-11 6 25 5 4 5 6 6 33 5 13 6-19 5-3 5-18 6-31 5-6 6-19 5-16 5 24 6-7 5 13 6-7 5 26 6 9 5-48 5-28 6-3 5-25 6-7 5-13 5-6 6-15 5 13 6 0 5-9 5 27 6 23 5 7 6 9 5 7 6-14 5-9 5-34 6-16 5-10 6-2 5 8 5-8 6 2 5-10 6 21 5-15 5-30 6 24 5 37 6 2 5 20 5 14 6-1 5-6 6 36 5-22 6 14 5-8 5 21 6-21 5-16 6-4 5-8 5 5 6 9 5 33 6-3 5-10 5-26 6-23 5 5 6 39 5 9 5-4 6-2 5 15 6-4 5 6 6 17 5-3 5-12 6 45 5-36 6 39 5 5 5-24 6 13 5-13 6-37 5 21 5 28 6-36 5 6 6-16 5-11 6-2 5-14 5-16 6-19 5 8 6 2 5-8 5 22 6-9 5-9 6 5 5 1 5-11 6-19 5-5 6 28 5 11 5-11 6-31 5 38 6 28 5 8 6-8 5 24 5-3 6-1 5-8 6 2 5 15 5-11 6 13 5-16 6 3 5 25 5 6 6-2 5-9 6 8 5 4 6 6 5 10 5-9 6 35 5-5 6-26 5 6 5 10 6 28 5 15 6-24 5 9 5 9 6-22 5-11 6 10 5-11 5 26 6-4 5-5 6 8 5 13 6 54 5-17 5-1 6 23 5-37 6-42 5-5 5-21 6-13 5 20 6-7 5-10 5-15 6-13 5-11 6-14 5-21 6-26 5 7 5-17 6 7 5-53 6-21 5-10 5 35 6 8 5-16 6-15 5 9 5-16 6-4 5 0 6 6 5 1 5 30 6-13 5-1 6 11 5-21 6-6 5-8 5 10 6 28 5-14 6-22 5 27 5-10 6-11 5 8 6-3 5 43 5-3 6 7 5-36 6 1 5-12 5 1 6 5 5-7 6-10 5 9 6-30 5 17 5 9 6 20 5 16 6-14 5 31"/>
<path d="M355 2632l3-133 2-99 3-76 3-56 3-48 2-38 3-23 3-18 2-12 3-20 3-6 2-14 6-22 5-1 6-11 5-23 6-10 5-5 5-7 6-2 5-3 6 5 5-10 5-9 6-8 5-11 6-13 5 4 5-15 6-12 5-4 6-4 5 9 5-9 6-5 5 2 6-24 5-2 6-9 5 4 5-8 6-7 5 2 6-1 5-4 5-12 6 3 5-2 6-5 5-7 5 4 6-13 5-1 6-3 5-2 6-2 5-2 5-2 6 2 5-9 6 11 5-4 5 7 6-6 5 2 6-15 5-14 5-12 6 1 5-8 6-19 5-2 5-19 6-3 5-1 6-1 5-6 6 3 5-6 5-23 6 2 5-4 6-25 5-5 5-5 6-11 5-12 6-6 5 5 5-11 6-4 5 5 6-10 5-24 5-4 6 0 5-22 6-2 5-21 6 24 5 15 5-14 6 2 5-21 6 11 5-7 5 2 6-25 5 0 6-15 5 3 5-12 6-4 5 5 6 10 5-26 6-20 5-8 5 23 6 2 5-4 6 18 5-11 5 9 6-13 5 8 6-17 5 14 5-29 6-13 5-2 6-10 5-12 5 0 6-12 5-23 6 9 5-6 6 21 5-11 5 30 6-6 5-5 6-16 5 14 5-29 6 10 5-24 6 4 5-9 5-19 6 22 5-11 6-15 5 50 5 10 6-4 5-6 6 3 5 4 6-29 5-8 5-8 6 19 5-38 6-11 5-10 5 10 6-4 5 7 6-12 5 31 5 38 6 15 5 7 6-19 5 18 6-17 5-31 5 5 6-42 5 35 6-5 5-22 5-13 6 6 5 12 6 34 5-11 5 8 6-17 5-9 6 9 5 13 5-2 6-18 5-28 6-11 5 10 6-25 5 0 5-8 6-21 5-33 6-3 5 15 5-4 6 15 5-18 6 35 5-18 5 7 6 19 5-6 6-20 5 19 6-14 5-6 5 0 6 30 5-9 6 22 5-4 5-7 6 7 5 22 6-14 5-17 5 36 6-38 5-10 6 25 5-6 5-12 6-13 5 30 6-14 5 5 6-12 5-2 5 39 6 22 5 7 6-41 5-12 5-27 6-37 5-17 6-15 5 15 5-7 6-9 5-14 6 17 5 9 6 40 5 13 5 38 6-16 5-40 6-34 5 2 5 0 6-21 5-4 6 22 5-7 5-37 6 19 5 6 6 0 5-33 5 13 6-22 5-28 6-20 5-25 6 3 5 11 5-7 6 23 5-22 6-40 5-19 5-23 6-21 5-11 6-19 5 16 5 31 6 23 5 7 6-32 5-14 5 7 6 29 5-10 6-19 5-10 6-27 5-28 5-14 6-22 5-13 6-4 5 27 5-1 6-9 5 27 6-33 5 19 5-16 6-4 5 33 6 7 5 8 6-1 5 18 5 12 6 22 5-13 6-3 5-3 5 10 6-10 5-11 6 47 5-14 5-9 6-17 5-16 6 10 5 1 5-8 6-7 5 35 6 10 5 4 6 3 5 23 5-7 6-14 5-26 6 5 5 22 5 2 6-44 5 21 6-4 5 9 5 18 6 4 5-15 6 3 5-1 5-15 6-29 5 15 6 41 5-3 6-3 5-44 5 19 6 22 5-11 6 10 5 4 5-10 6-6 5 3 6 4 5-17 5 31 6 5 5 6 6-1 5 25 6 3 5 28 5 6 6 18 5-21 6-9 5 25 5 11 6-50 5-10 6 23 5 29 5 19 6 43 5-21 6-1 5 25 5 9 6-28 5-11 6 0 5 8 6-3 5 20 5-13 6 7 5-14 6-22 5 11 5-14 6 5 5-14 6-2 5-12 5-10 6-5 5 21 6 13 5-17 6 41 5-11 5 6 6-6 5 16 6-2 5-35 5-11 6-23 5-10 6 0 5 26 5-8 6-17 5-10 6 16 5-12 5-18 6 2 5 17 6-1 5 42 6 1 5-18 5 14 6 11 5 4 6-22 5 11 5-8 6-13 5-19 6-3 5 7 5 44 6 39 5 36 6-37 5-15 6-27 5-13 5 3 6-1 5-25 6 8 5-36 5-3 6-32 5-28 6-16 5 10 5 57 6 21 5 26 6-21 5-52 5 16 6 46 5-19 6 6 5-21 6 11 5 41 5-42 6 18 5-10 6 0 5 11 5 27 6 19 5-6 6 15 5-6 5 19 6 19 5-27 6 18 5 2 5 3 6-9 5 28 6 11 5-17 6-12 5 29 5-6 6-10 5-7 6-10 5-18"/>
<path d="M355 2632l3-135 2-102 3-77 3-60 3-47 2-31 3-34 3-26 2-14 3-14 3-7 2 1 6-20 5-17 6 6 5-2 6-7 5-11 5-3 6-6 5-22 6-4 5-3 5 2 6-5 5-14 6-16 5 0 5-5 6-9 5-2 6 1 5-1 5-2 6-6 5 2 6-11 5-9 6-5 5-4 5-7 6 0 5-4 6-3 5-11 5-15 6 4 5-8 6-13 5-6 5-6 6-4 5-11 6-9 5-4 6-2 5-16 5-1 6 3 5 2 6-16 5 0 5-6 6-10 5 5 6 5 5 6 5-6 6-6 5-5 6-7 5-12 5-6 6-13 5 0 6 2 5 10 6 7 5-1 5 10 6-9 5-3 6-4 5-14 5-6 6-30 5-21 6 15 5 5 5 12 6 13 5 1 6-2 5 1 5-8 6-1 5-15 6-27 5 4 6-7 5 34 5 0 6 2 5 21 6-15 5 7 5-12 6 5 5-11 6-33 5-21 5-22 6 3 5-5 6 2 5 8 6-20 5-7 5-11 6-13 5-8 6-28 5-11 5-30 6-16 5-8 6 0 5 11 5 22 6 13 5-11 6-33 5-7 5 8 6 43 5 0 6 3 5 5 6-16 5-12 5 9 6 13 5-40 6 24 5-11 5-20 6-22 5-4 6-29 5 18 5-28 6-3 5 8 6 15 5 28 5 12 6-41 5-23 6 2 5 10 6 4 5-1 5 6 6-14 5-4 6-24 5 33 5 25 6-27 5-23 6-35 5-3 5-25 6 49 5-45 6-11 5 28 6-15 5 6 5-3 6 23 5-6 6 7 5-26 5-27 6-13 5 1 6 15 5-20 5 25 6 5 5-20 6 19 5-22 5 20 6-29 5-16 6-1 5 27 6 11 5-22 5-4 6 17 5-41 6-36 5 22 5-4 6-43 5 22 6-4 5 17 5-52 6-7 5-10 6-7 5-19 6 20 5 3 5 1 6 18 5 17 6 17 5 22 5 5 6-2 5 21 6 21 5 9 5 20 6-18 5-45 6-24 5-6 5-6 6 11 5 17 6-16 5-27 6 9 5-4 5-22 6 5 5 6 6-16 5 50 5-31 6 50 5 9 6-50 5-29 5 47 6-28 5-21 6 11 5-9 6-19 5-15 5-9 6 18 5-45 6 3 5-18 5-9 6 1 5 37 6-11 5 39 5 37 6-10 5-11 6 3 5 17 5 10 6 2 5-11 6-32 5 9 6-9 5-4 5 14 6-5 5-1 6 0 5-5 5-27 6-6 5 22 6-3 5 20 5-18 6-15 5 32 6 8 5 3 5-34 6 12 5-16 6 12 5-39 6 18 5-32 5-32 6-4 5-18 6 56 5 15 5-13 6 9 5-12 6-6 5-24 5-30 6-11 5 9 6 4 5 1 6-13 5 2 5 5 6 24 5-8 6-15 5 15 5 14 6-19 5-3 6-3 5-1 5 6 6-36 5-6 6 17 5 0 5-16 6-8 5-18 6 11 5 8 6-16 5 18 5 10 6 0 5 8 6-7 5 18 5-5 6 33 5-5 6 5 5-8 5 7 6-27 5-4 6 4 5-8 5-9 6-6 5-8 6 16 5-22 6-49 5 18 5 23 6 14 5-12 6 13 5 12 5-8 6 10 5-20 6 24 5-13 5 14 6 2 5 16 6-24 5 0 6-33 5 10 5 2 6 25 5-35 6-18 5-31 5 21 6-7 5 25 6-11 5-29 5 48 6 21 5-16 6-4 5-1 5 3 6 18 5-16 6 20 5-23 6-12 5 8 5-4 6 0 5 18 6 9 5 8 5 5 6-35 5 1 6 18 5-6 5 0 6-9 5 20 6 19 5-6 6-2 5 10 5-16 6-2 5 9 6-21 5 7 5-10 6 0 5-13 6-3 5 24 5-3 6 16 5 14 6-11 5 14 5-28 6 10 5 2 6-27 5 13 6 2 5-10 5-2 6-2 5-1 6 5 5 23 5 32 6 10 5 12 6-43 5 4 5-7 6-49 5-16 6-5 5 19 6 20 5-3 5 17 6 2 5-12 6-20 5 3 5 2 6 3 5 32 6-28 5 16 5 33 6 36 5 0 6 3 5-7 5-5 6 0 5 4 6 1 5 9 6-5 5 2 5-28 6 0 5 4 6 11 5 45 5-7 6-33 5 52 6-42 5 20 5 18 6-14 5-10 6 6 5-6 5-26 6-24 5-7 6-2 5 29 6-25 5-11 5 37 6 13 5 5 6 1 5-15"/>
<path d="M355 2632l3-124 2-95 3-73 3-59 3-42 2-35 3-24 3-17 2-21 3-10 3-11 2-13 6-3 5-11 6-3 5-14 6-1 5 0 5-8 6-8 5-1 6-15 5-12 5-2 6-3 5-17 6-9 5 4 5-12 6 1 5-5 6-4 5 1 5-7 6 1 5-2 6 0 5-3 6-8 5 0 5-5 6-19 5-2 6-6 5-2 5 2 6-1 5-2 6-6 5 1 5-2 6 1 5-1 6-1 5-9 6 3 5-3 5 2 6-3 5 3 6-14 5-1 5-9 6 0 5-12 6 0 5-16 5 0 6-12 5-20 6 0 5-13 5-7 6-7 5 5 6 1 5-6 6-8 5 1 5-20 6-10 5 1 6-2 5-7 5-6 6 30 5 4 6-18 5 1 5-5 6-5 5-16 6-5 5 2 5-22 6 0 5-14 6-15 5-1 6 4 5-13 5-5 6-22 5 0 6-22 5-20 5 21 6-6 5-7 6-10 5-5 5 6 6-25 5 5 6-22 5-20 6-7 5-15 5-17 6-20 5-16 6-1 5 7 5 18 6-3 5-25 6 12 5-10 5-8 6-14 5-20 6-24 5 8 5 5 6 12 5 3 6-5 5-11 6 17 5-30 5 40 6-24 5 17 6-20 5 3 5-35 6-21 5 18 6-31 5-18 5 1 6 13 5-10 6-12 5-27 5-22 6 22 5 14 6 2 5-8 6 6 5 8 5 3 6-41 5 6 6 29 5-8 5 31 6-21 5-13 6 16 5 8 5-7 6 27 5-1 6-28 5-9 6 11 5-15 5 6 6 35 5-40 6-5 5-6 5-15 6-20 5-10 6 15 5 19 5-8 6 2 5-1 6 23 5 17 5 9 6-26 5 10 6 2 5-19 6-3 5-59 5 10 6 10 5 0 6 6 5-47 5 4 6 7 5-17 6-32 5 14 5-27 6 8 5-20 6-13 5-32 6-7 5 11 5-39 6 18 5-21 6 14 5-9 5 25 6-23 5 6 6-18 5-7 5-42 6-2 5-33 6 22 5 24 5 18 6-17 5-7 6-20 5 15 6-4 5-18 5 22 6-36 5 31 6 1 5 18 5-18 6-3 5-26 6-12 5-25 5 14 6-21 5-1 6-4 5-23 6-12 5-7 5-4 6 60 5-25 6 20 5-14 5 13 6-28 5-21 6-7 5-7 5-19 6 18 5-13 6 6 5-1 5-5 6-4 5-6 6-12 5-37 6-28 5 5 5 17 6 5 5-23 6 5 5 4 5 5 6 0 5 3 6 10 5 8 5-11 6-20 5 26 6-19 5 21 5-32 6 3 5-2 6-7 5-14 6 3 5 2 5 12 6-2 5 0 6 10 5 7 5 24 6 1 5-11 6-9 5 8 5-1 6-19 5-32 6-18 5 8 6-37 5-2 5 13 6 17 5-4 6 18 5-5 5 12 6-31 5-23 6-7 5-19 5 16 6 35 5 17 6 4 5-25 5 2 6-2 5 33 6 22 5 22 6 7 5 42 5-34 6-24 5-20 6-17 5 1 5 25 6 12 5 21 6 0 5 18 5 17 6-5 5-9 6 5 5-11 5-17 6 16 5 15 6 3 5 5 6 13 5 25 5 20 6-8 5-31 6 4 5-10 5 19 6 0 5 25 6-2 5-4 5-22 6-17 5-6 6-14 5 19 6-20 5-13 5-6 6-29 5-4 6 13 5 18 5-6 6-2 5-35 6-15 5 16 5-19 6-17 5 23 6 3 5-35 5 44 6 24 5 2 6 8 5 9 6 2 5 6 5-31 6 36 5-2 6-27 5-6 5-10 6 22 5-7 6-5 5 7 5-1 6 5 5 11 6 15 5 12 6-23 5-21 5-5 6-18 5-6 6 3 5-2 5 17 6 22 5-15 6-5 5 7 5 15 6-11 5 15 6-1 5-22 5-6 6-16 5 17 6 5 5-8 6 3 5 8 5-13 6-22 5 27 6-38 5 0 5-1 6-18 5 14 6 4 5-5 5-11 6-14 5 23 6-15 5-6 6 26 5 31 5 10 6-6 5 6 6-6 5 14 5 14 6-24 5-19 6 5 5-12 5 1 6-5 5 9 6-24 5-14 5-27 6-3 5 1 6-8 5-12 6 3 5 12 5 18 6 16 5 35 6 11 5 15 5-20 6-19 5 23 6 25 5-7 5 26 6-15 5 10 6-11 5-18 5 13 6-16 5-10 6 11 5-15 6-38 5 7 5-3 6-8 5 10 6-6 5 22"/>
<path d="M355 2632l3-123 2-92 3-70 3-58 3-42 2-29 3-26 3-24 2-11 3-11 3-10 2 1 6-10 5-1 6-6 5-12 6-5 5-8 5-15 6-7 5 6 6-9 5-12 5-3 6-3 5 12 6-8 5 6 5-4 6-3 5 0 6 1 5-13 5-7 6-7 5-7 6-20 5-17 6 2 5-7 5-8 6-9 5-21 6 2 5-3 5-9 6-5 5-7 6-2 5-7 5-8 6-9 5 6 6-1 5 3 6-2 5-10 5 1 6 1 5-3 6 1 5 4 5-5 6-2 5-1 6-19 5-17 5-11 6-9 5-20 6-6 5-5 5-15 6-6 5-13 6 10 5-16 6-7 5 1 5-9 6 12 5-7 6-3 5-9 5 1 6-8 5 0 6 7 5-34 5 4 6 5 5 1 6-16 5-13 5-6 6-7 5 6 6-14 5-4 6 10 5-2 5-23 6-3 5 0 6 0 5-6 5 2 6-13 5-26 6 4 5 29 5-7 6 0 5-14 6-10 5 1 6-23 5-6 5 3 6-15 5 23 6-6 5-5 5 20 6-19 5 2 6 0 5-8 5 6 6-2 5-12 6 20 5-8 5-19 6-6 5-12 6-12 5-3 6 14 5-16 5 7 6 41 5 3 6 28 5-9 5-12 6 15 5 4 6-6 5-14 5 3 6 4 5-35 6 10 5-22 5-22 6-10 5 12 6 30 5-4 6-24 5 1 5 3 6 29 5-5 6-11 5 13 5-22 6-22 5 20 6-10 5-22 5 22 6 16 5 0 6-15 5-18 6-2 5 8 5 13 6-5 5 22 6 11 5 12 5-3 6 12 5 27 6 16 5-16 5 14 6-24 5-15 6-13 5-21 5-14 6-26 5-11 6-19 5 35 6-25 5-1 5 7 6 37 5 10 6 20 5-25 5 24 6 14 5-14 6-2 5-24 5-21 6 37 5-27 6 19 5-12 6 1 5-8 5-20 6-30 5 0 6-10 5-11 5-1 6 7 5 3 6-23 5 10 5-19 6 5 5-33 6-27 5-19 5 27 6 21 5-5 6-25 5-2 6-3 5 11 5-3 6 16 5 35 6-6 5-3 5 13 6-1 5-10 6 1 5 31 5-32 6-22 5-46 6-7 5-39 6-3 5 1 5-18 6 2 5 6 6-11 5-13 5-17 6-38 5-8 6 35 5-8 5-22 6 18 5-22 6-3 5 21 5 33 6 0 5-17 6-25 5-2 6 6 5 29 5-33 6 26 5-23 6-5 5-6 5 12 6-1 5 4 6-6 5-3 5-7 6 13 5-6 6 24 5 12 5 12 6-2 5 26 6 8 5 3 6 6 5-23 5 15 6 1 5-5 6-11 5-22 5-13 6 9 5 18 6-5 5 1 5-10 6 17 5-1 6 0 5-2 6-29 5 7 5 6 6-8 5 2 6 24 5-15 5-12 6 11 5-19 6-1 5 7 5 1 6-17 5 6 6-66 5 5 5 21 6 15 5 21 6-5 5-2 6-18 5 2 5-15 6 8 5-2 6-9 5-9 5 0 6-29 5-3 6 21 5-8 5-13 6 44 5 4 6-8 5 10 5 19 6 3 5-10 6-3 5 17 6 27 5 23 5 3 6-5 5 8 6-3 5 4 5-8 6-5 5 23 6-20 5-1 5 18 6 5 5 5 6 7 5 13 6-16 5 4 5 12 6-34 5-2 6-32 5 33 5-21 6-14 5 0 6-3 5 36 5-17 6-14 5 27 6 7 5-15 5 34 6 10 5 9 6-1 5-2 6 27 5-22 5-6 6 8 5 9 6-1 5 27 5-7 6-17 5-30 6-8 5 8 5-11 6-22 5 3 6-16 5 1 6 24 5 16 5-6 6 26 5-22 6-37 5 16 5-24 6 3 5 2 6-8 5 0 5 20 6-11 5-2 6-2 5 40 5 14 6-33 5 8 6 23 5-31 6-17 5 3 5-7 6 33 5-15 6-13 5 17 5-10 6-49 5-7 6 3 5-4 5 0 6-48 5-9 6 11 5 30 6 3 5 0 5-6 6 6 5-5 6 3 5 15 5-42 6-2 5-23 6 15 5 5 5 5 6-6 5 40 6-15 5 26 5 12 6-26 5-27 6 3 5-19 6 18 5-18 5-11 6 0 5 11 6-18 5 16 5 14 6-15 5-7 6-3 5-9 5-10 6-23 5 9 6-16 5 40 5-4 6 37 5 22 6 19 5 17 6 9 5 28 5 20 6 9 5-6 6 6 5 6"/>
</g>
</g>
<g clip-path="url(#cr)">
<line x1="373.50" y1="30.67" x2="644.50" y2="30.67" stroke="#ffa500" stroke-width="1.0" stroke-opacity="0.45"/>
<line x1="373.50" y1="49.43" x2="644.50" y2="49.43" stroke="#ffa500" stroke-width="1.0" stroke-opacity="0.45"/>
<line x1="373.50" y1="40.05" x2="644.50" y2="40.05" stroke="#808080" stroke-width="1.0" stroke-dasharray="2.5 1.5" stroke-opacity="0.6"/>
<g transform="scale(0.1)">
<path d="M3735 2638l3-26 2-42 3-53 3-60 3-89 2-109 3-76 3-49 2-14 3-8 3-5 3-4 2-3 3-4 3-6 2-7 3-8 3-7 2-8 3-8 3-9 3-7 2-7 3-8 3-9 2-7 3-6 3-5 3-5 2-6 3-7 3-8 2-7 3-6 3-4 3-5 2-6 3-6 3-7 2-8 3-6 3-5 3-5 2-7 3-8 3-8 2-6 3-4 3-3 2-3 3-4 3-5 3-5 2-3 3-3 3-4 2-4 3-6 3-5 3-5 2-4 3-5 3-4 2-3 3-5 3-5 3-4 2-3 3-4 3-5 2-4 3-3 3-3 3-3 2-5 3-4 3-4 2-3 3-5 3-6 3-6 2-5 3-2 3 0 2 0 3-2 3-3 2-4 3-4 3-5 3-5 2-5 3-2 3-1 2-3 3-6 3-6 3-5 2-3 3-2 3-2 2-3 3-4 3-3 3-4 2-4 3-6 3-6 2-6 3-3 3 1 3 2 2 1 3-1 3-3 2-4 3-5 3-3 2-2 3-2 3-4 3-5 2-7 3-5 3-4 2-5 3-5 3-5 3-4 2-1 3-1 3-4 2-5 3-5 3-3 3 0 2-1 3-2 3-4 2-7 3-7 3-5 3-2 2-1 3-5 3-8 2-9 3-8 3-5 3-3 2-4 3-4 3-5 2-7 3-5 3-3 2-1 3-3 3-5 3-6 2-6 3-7 3-7 2-5 3-2 3-1 3-2 2-3 3-5 3-5 2-6 3-5 3-4 3-3 2-3 3-2 3-2 2-3 3-3 3-4 3-3 2-4 3-4 3-5 2-6 3-4 3-4 2-4 3-3 3-3 3-4 2-3 3-3 3-4 2-5 3-7 3-5 3-5 2-3 3-3 3-1 2-1 3-1 3-2 3-3 2-5 3-7 3-7 2-6 3-2 3-2 3-1 2-2 3-3 3-4 2-4 3-3 3-2 2-3 3-4 3-6 3-7 2-4 3-1 3 1 2 1 3-1 3-3 3-2 2-3 3-3 3-5 2-6 3-5 3-3 3-2 2-1 3-2 3-3 2-6 3-6 3-5 3-1 2 0 3-2 3-5 2-6 3-3 3 1 2 1 3 1 3 1 3 0 2-2 3-5 3-6 2-6 3-5 3-3 3-3 2-4 3-4 3-6 2-5 3-3 3-1 3 0 2 1 3 0 3-1 2-1 3-1 3-2 3 0 2 0 3 0 3 0 2 1 3-1 3-1 3-2 2-2 3-3 3-3 2-2 3-1 3-1 2 1 3 1 3 0 3-3 2-5 3-6 3-5 2-4 3 0 3 2 3 1 2 0 3-1 3-1 2-1 3-2 3-1 3-1 2-3 3-3 3-2 2 0 3 1 3 3 3 1 2-4 3-7 3-7 2-6 3-4 3-3 2-4 3-2 3 1 3 2 2 2 3 2 3 0 2-1 3-4 3-6 3-4 2-1 3 1 3 1 2 0 3 1 3 2 3 4 2 2 3-2 3-4 2-4 3-2 3-2 3-3 2-3 3-4 3-3 2-1 3 1 3 1 3 0 2-1 3-3 3-2 2 1 3 3 3 2 2-1 3-4 3-4 3-3 2-1 3 2 3 3 2 1 3-4 3-3 3-2 2 0 3 0 3-2 2-1 3-1 3-2 3-3 2-3 3-4 3-3 2-2 3-1 3-1 3-2 2-3 3-3 3-5 2-4 3-3 3 1 2 3 3 3 3-1 3-3 2-1 3 2 3 4 2 2 3 0 3-3 3-2 2-2 3-3 3-4 2-4 3-3 3-2 3-3 2-3 3-2 3-2 2-3 3-3 3-1 3 0 2 1 3 0 3 1 2 0 3-1 3-1 2 0 3 1 3 1 3 0 2-1 3-3 3-6 2-5 3-3 3-3 3 0 2 3 3 5 3 3 2 0 3-1 3-3 3-3 2-2 3 0 3 1 2 0 3-1 3-2 3-4 2-4 3-4 3-2 2-2 3-3 3-2 2-2 3-2 3-1 3-3 2-6 3-8 3-6 2-3 3 0 3 1 3 0 2-2 3-1 3-1 2 1 3-1 3-4 3-6 2-2 3 0 3 3 2 1 3-1 3-3 3-2 2-2 3-1 3-1 2 0 3-1 3-1 3 0 2 2 3 0 3-2 2-2 3-1 3-2 2-2 3-1 3-2 3-1 2-1 3-2 3-2 2-3 3-2 3-2 3-2 2-2 3-2 3 1 2 3 3 3 3 2 3 0 2-1 3-2 3-4 2-5 3-4 3-3 3-2 2 1 3 2 3 1 2 0 3-1 3-2 2-3 3-2 3 0 3 3 2 2 3-2 3-5 2-5 3-2 3 1 3 3 2 1 3 1 3-2 2-3 3-3 3-5 3-4 2-1 3 0 3 1 2 0 3 2 3 2 3 2 2 2 3 0 3 0 2-2 3-2 3-2 3-1 2-2 3-3 3-4 2-5 3-2 3 0 2 1 3 1 3-2 3-1 2 3 3 4 3 0 2-6 3-8 3-5 3-3 2-2 3-1 3-2 2-1 3 0 3 0 3-1 2-3 3-4 3-3 2 1 3 5 3 5 3 0 2-2 3-3 3-1 2 1 3 0 3 0 2-1 3-2 3-2 3-3 2-1 3-1 3 1 2 0 3 0 3 0 3-1 2 0 3 2 3 2 2 1 3-2 3-3 3-3 2-3 3-2 3-1 2-3 3-3 3-3 3-1 2 0 3 2 3 2 2 3 3 2 3 3 2 4 3 2 3 1 3 1 2 1 3-1 3-2 2-2 3-3 3-2 3-1 2 0 3-1 3 0 2 0 3 0 3 0 3 1 2 2 3 1 3 1 2 0 3 1 3 1 3 1 2 2 3 2 3 3 2 3 3 1 3 0 2 0 3 0 3 0 3 0 2 0 3-2 3-3 2-3 3 0 3 2 3 4 2 4 3 2 3 0 2-3 3-6 3-8 3-7 2-4 3-2 3-1 2 0 3-1 3-2 3-3 2-1 3 0 3 2 2 3 3 2 3 1 3 3 2 4 3 4 3 1 2-1 3-2 3-2 2 1 3 0 3-2 3-1 2-1 3-1 3 0 2-1 3 2 3 3 3 3 2 1 3-2 3-5 2-5 3-4 3-1 3 1 2 0 3 1 3 2 2 2 3 0 3-2 3-1 2-1 3 0 3 0 2-1 3-3 3-4 2-2 3 0 3 0 3 0 2 1 3 0 3-2 2-3 3-3 3-2 3-1 2-1 3-2 3-2 2-1 3-1 3 0 3-1 2-1 3-1 3 0 2 0 3 0 3-1 3-1 2-1 3-2 3 0 2 2 3 3 3 2 3 0 2-1 3-2 3-4 2-4 3-5 3-3 2-2 3 1 3 2 3 1 2 0 3-3 3-2 2 1 3 1 3 1 3 2 2 3 3 2 3-1 2-2 3-2 3 0 3 2 2 1 3 0 3 0 2-1 3-1 3 1 3 4 2 3 3 1 3-1 2-1 3 2 3 2 2 3 3 4 3 6 3 5 2 5 3 4 3 6 2 6 3 5 3 3 3 2 2 2 3 4 3 3 2 1 3-2 3-3 3-3 2-1 3-1 3 0 2-1 3-2 3 0 3 1 2 1 3 1 3 0 2 0 3-1 3-3 2-4 3-5 3-4 3-3 2-3 3 1 3 3 2 3 3 1 3 1 3 1 2 0 3 0 3-2 2-2 3-1 3 3 3 4 2 1 3-3 3-3 2-4 3-2 3-2 3-3 2-5 3-3 3 0 2 3 3 3 3 2 2 0 3-2 3-2 3-1 2 0 3 0 3 0 2 0 3 0 3 0 3-1 2 1 3-1 3-1 2 0 3 3 3 5 3 0 2-4 3-7 3-4 2 0 3 1 3 2 3-1 2-1 3-1 3-1 2-2 3-2 3-1 3 0 2 0 3 0 3 0 2 2 3 3 3 2 2-1 3-2 3-2 3-4 2-5 3-3 3-2 2 0 3 1 3 2 3 1 2 2 3 3 3 4 2 3 3 3 3 1 3 0 2-1 3-2 3-1 2-2 3-2 3 0 3-1 2-2 3-2 3-1 2-2 3-1 3 3 2 5 3 8 3 9 3 7 2 4 3-1 3-4 2-2 3 1 3 3 3 2 2 2 3 0 3-3 2-4 3-5 3-3 3-2 2 1 3 3 3 3 2 1 3 0 3-1 3 0 2-1 3-1 3-2 2-3 3-2 3-3 3-3 2-3 3 0 3 2 2 3 3 3 3 2 2 0 3-1 3-2 3-2 2-3 3-4 3-1 2 3 3 3 3 0 3-3 2-1 3-1 3 0 2 0 3-1 3-1 3-1 2-3 3-2 3 0 2 2 3 1 3 2 3 0 2-4 3-5 3-4 2-2 3 2 3 2 2 0 3 0 3 1 3 2 2 1 3 0 3 0 2-1 3-1 3 2 3 4 2 4 3 2 0 244 -3-2 -2-3 -3-5 -3-4 -3-3 -2-3 -3-1 -3 2 -2 2 -3 4 -3 4 -3 5 -2 3 -3 1 -3 0 -2 0 -3 0 -3-2 -2-3 -3-6 -3-3 -3-1 -2 1 -3 3 -3 4 -2 4 -3 1 -3-2 -3-1 -2-2 -3-1 -3 0 -2 0 -3 1 -3 1 -3-1 -2-1 -3 1 -3 3 -2 2 -3 2 -3 1 -3 3 -2 1 -3 0 -3-1 -2 0 -3 0 -3 2 -2 3 -3 2 -3 0 -3 1 -2-1 -3-2 -3-3 -2-3 -3-2 -3-1 -3 1 -2 1 -3 1 -3 1 -2 1 -3 2 -3 1 -3 0 -2 0 -3 0 -3 0 -2 0 -3-2 -3-3 -3-2 -2 1 -3 4 -3 2 -2 0 -3-3 -3-2 -3-4 -2-5 -3-5 -3-2 -2 1 -3 3 -3 3 -2 3 -3 0 -3-2 -3 0 -2 0 -3 1 -3 3 -2 2 -3 0 -3-3 -3-6 -2-5 -3-4 -3-2 -2-2 -3-1 -3 0 -3 1 -2 3 -3 3 -3 4 -2 5 -3 3 -3 0 -3-1 -2-1 -3-4 -3-4 -2-3 -3 0 -3 1 -2 1 -3 2 -3 2 -3 2 -2-1 -3-2 -3-1 -2 1 -3 3 -3 3 -3 3 -2 2 -3 2 -3 4 -2 2 -3-1 -3-4 -3-4 -2-2 -3-2 -3-1 -2-2 -3 0 -3 2 -3 1 -2 0 -3 1 -3 1 -2 1 -3 1 -3 2 -3 2 -2 0 -3-2 -3-2 -2 0 -3 0 -3 2 -2 2 -3 0 -3 1 -3 2 -2 2 -3 3 -3 1 -2-3 -3-5 -3-4 -3-1 -2 2 -3 3 -3 3 -2 2 -3 0 -3 0 -3-1 -2-1 -3 0 -3 1 -2 1 -3 1 -3 0 -3 2 -2 4 -3 3 -3 2 -2 0 -3 0 -3 1 -2 0 -3 0 -3 1 -3 0 -2 1 -3 2 -3 0 -2-1 -3-3 -3-3 -3-3 -2-3 -3-1 -3 1 -2 1 -3-1 -3-4 -3-7 -2-7 -3-5 -3-3 -2-2 -3-2 -3-3 -3-2 -2-3 -3-6 -3-6 -2-4 -3-4 -3-3 -2-4 -3-2 -3 1 -3 4 -2 3 -3 1 -3-2 -2-4 -3-4 -3-3 -3 2 -2 4 -3 3 -3 3 -2 1 -3 2 -3 1 -3 0 -2-1 -3 0 -3 1 -2 1 -3 1 -3-1 -3 0 -2-1 -3 0 -3 0 -2 2 -3 2 -3 3 -2 3 -3 1 -3 1 -3 0 -2-1 -3 0 -3-1 -2-2 -3-2 -3-2 -3-1 -2 0 -3 1 -3 4 -2 5 -3 2 -3 0 -3 0 -2 0 -3 2 -3 3 -2 3 -3 2 -3 1 -3 1 -2 0 -3-1 -3 0 -2 1 -3 2 -3 3 -3 3 -2 4 -3 4 -3 2 -2 1 -3 0 -3 2 -2 4 -3 6 -3 5 -3 1 -2-2 -3-4 -3-3 -2-2 -3-3 -3-2 -3 0 -2 2 -3 3 -3 3 -2 1 -3 0 -3 1 -3 0 -2 0 -3-2 -3-4 -2-2 -3 1 -3 1 -3-1 -2-1 -3-1 -3 0 -2 1 -3 1 -3 0 -2 1 -3 3 -3 5 -3 2 -2-2 -3-4 -3-2 -2-1 -3 1 -3 1 -3 2 -2 1 -3 1 -3-1 -2 1 -3 3 -3 5 -3 6 -2 3 -3 2 -3-2 -2-3 -3-3 -3-1 -3 1 -2 2 -3 2 -3 1 -2 0 -3-1 -3-1 -3-2 -2-3 -3-4 -3-4 -2-2 -3 0 -3 2 -2 2 -3 1 -3-2 -3-2 -2-3 -3-2 -3-2 -2-2 -3 0 -3 2 -3 2 -2 4 -3 3 -3 2 -2-1 -3-1 -3-3 -3-2 -2-2 -3-2 -3 0 -2 0 -3 1 -3 0 -3 0 -2-1 -3 0 -3 2 -2 3 -3 2 -3 1 -2 0 -3-2 -3-2 -3-1 -2 0 -3 0 -3 2 -2 2 -3 2 -3 3 -3 3 -2 0 -3-2 -3-3 -2-1 -3 1 -3 2 -3 1 -2-1 -3-4 -3-2 -2-2 -3 1 -3 1 -3 3 -2 1 -3 2 -3 0 -2 1 -3 1 -3 4 -2 3 -3 2 -3-2 -3-3 -2 0 -3 3 -3 3 -2 2 -3 0 -3-1 -3 0 -2 1 -3 3 -3 2 -2 2 -3 3 -3 4 -3 7 -2 5 -3-1 -3-6 -2-4 -3 0 -3 2 -3 2 -2 1 -3 2 -3 3 -2 5 -3 5 -3 4 -2 2 -3 0 -3 0 -3-1 -2-1 -3-1 -3 0 -2-1 -3-2 -3-3 -3-2 -2 1 -3 2 -3 3 -2 4 -3 4 -3 1 -3 0 -2-2 -3-1 -3-1 -2 0 -3 0 -3 1 -3 1 -2 1 -3 1 -3 1 -2 1 -3 2 -3 2 -3 0 -2-2 -3-3 -3-2 -2-1 -3 1 -3 2 -2 4 -3 4 -3 3 -3 2 -2 0 -3 0 -3 0 -2 0 -3 2 -3 1 -3 1 -2 0 -3 1 -3 2 -2 2 -3-1 -3-3 -3-2 -2-1 -3 3 -3 5 -2 8 -3 7 -3 7 -3 4 -2 1 -3-1 -3-3 -2-1 -3-1 -3-2 -2-3 -3-2 -3 2 -3 3 -2 3 -3 1 -3-1 -2 0 -3 1 -3 1 -3 3 -2 0 -3-2 -3-3 -2-2 -3 0 -3 2 -3 1 -2 2 -3 3 -3 4 -2 5 -3 4 -3 2 -3 0 -2 2 -3 3 -3 6 -2 4 -3 2 -3-1 -3-1 -2-1 -3 0 -3 2 -2 2 -3 3 -3 3 -2 3 -3 3 -3 0 -3 0 -2 0 -3 0 -3 2 -2 5 -3 5 -3 5 -3 3 -2 1 -3-1 -3-3 -2-3 -3-2 -3-2 -3-2 -2 1 -3 2 -3 2 -2 1 -3 1 -3 1 -3 2 -2 1 -3 1 -3-1 -2-1 -3 1 -3 5 -2 6 -3 4 -3 1 -3-1 -2-2 -3-1 -3 1 -2 4 -3 5 -3 3 -3 1 -2 2 -3 1 -3 0 -2-2 -3 0 -3 2 -3 2 -2 2 -3 2 -3 3 -2 3 -3 3 -3 2 -3-2 -2-2 -3-1 -3 2 -2 4 -3 5 -3 5 -2 3 -3 1 -3 0 -3-3 -2-2 -3-1 -3 0 -2 1 -3 4 -3 4 -3 3 -2 1 -3 1 -3 0 -2 0 -3 2 -3 3 -3 2 -2 0 -3-2 -3-1 -2 1 -3 3 -3 2 -3 1 -2 1 -3 0 -3 0 -2 2 -3 2 -3 1 -2-1 -3 0 -3-1 -3 0 -2 1 -3 3 -3 4 -2 6 -3 3 -3 0 -3-3 -2-1 -3 1 -3 3 -2 2 -3 1 -3 0 -3 1 -2 2 -3 0 -3-1 -2 2 -3 4 -3 5 -3 6 -2 3 -3 2 -3 1 -2-1 -3-3 -3-4 -3-3 -2-2 -3 1 -3 4 -2 5 -3 6 -3 4 -2 0 -3-2 -3-2 -3 2 -2 4 -3 5 -3 3 -2 2 -3 0 -3 0 -3 1 -2 0 -3 1 -3 1 -2 0 -3-1 -3-1 -3 0 -2 2 -3 1 -3 2 -2 1 -3 2 -3-1 -3-1 -2-1 -3 1 -3 4 -2 5 -3 4 -3 4 -2 3 -3 1 -3 0 -3 0 -2 0 -3 2 -3 3 -2 2 -3 2 -3 2 -3 2 -2 1 -3 1 -3 0 -2 2 -3 3 -3 4 -3 5 -2 6 -3 5 -3 3 -2 1 -3-2 -3-3 -3-2 -2-3 -3-2 -3-1 -2-1 -3 0 -3 2 -3 2 -2 4 -3 3 -3 6 -2 8 -3 7 -3 2 -2 0 -3 0 -3 3 -3 5 -2 3 -3 2 -3 1 -2 3 -3 6 -3 4 -3 3 -2 1 -3 1 -3 0 -2 0 -3 1 -3 3 -3 3 -2 3 -3 1 -3 3 -2 4 -3 5 -3 4 -3 1 -2 0 -3 0 -3 2 -2 5 -3 5 -3 5 -2 4 -3 3 -3 3 -3 2 -2 5 -3 5 -3 6 -2 6 -3 4 -3 1 -3 0 -2-1 -3 0 -3 3 -2 5 -3 4 -3 4 -3 4 -2 1 -3 1 -3 2 -2 2 -3 3 -3 3 -3 3 -2 2 -3 3 -3 2 -2 2 -3 1 -3-1 -2-1 -3 2 -3 6 -3 9 -2 8 -3 6 -3 3 -2 2 -3 2 -3 2 -3 3 -2 4 -3 5 -3 4 -2 5 -3 4 -3 4 -3 4 -2 6 -3 6 -3 5 -2 5 -3 5 -3 4 -3 3 -2 3 -3 4 -3 4 -2 2 -3-1 -3 0 -2 3 -3 5 -3 8 -3 9 -2 7 -3 6 -3 4 -2 1 -3 2 -3 4 -3 5 -2 5 -3 5 -3 5 -2 5 -3 4 -3 5 -3 5 -2 2 -3-2 -3-4 -2-3 -3 1 -3 4 -3 5 -2 3 -3 2 -3 4 -2 7 -3 7 -3 6 -3 2 -2 0 -3 2 -3 3 -2 3 -3 3 -3 4 -2 1 -3-1 -3-2 -3 2 -2 5 -3 7 -3 6 -2 3 -3 0 -3 0 -3 1 -2 2 -3 1 -3 2 -2 3 -3 6 -3 8 -3 7 -2 4 -3 2 -3 3 -2 3 -3 3 -3 1 -3 1 -2 3 -3 3 -3 2 -2 0 -3 0 -3 2 -2 3 -3 6 -3 6 -3 6 -2 3 -3 3 -3 3 -2 3 -3 1 -3 2 -3 3 -2 5 -3 6 -3 3 -2 2 -3 2 -3 5 -3 4 -2 3 -3 3 -3 4 -2 4 -3 4 -3 6 -3 6 -2 5 -3 3 -3 2 -2 3 -3 4 -3 4 -3 3 -2 2 -3 2 -3 4 -2 5 -3 8 -3 8 -2 6 -3 5 -3 4 -3 7 -2 8 -3 6 -3 6 -2 4 -3 4 -3 3 -3 4 -2 8 -3 8 -3 7 -2 6 -3 5 -3 4 -3 5 -2 7 -3 8 -3 8 -2 6 -3 6 -3 8 -3 8 -2 7 -3 6 -3 7 -2 6 -3 6 -3 4 -2 3 -3 3 -3 4 -3 7 -2 15 -3 49 -3 75 -2 108 -3 87 -3 56 -3 49 -2 39 -3 23z" fill="#1f77b4" fill-opacity="0.25"/>
</g>
<polyline points="373.5 264 373.8 261.5 374 257.5 374.3 252.4 374.6 246.6 374.9 237.8 375.1 227 375.4 219.4 375.7 214.5 375.9 213 376.2 212.3 376.5 211.9 376.8 211.6 377 211.4 377.3 211 377.6 210.4 377.8 209.7 378.1 209 378.4 208.3 378.6 207.5 378.9 206.7 379.2 205.9 379.5 205.2 379.7 204.5 380 203.8 380.3 202.9 380.5 202.1 380.8 201.6 381.1 201.1 381.4 200.5 381.6 199.9 381.9 199.2 382.2 198.4 382.4 197.8 382.7 197.3 383 196.9 383.3 196.5 383.5 196 383.8 195.4 384.1 194.7 384.3 194 384.6 193.3 384.9 192.8 385.2 192.3 385.4 191.6 385.7 190.9 386 190.1 386.2 189.6 386.5 189.1 386.8 188.8 387.1 188.5 387.3 188.1 387.6 187.6 387.9 187.2 388.1 186.9 388.4 186.6 388.7 186.3 388.9 185.9 389.2 185.4 389.5 184.9 389.8 184.5 390 184.1 390.3 183.8 390.6 183.4 390.8 183 391.1 182.5 391.4 182 391.7 181.6 391.9 181.4 392.2 181 392.5 180.5 392.7 180 393 179.6 393.3 179.3 393.6 179.1 393.8 178.7 394.1 178.3 394.4 178 394.6 177.8 394.9 177.4 395.2 176.8 395.5 176.3 395.7 175.9 396 175.7 396.3 175.7 396.5 175.7 396.8 175.5 397.1 175.2 397.3 174.9 397.6 174.6 397.9 174.3 398.2 173.9 398.4 173.6 398.7 173.3 399 173.2 399.2 172.9 399.5 172.3 399.8 171.6 400.1 171.2 400.3 171 400.6 170.8 400.9 170.5 401.1 170.2 401.4 169.9 401.7 169.7 402 169.3 402.2 168.9 402.5 168.3 402.8 167.7 403 167.1 403.3 166.9 403.6 167.1 403.9 167.2 404.1 167.2 404.4 166.9 404.7 166.6 404.9 166.1 405.2 165.7 405.5 165.4 405.7 165.3 406 165.1 406.3 164.7 406.6 164.1 406.8 163.4 407.1 163 407.4 162.7 407.6 162.4 407.9 162 408.2 161.6 408.5 161.4 408.7 161.4 409 161.3 409.3 161.1 409.5 160.7 409.8 160.2 410.1 159.8 410.4 159.6 410.6 159.4 410.9 159.1 411.2 158.8 411.4 158.2 411.7 157.5 412 156.9 412.3 156.7 412.5 156.6 412.8 156.3 413.1 155.7 413.3 154.9 413.6 154.2 413.9 153.6 414.1 153.2 414.4 152.9 414.7 152.6 415 152.3 415.2 151.9 415.5 151.5 415.8 151.1 416 150.7 416.3 150.2 416.6 149.7 416.9 149.1 417.1 148.6 417.4 148.1 417.7 147.6 417.9 147.2 418.2 146.9 418.5 146.8 418.8 146.5 419 146 419.3 145.4 419.6 144.8 419.8 144.3 420.1 143.9 420.4 143.6 420.7 143.4 420.9 143.2 421.2 142.9 421.5 142.5 421.7 141.9 422 141.3 422.3 140.8 422.6 140.6 422.8 140.6 423.1 140.5 423.4 140.2 423.6 139.9 423.9 139.6 424.2 139.2 424.4 138.7 424.7 138.3 425 138.1 425.3 137.9 425.5 137.9 425.8 137.8 426.1 137.5 426.3 137 426.6 136.4 426.9 135.7 427.2 135.2 427.4 134.7 427.7 134.4 428 134.3 428.2 134.2 428.5 134.1 428.8 134 429.1 133.6 429.3 133.2 429.6 132.6 429.9 132.1 430.1 131.7 430.4 131.5 430.7 131.3 431 131.1 431.2 130.7 431.5 130.4 431.8 130 432 129.8 432.3 129.6 432.6 129.4 432.8 129.2 433.1 129 433.4 128.5 433.7 127.9 433.9 127.4 434.2 127 434.5 126.9 434.7 126.7 435 126.4 435.3 126.1 435.6 125.9 435.8 125.7 436.1 125.5 436.4 125.2 436.6 124.8 436.9 124.4 437.2 124.1 437.5 123.7 437.7 123.5 438 123.4 438.3 123.2 438.5 122.8 438.8 122.4 439.1 122 439.4 121.9 439.6 121.9 439.9 121.6 440.2 121.1 440.4 120.7 440.7 120.5 441 120.3 441.2 120.1 441.5 119.8 441.8 119.5 442.1 119.4 442.3 119.3 442.6 119.2 442.9 119.1 443.1 118.9 443.4 118.6 443.7 118.5 444 118.5 444.2 118.5 444.5 118.2 444.8 117.7 445 117.2 445.3 116.9 445.6 116.7 445.9 116.6 446.1 116.5 446.4 116.4 446.7 116.2 446.9 116.1 447.2 115.8 447.5 115.7 447.8 115.5 448 115.4 448.3 115.1 448.6 115 448.8 114.9 449.1 114.9 449.4 114.9 449.7 114.8 449.9 114.7 450.2 114.4 450.5 114.1 450.7 113.8 451 113.6 451.3 113.6 451.5 113.7 451.8 113.7 452.1 113.6 452.4 113.3 452.6 112.9 452.9 112.5 453.2 112.3 453.4 112.2 453.7 112.3 454 112.5 454.3 112.6 454.5 112.6 454.8 112.4 455.1 112.3 455.3 112.1 455.6 111.9 455.9 111.8 456.2 111.7 456.4 111.3 456.7 110.9 457 110.5 457.2 110.2 457.5 110.1 457.8 110.3 458.1 110.4 458.3 110.4 458.6 110 458.9 109.7 459.1 109.4 459.4 109.3 459.7 109.3 459.9 109.4 460.2 109.4 460.5 109.5 460.8 109.6 461 109.6 461.3 109.4 461.6 109.1 461.8 108.7 462.1 108.1 462.4 107.6 462.7 107.3 462.9 107.2 463.2 107.4 463.5 107.4 463.7 107.4 464 107.4 464.3 107.5 464.6 107.7 464.8 107.7 465.1 107.4 465.4 107 465.6 106.8 465.9 106.7 466.2 106.7 466.5 106.5 466.7 106.3 467 106.1 467.3 105.9 467.5 105.8 467.8 105.8 468.1 105.7 468.4 105.6 468.6 105.5 468.9 105.2 469.2 104.9 469.4 104.8 469.7 105 470 105.1 470.2 105 470.5 104.9 470.8 104.7 471.1 104.5 471.3 104.5 471.6 104.7 471.9 104.9 472.1 104.9 472.4 104.6 472.7 104.3 473 104.2 473.2 104.2 473.5 104 473.8 103.8 474 103.6 474.3 103.4 474.6 103.1 474.9 102.9 475.1 102.7 475.4 102.5 475.7 102.3 475.9 102.3 476.2 102.4 476.5 102.3 476.8 102.2 477 101.9 477.3 101.6 477.6 101.3 477.8 101.1 478.1 101 478.4 101.1 478.6 101.3 478.9 101.3 479.2 101.1 479.5 100.7 479.7 100.5 480 100.5 480.3 100.5 480.5 100.4 480.8 100.2 481.1 100 481.4 99.9 481.6 99.9 481.9 99.8 482.2 99.5 482.4 99.1 482.7 98.9 483 98.6 483.3 98.3 483.5 98 483.8 97.8 484.1 97.8 484.3 97.7 484.6 97.7 484.9 97.7 485.2 97.6 485.4 97.4 485.7 97.2 486 97.2 486.2 97.3 486.5 97.2 486.8 97 487 96.8 487.3 96.6 487.6 96.5 487.9 96.5 488.1 96.4 488.4 96.2 488.7 95.9 488.9 95.7 489.2 95.7 489.5 95.7 489.8 95.7 490 95.7 490.3 95.8 490.6 95.9 490.8 95.8 491.1 95.6 491.4 95.4 491.7 95.1 491.9 94.9 492.2 94.8 492.5 94.8 492.7 94.8 493 94.8 493.3 94.7 493.6 94.5 493.8 94.2 494.1 94 494.4 93.8 494.6 93.6 494.9 93.3 495.2 93 495.4 92.8 495.7 92.7 496 92.7 496.3 92.5 496.5 92.2 496.8 91.7 497.1 91.4 497.3 91.2 497.6 91.2 497.9 91 498.2 90.8 498.4 90.6 498.7 90.3 499 90.1 499.2 90 499.5 89.7 499.8 89.3 500.1 88.8 500.3 88.7 500.6 89 500.9 89.3 501.1 89.5 501.4 89.4 501.7 89.3 502 89.1 502.2 89.1 502.5 89 502.8 88.9 503 88.8 503.3 88.6 503.6 88.4 503.9 88.4 504.1 88.5 504.4 88.5 504.7 88.4 504.9 88.3 505.2 88.3 505.5 88.2 505.7 88 506 87.7 506.3 87.3 506.6 87 506.8 86.7 507.1 86.6 507.4 86.6 507.6 86.6 507.9 86.7 508.2 86.8 508.5 86.9 508.7 86.7 509 86.5 509.3 86.3 509.5 86.2 509.8 86 510.1 85.9 510.4 85.8 510.6 85.8 510.9 85.8 511.2 85.8 511.4 85.7 511.7 85.6 512 85.3 512.3 85 512.5 84.9 512.8 84.9 513.1 85 513.3 85 513.6 85.1 513.9 85.1 514.1 85 514.4 84.8 514.7 84.7 515 84.6 515.2 84.6 515.5 84.4 515.8 84.1 516 83.9 516.3 83.8 516.6 83.9 516.9 84 517.1 84.1 517.4 84.1 517.7 84 517.9 83.9 518.2 83.7 518.5 83.5 518.8 83.2 519 83 519.3 83 519.6 83 519.8 83 520.1 83 520.4 82.9 520.7 82.7 520.9 82.6 521.2 82.5 521.5 82.5 521.7 82.5 522 82.5 522.3 82.5 522.5 82.5 522.8 82.6 523.1 82.5 523.4 82.3 523.6 81.9 523.9 81.6 524.2 81.4 524.4 81.4 524.7 81.3 525 81.1 525.3 81 525.5 81.3 525.8 81.7 526.1 81.8 526.3 81.4 526.6 80.9 526.9 80.4 527.2 80.2 527.4 80 527.7 79.9 528 79.6 528.2 79.3 528.5 79.2 528.8 79.1 529.1 79.1 529.3 78.9 529.6 78.6 529.9 78.3 530.1 78.3 530.4 78.7 530.7 78.9 531 78.8 531.2 78.3 531.5 78 531.8 78 532 78.1 532.3 78.1 532.6 78 532.8 77.8 533.1 77.7 533.4 77.5 533.7 77.3 533.9 77.2 534.2 77.2 534.5 77.3 534.7 77.4 535 77.4 535.3 77.2 535.6 77.1 535.8 77.1 536.1 77.3 536.4 77.5 536.6 77.5 536.9 77.4 537.2 77.2 537.5 77 537.7 77 538 77 538.3 77.2 538.5 77.3 538.8 77.2 539.1 77.1 539.4 76.9 539.6 76.6 539.9 76.3 540.2 76.2 540.4 76.1 540.7 76.1 541 76.3 541.2 76.6 541.5 76.9 541.8 77.1 542.1 77.3 542.3 77.3 542.6 77.2 542.9 77 543.1 76.8 543.4 76.7 543.7 76.7 544 76.8 544.2 76.7 544.5 76.6 544.8 76.5 545 76.4 545.3 76.5 545.6 76.6 545.9 76.7 546.1 76.8 546.4 76.8 546.7 77 546.9 77.1 547.2 77.3 547.5 77.5 547.8 77.4 548 77.3 548.3 77.3 548.6 77.5 548.8 77.8 549.1 78.2 549.4 78.5 549.6 78.8 549.9 79 550.2 79 550.5 79.1 550.7 79 551 78.8 551.3 78.5 551.5 78.1 551.8 77.9 552.1 78 552.4 78.2 552.6 78.4 552.9 78.6 553.2 78.5 553.4 78.2 553.7 77.6 554 77 554.3 76.5 554.5 76.4 554.8 76.5 555.1 76.5 555.3 76.5 555.6 76.3 555.9 76 556.2 75.7 556.4 75.4 556.7 75.4 557 75.6 557.2 75.8 557.5 76 557.8 76 558.1 76.1 558.3 76.4 558.6 76.7 558.9 76.9 559.1 76.8 559.4 76.7 559.7 76.8 559.9 76.9 560.2 76.9 560.5 76.7 560.8 76.5 561 76.5 561.3 76.5 561.6 76.6 561.8 76.5 562.1 76.5 562.4 76.7 562.7 76.9 562.9 77 563.2 76.9 563.5 76.6 563.7 76.3 564 76.2 564.3 76.4 564.6 76.6 564.8 76.6 565.1 76.5 565.4 76.5 565.6 76.6 565.9 76.5 566.2 76.2 566.5 76 566.7 76 567 76 567.3 76 567.5 75.8 567.8 75.4 568.1 75 568.3 74.8 568.6 74.7 568.9 74.6 569.2 74.4 569.4 74.2 569.7 74 570 73.8 570.2 73.7 570.5 73.6 570.8 73.6 571.1 73.4 571.3 73.2 571.6 72.9 571.9 72.7 572.1 72.6 572.4 72.6 572.7 72.7 573 72.7 573.2 72.5 573.5 72.3 573.8 72.2 574 72.2 574.3 72.2 574.6 72.2 574.9 72.1 575.1 72 575.4 71.9 575.7 71.8 575.9 72 576.2 72.2 576.5 72.3 576.8 72.3 577 72.2 577.3 72 577.6 71.6 577.8 71.3 578.1 71 578.4 70.9 578.6 71 578.9 71.2 579.2 71.5 579.5 71.6 579.7 71.5 580 71.1 580.3 70.8 580.5 70.6 580.8 70.6 581.1 70.7 581.4 70.9 581.6 71.1 581.9 71.2 582.2 71 582.4 70.6 582.7 70.4 583 70.5 583.3 70.7 583.5 70.9 583.8 70.9 584.1 70.8 584.3 70.7 584.6 70.5 584.9 70.7 585.2 71 585.4 71.4 585.7 71.5 586 71.5 586.2 71.6 586.5 71.9 586.8 72.2 587 72.4 587.3 72.7 587.6 73 587.9 73.4 588.1 73.8 588.4 74.3 588.7 75 588.9 75.8 589.2 76.4 589.5 76.7 589.8 76.8 590 76.8 590.3 76.8 590.6 77.1 590.8 77.3 591.1 77.4 591.4 77.4 591.7 77.3 591.9 77.2 592.2 77 592.5 77 592.7 76.9 593 77 593.3 77.1 593.6 77.3 593.8 77.3 594.1 77.2 594.4 77 594.6 76.9 594.9 76.7 595.2 76.4 595.4 75.9 595.7 75.6 596 75.4 596.3 75.3 596.5 75.3 596.8 75.4 597.1 75.6 597.3 75.8 597.6 75.9 597.9 76 598.2 76.2 598.4 76.3 598.7 76.3 599 76 599.2 75.7 599.5 75.5 599.8 75.6 600.1 75.9 600.3 76.1 600.6 76.1 600.9 76 601.1 75.8 601.4 75.5 601.7 75.4 602 75.1 602.2 74.7 602.5 74.4 602.8 74.3 603 74.5 603.3 74.7 603.6 74.9 603.9 75 604.1 75 604.4 75.1 604.7 75.2 604.9 75.2 605.2 75.1 605.5 75 605.7 75 606 75 606.3 74.9 606.6 74.8 606.8 74.7 607.1 74.6 607.4 74.4 607.6 74.4 607.9 74.6 608.2 74.8 608.5 74.9 608.7 74.6 609 74.2 609.3 74 609.5 74.1 609.8 74.2 610.1 74.2 610.4 74.1 610.6 73.9 610.9 73.9 611.2 74 611.4 73.9 611.7 73.8 612 73.7 612.3 73.7 612.5 73.6 612.8 73.4 613.1 73.3 613.3 73.4 613.6 73.5 613.9 73.6 614.1 73.5 614.4 73.5 614.7 73.4 615 73.3 615.2 73 615.5 72.8 615.8 72.7 616 72.7 616.3 72.6 616.6 72.6 616.9 72.6 617.1 72.7 617.4 72.8 617.7 73 617.9 73.3 618.2 73.6 618.5 73.9 618.8 74 619 74 619.3 73.9 619.6 73.8 619.8 73.7 620.1 73.7 620.4 73.8 620.7 73.9 620.9 74 621.2 73.9 621.5 73.8 621.7 73.6 622 73.5 622.3 73.7 622.5 74.1 622.8 74.5 623.1 74.9 623.4 75.3 623.6 75.6 623.9 75.4 624.2 75 624.4 74.8 624.7 74.9 625 75.1 625.3 75.3 625.5 75.3 625.8 75.3 626.1 75.3 626.3 75.2 626.6 75 626.9 74.9 627.2 74.7 627.4 74.5 627.7 74.5 628 74.5 628.2 74.4 628.5 74.4 628.8 74.5 629.1 74.7 629.3 74.7 629.6 74.6 629.9 74.5 630.1 74.5 630.4 74.5 630.7 74.6 631 74.5 631.2 74.4 631.5 74.3 631.8 74.4 632 74.5 632.3 74.6 632.6 74.6 632.8 74.4 633.1 74.2 633.4 74 633.7 73.9 633.9 73.7 634.2 73.4 634.5 73.3 634.7 73.4 635 73.4 635.3 73.4 635.6 73.2 635.8 73.2 636.1 73.2 636.4 73.2 636.6 73.2 636.9 73.2 637.2 73.3 637.5 73.4 637.7 73.4 638 73.3 638.3 73.2 638.5 73.1 638.8 73 639.1 73 639.4 73.1 639.6 73 639.9 72.8 640.2 72.6 640.4 72.7 640.7 72.9 641 73.1 641.2 73.1 641.5 73 641.8 72.9 642.1 72.7 642.3 72.5 642.6 72.3 642.9 72.2 643.1 72.2 643.4 72.2 643.7 72.4 644 72.8 644.2 73.2 644.5 73.5" fill="none" stroke="#1f77b4" stroke-width="2.2" stroke-linejoin="round"/>
<line x1="373.50" y1="72.17" x2="644.50" y2="72.17" stroke="#000" stroke-width="1.5" stroke-dasharray="4 2" stroke-opacity="0.7"/>
<use href="#st" x="373.5" y="264.0"/>
<use href="#st" x="373.8" y="261.5"/>
<use href="#st" x="374.0" y="257.5"/>
<use href="#st" x="374.3" y="252.4"/>
<use href="#st" x="374.6" y="246.6"/>
<use href="#st" x="374.9" y="237.8"/>
<use href="#st" x="375.1" y="227.0"/>
<use href="#st" x="375.4" y="219.4"/>
<use href="#st" x="375.7" y="214.5"/>
<use href="#st" x="375.9" y="213.0"/>
<use href="#st" x="376.2" y="212.3"/>
<use href="#st" x="376.5" y="211.9"/>
<use href="#st" x="376.8" y="211.6"/>
<use href="#st" x="377.0" y="211.4"/>
<use href="#st" x="377.3" y="211.0"/>
<use href="#st" x="377.6" y="210.4"/>
<use href="#st" x="377.8" y="209.7"/>
<use href="#st" x="378.1" y="209.0"/>
<use href="#st" x="378.4" y="208.3"/>
<use href="#st" x="378.6" y="207.5"/>
<use href="#st" x="378.9" y="206.7"/>
<use href="#st" x="379.2" y="205.9"/>
<use href="#st" x="379.5" y="205.2"/>
<use href="#st" x="379.7" y="204.5"/>
<use href="#st" x="380.0" y="203.8"/>
<use href="#st" x="380.3" y="202.9"/>
<use href="#st" x="380.5" y="202.1"/>
<use href="#st" x="380.8" y="201.6"/>
<use href="#st" x="381.1" y="201.1"/>
<use href="#st" x="381.4" y="200.5"/>
<use href="#st" x="381.6" y="199.9"/>
<use href="#st" x="381.9" y="199.2"/>
<use href="#st" x="382.2" y="198.4"/>
<use href="#st" x="382.4" y="197.8"/>
<use href="#st" x="382.7" y="197.3"/>
<use href="#st" x="383.0" y="196.9"/>
<use href="#st" x="383.3" y="196.5"/>
<use href="#st" x="383.5" y="196.0"/>
<use href="#st" x="383.8" y="195.4"/>
<use href="#st" x="384.1" y="194.7"/>
<use href="#st" x="384.3" y="194.0"/>
<use href="#st" x="384.6" y="193.3"/>
<use href="#st" x="384.9" y="192.8"/>
<use href="#st" x="385.2" y="192.3"/>
<use href="#st" x="385.4" y="191.6"/>
<use href="#st" x="385.7" y="190.9"/>
<use href="#st" x="386.0" y="190.1"/>
<use href="#st" x="386.2" y="189.6"/>
<use href="#st" x="386.5" y="189.1"/>
<use href="#st" x="386.8" y="188.8"/>
<use href="#st" x="387.1" y="188.5"/>
<use href="#st" x="387.3" y="188.1"/>
<use href="#st" x="387.6" y="187.6"/>
<use href="#st" x="387.9" y="187.2"/>
<use href="#st" x="388.1" y="186.9"/>
<use href="#st" x="388.4" y="186.6"/>
<use href="#st" x="388.7" y="186.3"/>
<use href="#st" x="388.9" y="185.9"/>
<use href="#st" x="389.2" y="185.4"/>
<use href="#st" x="389.5" y="184.9"/>
<use href="#st" x="389.8" y="184.5"/>
<use href="#st" x="390.0" y="184.1"/>
<use href="#st" x="390.3" y="183.8"/>
<use href="#st" x="390.6" y="183.4"/>
<use href="#st" x="390.8" y="183.0"/>
<use href="#st" x="391.1" y="182.5"/>
<use href="#st" x="391.4" y="182.0"/>
<use href="#st" x="391.7" y="181.6"/>
<use href="#st" x="391.9" y="181.4"/>
<use href="#st" x="392.2" y="181.0"/>
<use href="#st" x="392.5" y="180.5"/>
<use href="#st" x="392.7" y="180.0"/>
<use href="#st" x="393.0" y="179.6"/>
<use href="#st" x="393.3" y="179.3"/>
<use href="#st" x="393.6" y="179.1"/>
<use href="#st" x="393.8" y="178.7"/>
<use href="#st" x="394.1" y="178.3"/>
<use href="#st" x="394.4" y="178.0"/>
<use href="#st" x="394.6" y="177.8"/>
<use href="#st" x="394.9" y="177.4"/>
<use href="#st" x="395.2" y="176.8"/>
<use href="#st" x="395.5" y="176.3"/>
<use href="#st" x="395.7" y="175.9"/>
<use href="#st" x="396.0" y="175.7"/>
<use href="#st" x="396.3" y="175.7"/>
<use href="#st" x="396.5" y="175.7"/>
<use href="#st" x="396.8" y="175.5"/>
<use href="#st" x="397.1" y="175.2"/>
<use href="#st" x="397.3" y="174.9"/>
<use href="#st" x="397.6" y="174.6"/>
<use href="#st" x="397.9" y="174.3"/>
<use href="#st" x="398.2" y="173.9"/>
<use href="#st" x="398.4" y="173.6"/>
<use href="#st" x="398.7" y="173.3"/>
<use href="#st" x="399.0" y="173.2"/>
<use href="#st" x="399.2" y="172.9"/>
<use href="#st" x="399.5" y="172.3"/>
<use href="#st" x="399.8" y="171.6"/>
<use href="#st" x="400.1" y="171.2"/>
<use href="#st" x="400.3" y="171.0"/>
<use href="#st" x="400.6" y="170.8"/>
<use href="#st" x="400.9" y="170.5"/>
<use href="#st" x="401.1" y="170.2"/>
<use href="#st" x="401.4" y="169.9"/>
<use href="#st" x="401.7" y="169.7"/>
<use href="#st" x="402.0" y="169.3"/>
<use href="#st" x="402.2" y="168.9"/>
<use href="#st" x="402.5" y="168.3"/>
<use href="#st" x="402.8" y="167.7"/>
<use href="#st" x="403.0" y="167.1"/>
<use href="#st" x="403.3" y="166.9"/>
<use href="#st" x="403.6" y="167.1"/>
<use href="#st" x="403.9" y="167.2"/>
<use href="#st" x="404.1" y="167.2"/>
<use href="#st" x="404.4" y="166.9"/>
<use href="#st" x="404.7" y="166.6"/>
<use href="#st" x="404.9" y="166.1"/>
<use href="#st" x="405.2" y="165.7"/>
<use href="#st" x="405.5" y="165.4"/>
<use href="#st" x="405.7" y="165.3"/>
<use href="#st" x="406.0" y="165.1"/>
<use href="#st" x="406.3" y="164.7"/>
<use href="#st" x="406.6" y="164.1"/>
<use href="#st" x="406.8" y="163.4"/>
<use href="#st" x="407.1" y="163.0"/>
<use href="#st" x="407.4" y="162.7"/>
<use href="#st" x="407.6" y="162.4"/>
<use href="#st" x="407.9" y="162.0"/>
<use href="#st" x="408.2" y="161.6"/>
<use href="#st" x="408.5" y="161.4"/>
<use href="#st" x="408.7" y="161.4"/>
<use href="#st" x="409.0" y="161.3"/>
<use href="#st" x="409.3" y="161.1"/>
<use href="#st" x="409.5" y="160.7"/>
<use href="#st" x="409.8" y="160.2"/>
<use href="#st" x="410.1" y="159.8"/>
<use href="#st" x="410.4" y="159.6"/>
<use href="#st" x="410.6" y="159.4"/>
<use href="#st" x="410.9" y="159.1"/>
<use href="#st" x="411.2" y="158.8"/>
<use href="#st" x="411.4" y="158.2"/>
<use href="#st" x="411.7" y="157.5"/>
<use href="#st" x="412.0" y="156.9"/>
<use href="#st" x="412.3" y="156.7"/>
<use href="#st" x="412.5" y="156.6"/>
<use href="#st" x="412.8" y="156.3"/>
<use href="#st" x="413.1" y="155.7"/>
<use href="#st" x="413.3" y="154.9"/>
<use href="#st" x="413.6" y="154.2"/>
<use href="#st" x="413.9" y="153.6"/>
<use href="#st" x="414.1" y="153.2"/>
<use href="#st" x="414.4" y="152.9"/>
<use href="#st" x="414.7" y="152.6"/>
<use href="#st" x="415.0" y="152.3"/>
<use href="#st" x="415.2" y="151.9"/>
<use href="#st" x="415.5" y="151.5"/>
<use href="#st" x="415.8" y="151.1"/>
<use href="#st" x="416.0" y="150.7"/>
<use href="#st" x="416.3" y="150.2"/>
<use href="#st" x="416.6" y="149.7"/>
<use href="#st" x="416.9" y="149.1"/>
<use href="#st" x="417.1" y="148.6"/>
<use href="#st" x="417.4" y="148.1"/>
<use href="#st" x="417.7" y="147.6"/>
<use href="#st" x="417.9" y="147.2"/>
<use href="#st" x="418.2" y="146.9"/>
<use href="#st" x="418.5" y="146.8"/>
<use href="#st" x="418.8" y="146.5"/>
<use href="#st" x="419.0" y="146.0"/>
<use href="#st" x="419.3" y="145.4"/>
<use href="#st" x="419.6" y="144.8"/>
<use href="#st" x="419.8" y="144.3"/>
<use href="#st" x="420.1" y="143.9"/>
<use href="#st" x="420.4" y="143.6"/>
<use href="#st" x="420.7" y="143.4"/>
<use href="#st" x="420.9" y="143.2"/>
<use href="#st" x="421.2" y="142.9"/>
<use href="#st" x="421.5" y="142.5"/>
<use href="#st" x="421.7" y="141.9"/>
<use href="#st" x="422.0" y="141.3"/>
<use href="#st" x="422.3" y="140.8"/>
<use href="#st" x="422.6" y="140.6"/>
<use href="#st" x="422.8" y="140.6"/>
<use href="#st" x="423.1" y="140.5"/>
<use href="#st" x="423.4" y="140.2"/>
<use href="#st" x="423.6" y="139.9"/>
<use href="#st" x="423.9" y="139.6"/>
<use href="#st" x="424.2" y="139.2"/>
<use href="#st" x="424.4" y="138.7"/>
<use href="#st" x="424.7" y="138.3"/>
<use href="#st" x="425.0" y="138.1"/>
<use href="#st" x="425.3" y="137.9"/>
<use href="#st" x="425.5" y="137.9"/>
<use href="#st" x="425.8" y="137.8"/>
<use href="#st" x="426.1" y="137.5"/>
<use href="#st" x="426.3" y="137.0"/>
<use href="#st" x="426.6" y="136.4"/>
<use href="#st" x="426.9" y="135.7"/>
<use href="#st" x="427.2" y="135.2"/>
<use href="#st" x="427.4" y="134.7"/>
<use href="#st" x="427.7" y="134.4"/>
<use href="#st" x="428.0" y="134.3"/>
<use href="#st" x="428.2" y="134.2"/>
<use href="#st" x="428.5" y="134.1"/>
<use href="#st" x="428.8" y="134.0"/>
<use href="#st" x="429.1" y="133.6"/>
<use href="#st" x="429.3" y="133.2"/>
<use href="#st" x="429.6" y="132.6"/>
<use href="#st" x="429.9" y="132.1"/>
<use href="#st" x="430.1" y="131.7"/>
<use href="#st" x="430.4" y="131.5"/>
<use href="#st" x="430.7" y="131.3"/>
<use href="#st" x="431.0" y="131.1"/>
<use href="#st" x="431.2" y="130.7"/>
<use href="#st" x="431.5" y="130.4"/>
<use href="#st" x="431.8" y="130.0"/>
<use href="#st" x="432.0" y="129.8"/>
<use href="#st" x="432.3" y="129.6"/>
<use href="#st" x="432.6" y="129.4"/>
<use href="#st" x="432.8" y="129.2"/>
<use href="#st" x="433.1" y="129.0"/>
<use href="#st" x="433.4" y="128.5"/>
<use href="#st" x="433.7" y="127.9"/>
<use href="#st" x="433.9" y="127.4"/>
<use href="#st" x="434.2" y="127.0"/>
<use href="#st" x="434.5" y="126.9"/>
<use href="#st" x="434.7" y="126.7"/>
<use href="#st" x="435.0" y="126.4"/>
<use href="#st" x="435.3" y="126.1"/>
<use href="#st" x="435.6" y="125.9"/>
<use href="#st" x="435.8" y="125.7"/>
<use href="#st" x="436.1" y="125.5"/>
<use href="#st" x="436.4" y="125.2"/>
<use href="#st" x="436.6" y="124.8"/>
<use href="#st" x="436.9" y="124.4"/>
<use href="#st" x="437.2" y="124.1"/>
<use href="#st" x="437.5" y="123.7"/>
<use href="#st" x="437.7" y="123.5"/>
<use href="#st" x="438.0" y="123.4"/>
<use href="#st" x="438.3" y="123.2"/>
<use href="#st" x="438.5" y="122.8"/>
<use href="#st" x="438.8" y="122.4"/>
<use href="#st" x="439.1" y="122.0"/>
<use href="#st" x="439.4" y="121.9"/>
<use href="#st" x="439.6" y="121.9"/>
<use href="#st" x="439.9" y="121.6"/>
<use href="#st" x="440.2" y="121.1"/>
<use href="#st" x="440.4" y="120.7"/>
<use href="#st" x="440.7" y="120.5"/>
<use href="#st" x="441.0" y="120.3"/>
<use href="#st" x="441.2" y="120.1"/>
<use href="#st" x="441.5" y="119.8"/>
<use href="#st" x="441.8" y="119.5"/>
<use href="#st" x="442.1" y="119.4"/>
<use href="#st" x="442.3" y="119.3"/>
<use href="#st" x="442.6" y="119.2"/>
<use href="#st" x="442.9" y="119.1"/>
<use href="#st" x="443.1" y="118.9"/>
<use href="#st" x="443.4" y="118.6"/>
<use href="#st" x="443.7" y="118.5"/>
<use href="#st" x="444.0" y="118.5"/>
<use href="#st" x="444.2" y="118.5"/>
<use href="#st" x="444.5" y="118.2"/>
<use href="#st" x="444.8" y="117.7"/>
<use href="#st" x="445.0" y="117.2"/>
<use href="#st" x="445.3" y="116.9"/>
<use href="#st" x="445.6" y="116.7"/>
<use href="#st" x="445.9" y="116.6"/>
<use href="#st" x="446.1" y="116.5"/>
<use href="#st" x="446.4" y="116.4"/>
<use href="#st" x="446.7" y="116.2"/>
<use href="#st" x="446.9" y="116.1"/>
<use href="#st" x="447.2" y="115.8"/>
<use href="#st" x="447.5" y="115.7"/>
<use href="#st" x="447.8" y="115.5"/>
<use href="#st" x="448.0" y="115.4"/>
<use href="#st" x="448.3" y="115.1"/>
<use href="#st" x="448.6" y="115.0"/>
<use href="#st" x="448.8" y="114.9"/>
<use href="#st" x="449.1" y="114.9"/>
<use href="#st" x="449.4" y="114.9"/>
<use href="#st" x="449.7" y="114.8"/>
<use href="#st" x="449.9" y="114.7"/>
<use href="#st" x="450.2" y="114.4"/>
<use href="#st" x="450.5" y="114.1"/>
<use href="#st" x="450.7" y="113.8"/>
<use href="#st" x="451.0" y="113.6"/>
<use href="#st" x="451.3" y="113.6"/>
<use href="#st" x="451.5" y="113.7"/>
<use href="#st" x="451.8" y="113.7"/>
<use href="#st" x="452.1" y="113.6"/>
<use href="#st" x="452.4" y="113.3"/>
<use href="#st" x="452.6" y="112.9"/>
<use href="#st" x="452.9" y="112.5"/>
<use href="#st" x="453.2" y="112.3"/>
<use href="#st" x="453.4" y="112.2"/>
<use href="#st" x="453.7" y="112.3"/>
<use href="#st" x="454.0" y="112.5"/>
<use href="#st" x="454.3" y="112.6"/>
<use href="#st" x="454.5" y="112.6"/>
<use href="#st" x="454.8" y="112.4"/>
<use href="#st" x="455.1" y="112.3"/>
<use href="#st" x="455.3" y="112.1"/>
<use href="#st" x="455.6" y="111.9"/>
<use href="#st" x="455.9" y="111.8"/>
<use href="#st" x="456.2" y="111.7"/>
<use href="#st" x="456.4" y="111.3"/>
<use href="#st" x="456.7" y="110.9"/>
<use href="#st" x="457.0" y="110.5"/>
<use href="#st" x="457.2" y="110.2"/>
<use href="#st" x="457.5" y="110.1"/>
<use href="#st" x="457.8" y="110.3"/>
<use href="#st" x="458.1" y="110.4"/>
<use href="#st" x="458.3" y="110.4"/>
<use href="#st" x="458.6" y="110.0"/>
<use href="#st" x="458.9" y="109.7"/>
<use href="#st" x="459.1" y="109.4"/>
<use href="#st" x="459.4" y="109.3"/>
<use href="#st" x="459.7" y="109.3"/>
<use href="#st" x="459.9" y="109.4"/>
<use href="#st" x="460.2" y="109.4"/>
<use href="#st" x="460.5" y="109.5"/>
<use href="#st" x="460.8" y="109.6"/>
<use href="#st" x="461.0" y="109.6"/>
<use href="#st" x="461.3" y="109.4"/>
<use href="#st" x="461.6" y="109.1"/>
<use href="#st" x="461.8" y="108.7"/>
<use href="#st" x="462.1" y="108.1"/>
<use href="#st" x="462.4" y="107.6"/>
<use href="#st" x="462.7" y="107.3"/>
<use href="#st" x="462.9" y="107.2"/>
<use href="#st" x="463.2" y="107.4"/>
<use href="#st" x="463.5" y="107.4"/>
<use href="#st" x="463.7" y="107.4"/>
<use href="#st" x="464.0" y="107.4"/>
<use href="#st" x="464.3" y="107.5"/>
<use href="#st" x="464.6" y="107.7"/>
<use href="#st" x="464.8" y="107.7"/>
<use href="#st" x="465.1" y="107.4"/>
<use href="#st" x="465.4" y="107.0"/>
<use href="#st" x="465.6" y="106.8"/>
<use href="#st" x="465.9" y="106.7"/>
<use href="#st" x="466.2" y="106.7"/>
<use href="#st" x="466.5" y="106.5"/>
<use href="#st" x="466.7" y="106.3"/>
<use href="#st" x="467.0" y="106.1"/>
<use href="#st" x="467.3" y="105.9"/>
<use href="#st" x="467.5" y="105.8"/>
<use href="#st" x="467.8" y="105.8"/>
<use href="#st" x="468.1" y="105.7"/>
<use href="#st" x="468.4" y="105.6"/>
<use href="#st" x="468.6" y="105.5"/>
<use href="#st" x="468.9" y="105.2"/>
<use href="#st" x="469.2" y="104.9"/>
<use href="#st" x="469.4" y="104.8"/>
<use href="#st" x="469.7" y="105.0"/>
<use href="#st" x="470.0" y="105.1"/>
<use href="#st" x="470.2" y="105.0"/>
<use href="#st" x="470.5" y="104.9"/>
<use href="#st" x="470.8" y="104.7"/>
<use href="#st" x="471.1" y="104.5"/>
<use href="#st" x="471.3" y="104.5"/>
<use href="#st" x="471.6" y="104.7"/>
<use href="#st" x="471.9" y="104.9"/>
<use href="#st" x="472.1" y="104.9"/>
<use href="#st" x="472.4" y="104.6"/>
<use href="#st" x="472.7" y="104.3"/>
<use href="#st" x="473.0" y="104.2"/>
<use href="#st" x="473.2" y="104.2"/>
<use href="#st" x="473.5" y="104.0"/>
<use href="#st" x="473.8" y="103.8"/>
<use href="#st" x="474.0" y="103.6"/>
<use href="#st" x="474.3" y="103.4"/>
<use href="#st" x="474.6" y="103.1"/>
<use href="#st" x="474.9" y="102.9"/>
<use href="#st" x="475.1" y="102.7"/>
<use href="#st" x="475.4" y="102.5"/>
<use href="#st" x="475.7" y="102.3"/>
<use href="#st" x="475.9" y="102.3"/>
<use href="#st" x="476.2" y="102.4"/>
<use href="#st" x="476.5" y="102.3"/>
<use href="#st" x="476.8" y="102.2"/>
<use href="#st" x="477.0" y="101.9"/>
<use href="#st" x="477.3" y="101.6"/>
<use href="#st" x="477.6" y="101.3"/>
<use href="#st" x="477.8" y="101.1"/>
<use href="#st" x="478.1" y="101.0"/>
<use href="#st" x="478.4" y="101.1"/>
<use href="#st" x="478.6" y="101.3"/>
<use href="#st" x="478.9" y="101.3"/>
<use href="#st" x="479.2" y="101.1"/>
<use href="#st" x="479.5" y="100.7"/>
<use href="#st" x="479.7" y="100.5"/>
<use href="#st" x="480.0" y="100.5"/>
<use href="#st" x="480.3" y="100.5"/>
<use href="#st" x="480.5" y="100.4"/>
<use href="#st" x="480.8" y="100.2"/>
<use href="#st" x="481.1" y="100.0"/>
<use href="#st" x="481.4" y="99.9"/>
<use href="#st" x="481.6" y="99.9"/>
<use href="#st" x="481.9" y="99.8"/>
<use href="#st" x="482.2" y="99.5"/>
<use href="#st" x="482.4" y="99.1"/>
<use href="#st" x="482.7" y="98.9"/>
<use href="#st" x="483.0" y="98.6"/>
<use href="#st" x="483.3" y="98.3"/>
<use href="#st" x="483.5" y="98.0"/>
<use href="#st" x="483.8" y="97.8"/>
<use href="#st" x="484.1" y="97.8"/>
<use href="#st" x="484.3" y="97.7"/>
<use href="#st" x="484.6" y="97.7"/>
<use href="#st" x="484.9" y="97.7"/>
<use href="#st" x="485.2" y="97.6"/>
<use href="#st" x="485.4" y="97.4"/>
<use href="#st" x="485.7" y="97.2"/>
<use href="#st" x="486.0" y="97.2"/>
<use href="#st" x="486.2" y="97.3"/>
<use href="#st" x="486.5" y="97.2"/>
<use href="#st" x="486.8" y="97.0"/>
<use href="#st" x="487.0" y="96.8"/>
<use href="#st" x="487.3" y="96.6"/>
<use href="#st" x="487.6" y="96.5"/>
<use href="#st" x="487.9" y="96.5"/>
<use href="#st" x="488.1" y="96.4"/>
<use href="#st" x="488.4" y="96.2"/>
<use href="#st" x="488.7" y="95.9"/>
<use href="#st" x="488.9" y="95.7"/>
<use href="#st" x="489.2" y="95.7"/>
<use href="#st" x="489.5" y="95.7"/>
<use href="#st" x="489.8" y="95.7"/>
<use href="#st" x="490.0" y="95.7"/>
<use href="#st" x="490.3" y="95.8"/>
<use href="#st" x="490.6" y="95.9"/>
<use href="#st" x="490.8" y="95.8"/>
<use href="#st" x="491.1" y="95.6"/>
<use href="#st" x="491.4" y="95.4"/>
<use href="#st" x="491.7" y="95.1"/>
<use href="#st" x="491.9" y="94.9"/>
<use href="#st" x="492.2" y="94.8"/>
<use href="#st" x="492.5" y="94.8"/>
<use href="#st" x="492.7" y="94.8"/>
<use href="#st" x="493.0" y="94.8"/>
<use href="#st" x="493.3" y="94.7"/>
<use href="#st" x="493.6" y="94.5"/>
<use href="#st" x="493.8" y="94.2"/>
<use href="#st" x="494.1" y="94.0"/>
<use href="#st" x="494.4" y="93.8"/>
<use href="#st" x="494.6" y="93.6"/>
<use href="#st" x="494.9" y="93.3"/>
<use href="#st" x="495.2" y="93.0"/>
<use href="#st" x="495.4" y="92.8"/>
<use href="#st" x="495.7" y="92.7"/>
<use href="#st" x="496.0" y="92.7"/>
<use href="#st" x="496.3" y="92.5"/>
<use href="#st" x="496.5" y="92.2"/>
<use href="#st" x="496.8" y="91.7"/>
<use href="#st" x="497.1" y="91.4"/>
<use href="#st" x="497.3" y="91.2"/>
<use href="#st" x="497.6" y="91.2"/>
<use href="#st" x="497.9" y="91.0"/>
<use href="#st" x="498.2" y="90.8"/>
<use href="#st" x="498.4" y="90.6"/>
<use href="#st" x="498.7" y="90.3"/>
<use href="#st" x="499.0" y="90.1"/>
<use href="#st" x="499.2" y="90.0"/>
<use href="#st" x="499.5" y="89.7"/>
<use href="#st" x="499.8" y="89.3"/>
<use href="#st" x="500.1" y="88.8"/>
<use href="#st" x="500.3" y="88.7"/>
<use href="#st" x="500.6" y="89.0"/>
<use href="#st" x="500.9" y="89.3"/>
<use href="#st" x="501.1" y="89.5"/>
<use href="#st" x="501.4" y="89.4"/>
<use href="#st" x="501.7" y="89.3"/>
<use href="#st" x="502.0" y="89.1"/>
<use href="#st" x="502.2" y="89.1"/>
<use href="#st" x="502.5" y="89.0"/>
<use href="#st" x="502.8" y="88.9"/>
<use href="#st" x="503.0" y="88.8"/>
<use href="#st" x="503.3" y="88.6"/>
<use href="#st" x="503.6" y="88.4"/>
<use href="#st" x="503.9" y="88.4"/>
<use href="#st" x="504.1" y="88.5"/>
<use href="#st" x="504.4" y="88.5"/>
<use href="#st" x="504.7" y="88.4"/>
<use href="#st" x="504.9" y="88.3"/>
<use href="#st" x="505.2" y="88.3"/>
<use href="#st" x="505.5" y="88.2"/>
<use href="#st" x="505.7" y="88.0"/>
<use href="#st" x="506.0" y="87.7"/>
<use href="#st" x="506.3" y="87.3"/>
<use href="#st" x="506.6" y="87.0"/>
<use href="#st" x="506.8" y="86.7"/>
<use href="#st" x="507.1" y="86.6"/>
<use href="#st" x="507.4" y="86.6"/>
<use href="#st" x="507.6" y="86.6"/>
<use href="#st" x="507.9" y="86.7"/>
<use href="#st" x="508.2" y="86.8"/>
<use href="#st" x="508.5" y="86.9"/>
<use href="#st" x="508.7" y="86.7"/>
<use href="#st" x="509.0" y="86.5"/>
<use href="#st" x="509.3" y="86.3"/>
<use href="#st" x="509.5" y="86.2"/>
<use href="#st" x="509.8" y="86.0"/>
<use href="#st" x="510.1" y="85.9"/>
<use href="#st" x="510.4" y="85.8"/>
<polyline points="374.3 83.1 374.6 80.7 374.9 78.9 375.1 77.8 375.4 77.1 375.7 76.5 375.9 76 376.2 75.6 376.5 75.2 376.8 74.9 377 74.5 377.3 74.2 377.6 74 377.8 73.7 378.1 73.5 378.4 73.3 378.6 73.2 378.9 73 379.2 72.9 379.5 72.8 379.7 72.7 380 72.7 380.3 72.6 380.5 72.5 380.8 72.4 381.1 72.3 381.4 72.1 381.6 72 381.9 71.9 382.2 71.7 382.4 71.6 382.7 71.5 383 71.3 383.3 71.2 383.5 71 383.8 70.9 384.1 70.7 384.3 70.6 384.6 70.4 384.9 70.3 385.2 70.2 385.4 70 385.7 69.9 386 69.8 386.2 69.6 386.5 69.5 386.8 69.4 387.1 69.3 387.3 69.2 387.6 69.1 387.9 69 388.1 68.9 388.4 68.8 388.7 68.7 388.9 68.6 389.2 68.5 389.5 68.4 389.8 68.3 390 68.2 390.3 68.2 390.6 68.1 390.8 68 391.1 67.9 391.4 67.8 391.7 67.8 391.9 67.7 392.2 67.6 392.5 67.5 392.7 67.5 393 67.4 393.3 67.3 393.6 67.2 393.8 67.1 394.1 67.1 394.4 67 394.6 66.9 394.9 66.8 395.2 66.7 395.5 66.6 395.7 66.5 396 66.4 396.3 66.3 396.5 66.3 396.8 66.2 397.1 66.1 397.3 66 397.6 65.9 397.9 65.7 398.2 65.6 398.4 65.5 398.7 65.4 399 65.3 399.2 65.2 399.5 65.1 399.8 65 400.1 64.9 400.3 64.8 400.6 64.6 400.9 64.5 401.1 64.4 401.4 64.3 401.7 64.2 402 64.1 402.2 64 402.5 63.8 402.8 63.7 403 63.6 403.3 63.5 403.6 63.4 403.9 63.3 404.1 63.2 404.4 63 404.7 62.9 404.9 62.8 405.2 62.7 405.5 62.6 405.7 62.5 406 62.4 406.3 62.3 406.6 62.2 406.8 62 407.1 61.9 407.4 61.8 407.6 61.7 407.9 61.6 408.2 61.5 408.5 61.4 408.7 61.3 409 61.2 409.3 61.1 409.5 61 409.8 60.9 410.1 60.8 410.4 60.7 410.6 60.7 410.9 60.6 411.2 60.5 411.4 60.4 411.7 60.3 412 60.2 412.3 60.1 412.5 60 412.8 59.9 413.1 59.8 413.3 59.7 413.6 59.6 413.9 59.5 414.1 59.4 414.4 59.3 414.7 59.3 415 59.2 415.2 59.1 415.5 59 415.8 58.9 416 58.8 416.3 58.7 416.6 58.6 416.9 58.5 417.1 58.5 417.4 58.4 417.7 58.3 417.9 58.2 418.2 58.1 418.5 58 418.8 57.9 419 57.8 419.3 57.8 419.6 57.7 419.8 57.6 420.1 57.5 420.4 57.4 420.7 57.3 420.9 57.2 421.2 57.2 421.5 57.1 421.7 57 422 56.9 422.3 56.8 422.6 56.7 422.8 56.7 423.1 56.6 423.4 56.5 423.6 56.4 423.9 56.3 424.2 56.2 424.4 56.2 424.7 56.1 425 56 425.3 55.9 425.5 55.8 425.8 55.7 426.1 55.7 426.3 55.6 426.6 55.5 426.9 55.4 427.2 55.3 427.4 55.3 427.7 55.2 428 55.1 428.2 55 428.5 54.9 428.8 54.9 429.1 54.8 429.3 54.7 429.6 54.6 429.9 54.6 430.1 54.5 430.4 54.4 430.7 54.3 431 54.3 431.2 54.2 431.5 54.1 431.8 54 432 54 432.3 53.9 432.6 53.8 432.8 53.7 433.1 53.7 433.4 53.6 433.7 53.5 433.9 53.4 434.2 53.4 434.5 53.3 434.7 53.2 435 53.1 435.3 53.1 435.6 53 435.8 52.9 436.1 52.8 436.4 52.8 436.6 52.7 436.9 52.6 437.2 52.5 437.5 52.5 437.7 52.4 438 52.3 438.3 52.3 438.5 52.2 438.8 52.1 439.1 52.1 439.4 52 439.6 51.9 439.9 51.9 440.2 51.8 440.4 51.7 440.7 51.7 441 51.6 441.2 51.5 441.5 51.5 441.8 51.4 442.1 51.4 442.3 51.3 442.6 51.2 442.9 51.2 443.1 51.1 443.4 51.1 443.7 51 444 51 444.2 50.9 444.5 50.9 444.8 50.8 445 50.8 445.3 50.7 445.6 50.7 445.9 50.6 446.1 50.6 446.4 50.5 446.7 50.5 446.9 50.4 447.2 50.4 447.5 50.3 447.8 50.3 448 50.3 448.3 50.2 448.6 50.2 448.8 50.1 449.1 50.1 449.4 50 449.7 50 449.9 50 450.2 49.9 450.5 49.9 450.7 49.8 451 49.8 451.3 49.7 451.5 49.7 451.8 49.7 452.1 49.6 452.4 49.6 452.6 49.5 452.9 49.5 453.2 49.5 453.4 49.4 453.7 49.4 454 49.3 454.3 49.3 454.5 49.3 454.8 49.2 455.1 49.2 455.3 49.2 455.6 49.1 455.9 49.1 456.2 49 456.4 49 456.7 49 457 48.9 457.2 48.9 457.5 48.8 457.8 48.8 458.1 48.8 458.3 48.7 458.6 48.7 458.9 48.7 459.1 48.6 459.4 48.6 459.7 48.6 459.9 48.5 460.2 48.5 460.5 48.4 460.8 48.4 461 48.4 461.3 48.3 461.6 48.3 461.8 48.3 462.1 48.2 462.4 48.2 462.7 48.2 462.9 48.1 463.2 48.1 463.5 48.1 463.7 48 464 48 464.3 48 464.6 47.9 464.8 47.9 465.1 47.9 465.4 47.8 465.6 47.8 465.9 47.8 466.2 47.7 466.5 47.7 466.7 47.7 467 47.6 467.3 47.6 467.5 47.6 467.8 47.5 468.1 47.5 468.4 47.5 468.6 47.4 468.9 47.4 469.2 47.4 469.4 47.3 469.7 47.3 470 47.3 470.2 47.2 470.5 47.2 470.8 47.2 471.1 47.1 471.3 47.1 471.6 47.1 471.9 47 472.1 47 472.4 47 472.7 47 473 46.9 473.2 46.9 473.5 46.9 473.8 46.8 474 46.8 474.3 46.8 474.6 46.7 474.9 46.7 475.1 46.7 475.4 46.7 475.7 46.6 475.9 46.6 476.2 46.6 476.5 46.5 476.8 46.5 477 46.5 477.3 46.5 477.6 46.4 477.8 46.4 478.1 46.4 478.4 46.3 478.6 46.3 478.9 46.3 479.2 46.3 479.5 46.2 479.7 46.2 480 46.2 480.3 46.1 480.5 46.1 480.8 46.1 481.1 46.1 481.4 46 481.6 46 481.9 46 482.2 45.9 482.4 45.9 482.7 45.9 483 45.9 483.3 45.8 483.5 45.8 483.8 45.8 484.1 45.8 484.3 45.7 484.6 45.7 484.9 45.7 485.2 45.6 485.4 45.6 485.7 45.6 486 45.6 486.2 45.5 486.5 45.5 486.8 45.5 487 45.5 487.3 45.4 487.6 45.4 487.9 45.4 488.1 45.4 488.4 45.3 488.7 45.3 488.9 45.3 489.2 45.2 489.5 45.2 489.8 45.2 490 45.2 490.3 45.1 490.6 45.1 490.8 45.1 491.1 45.1 491.4 45 491.7 45 491.9 45 492.2 44.9 492.5 44.9 492.7 44.9 493 44.9 493.3 44.8 493.6 44.8 493.8 44.8 494.1 44.8 494.4 44.7 494.6 44.7 494.9 44.7 495.2 44.6 495.4 44.6 495.7 44.6 496 44.6 496.3 44.5 496.5 44.5 496.8 44.5 497.1 44.4 497.3 44.4 497.6 44.4 497.9 44.4 498.2 44.3 498.4 44.3 498.7 44.3 499 44.2 499.2 44.2 499.5 44.2 499.8 44.1 500.1 44.1 500.3 44.1 500.6 44 500.9 44 501.1 44 501.4 43.9 501.7 43.9 502 43.9 502.2 43.8 502.5 43.8 502.8 43.8 503 43.7 503.3 43.7 503.6 43.7 503.9 43.6 504.1 43.6 504.4 43.6 504.7 43.5 504.9 43.5 505.2 43.5 505.5 43.4 505.7 43.4 506 43.4 506.3 43.3 506.6 43.3 506.8 43.3 507.1 43.3 507.4 43.2 507.6 43.2 507.9 43.2 508.2 43.1 508.5 43.1 508.7 43.1 509 43 509.3 43 509.5 43 509.8 42.9 510.1 42.9 510.4 42.9 510.6 42.8 510.9 42.8 511.2 42.8 511.4 42.8 511.7 42.7 512 42.7 512.3 42.7 512.5 42.6 512.8 42.6 513.1 42.6 513.3 42.6 513.6 42.5 513.9 42.5 514.1 42.5 514.4 42.5 514.7 42.4 515 42.4 515.2 42.4 515.5 42.4 515.8 42.3 516 42.3 516.3 42.3 516.6 42.3 516.9 42.3 517.1 42.2 517.4 42.2 517.7 42.2 517.9 42.2 518.2 42.2 518.5 42.1 518.8 42.1 519 42.1 519.3 42.1 519.6 42.1 519.8 42.1 520.1 42 520.4 42 520.7 42 520.9 42 521.2 42 521.5 42 521.7 42 522 42 522.3 41.9 522.5 41.9 522.8 41.9 523.1 41.9 523.4 41.9 523.6 41.9 523.9 41.9 524.2 41.9 524.4 41.9 524.7 41.9 525 41.8 525.3 41.8 525.5 41.8 525.8 41.8 526.1 41.8 526.3 41.8 526.6 41.8 526.9 41.8 527.2 41.8 527.4 41.8 527.7 41.8 528 41.8 528.2 41.7 528.5 41.7 528.8 41.7 529.1 41.7 529.3 41.7 529.6 41.7 529.9 41.7 530.1 41.7 530.4 41.7 530.7 41.7 531 41.7 531.2 41.7 531.5 41.7 531.8 41.6 532 41.6 532.3 41.6 532.6 41.6 532.8 41.6 533.1 41.6 533.4 41.6 533.7 41.6 533.9 41.6 534.2 41.6 534.5 41.6 534.7 41.6 535 41.6 535.3 41.6 535.6 41.6 535.8 41.6 536.1 41.5 536.4 41.5 536.6 41.5 536.9 41.5 537.2 41.5 537.5 41.5 537.7 41.5 538 41.5 538.3 41.5 538.5 41.5 538.8 41.5 539.1 41.5 539.4 41.5 539.6 41.5 539.9 41.5 540.2 41.5 540.4 41.5 540.7 41.4 541 41.4 541.2 41.4 541.5 41.4 541.8 41.4 542.1 41.4 542.3 41.4 542.6 41.4 542.9 41.4 543.1 41.4 543.4 41.4 543.7 41.4 544 41.4 544.2 41.4 544.5 41.4 544.8 41.4 545 41.3 545.3 41.3 545.6 41.3 545.9 41.3 546.1 41.3 546.4 41.3 546.7 41.3 546.9 41.3 547.2 41.3 547.5 41.3 547.8 41.3 548 41.3 548.3 41.3 548.6 41.3 548.8 41.2 549.1 41.2 549.4 41.2 549.6 41.2 549.9 41.2 550.2 41.2 550.5 41.2 550.7 41.2 551 41.2 551.3 41.2 551.5 41.2 551.8 41.2 552.1 41.2 552.4 41.2 552.6 41.2 552.9 41.1 553.2 41.1 553.4 41.1 553.7 41.1 554 41.1 554.3 41.1 554.5 41.1 554.8 41.1 555.1 41.1 555.3 41.1 555.6 41.1 555.9 41.1 556.2 41.1 556.4 41.1 556.7 41.1 557 41 557.2 41 557.5 41 557.8 41 558.1 41 558.3 41 558.6 41 558.9 41 559.1 41 559.4 41 559.7 41 559.9 41 560.2 41 560.5 41 560.8 40.9 561 40.9 561.3 40.9 561.6 40.9 561.8 40.9 562.1 40.9 562.4 40.9 562.7 40.9 562.9 40.9 563.2 40.9 563.5 40.9 563.7 40.8 564 40.8 564.3 40.8 564.6 40.8 564.8 40.8 565.1 40.8 565.4 40.8 565.6 40.8 565.9 40.8 566.2 40.7 566.5 40.7 566.7 40.7 567 40.7 567.3 40.7 567.5 40.7 567.8 40.6 568.1 40.6 568.3 40.6 568.6 40.6 568.9 40.6 569.2 40.6 569.4 40.5 569.7 40.5 570 40.5 570.2 40.5 570.5 40.4 570.8 40.4 571.1 40.4 571.3 40.4 571.6 40.4 571.9 40.3 572.1 40.3 572.4 40.3 572.7 40.3 573 40.2 573.2 40.2 573.5 40.2 573.8 40.2 574 40.1 574.3 40.1 574.6 40.1 574.9 40.1 575.1 40.1 575.4 40 575.7 40 575.9 40 576.2 40 576.5 39.9 576.8 39.9 577 39.9 577.3 39.9 577.6 39.9 577.8 39.9 578.1 39.8 578.4 39.8 578.6 39.8 578.9 39.8 579.2 39.8 579.5 39.8 579.7 39.8 580 39.7 580.3 39.7 580.5 39.7 580.8 39.7 581.1 39.7 581.4 39.7 581.6 39.7 581.9 39.7 582.2 39.7 582.4 39.7 582.7 39.7 583 39.7 583.3 39.7 583.5 39.8 583.8 39.8 584.1 39.9 584.3 39.9 584.6 40 584.9 40.1 585.2 40.2 585.4 40.2 585.7 40.3 586 40.4 586.2 40.5 586.5 40.6 586.8 40.7 587 40.8 587.3 40.8 587.6 40.9 587.9 41 588.1 41.1 588.4 41.1 588.7 41.2 588.9 41.2 589.2 41.3 589.5 41.3 589.8 41.3 590 41.3 590.3 41.3 590.6 41.3 590.8 41.3 591.1 41.3 591.4 41.3 591.7 41.3 591.9 41.3 592.2 41.2 592.5 41.2 592.7 41.2 593 41.2 593.3 41.2 593.6 41.2 593.8 41.2 594.1 41.1 594.4 41.1 594.6 41.1 594.9 41.1 595.2 41.1 595.4 41 595.7 41 596 41 596.3 41 596.5 41 596.8 40.9 597.1 40.9 597.3 40.9 597.6 40.9 597.9 40.9 598.2 40.9 598.4 40.9 598.7 40.8 599 40.8 599.2 40.8 599.5 40.8 599.8 40.8 600.1 40.8 600.3 40.8 600.6 40.8 600.9 40.8 601.1 40.8 601.4 40.8 601.7 40.8 602 40.8 602.2 40.8 602.5 40.8 602.8 40.8 603 40.8 603.3 40.7 603.6 40.7 603.9 40.7 604.1 40.7 604.4 40.7 604.7 40.7 604.9 40.7 605.2 40.7 605.5 40.7 605.7 40.7 606 40.7 606.3 40.7 606.6 40.7 606.8 40.7 607.1 40.7 607.4 40.7 607.6 40.7 607.9 40.7 608.2 40.7 608.5 40.7 608.7 40.7 609 40.7 609.3 40.7 609.5 40.7 609.8 40.7 610.1 40.7 610.4 40.7 610.6 40.7 610.9 40.7 611.2 40.7 611.4 40.7 611.7 40.7 612 40.7 612.3 40.7 612.5 40.6 612.8 40.6 613.1 40.6 613.3 40.6 613.6 40.6 613.9 40.6 614.1 40.6 614.4 40.6 614.7 40.6 615 40.6 615.2 40.6 615.5 40.6 615.8 40.6 616 40.6 616.3 40.6 616.6 40.6 616.9 40.6 617.1 40.6 617.4 40.6 617.7 40.6 617.9 40.6 618.2 40.6 618.5 40.6 618.8 40.6 619 40.6 619.3 40.6 619.6 40.6 619.8 40.6 620.1 40.6 620.4 40.6 620.7 40.6 620.9 40.6 621.2 40.6 621.5 40.6 621.7 40.6 622 40.6 622.3 40.6 622.5 40.6 622.8 40.6 623.1 40.6 623.4 40.6 623.6 40.6 623.9 40.6 624.2 40.6 624.4 40.6 624.7 40.6 625 40.6 625.3 40.6 625.5 40.6 625.8 40.6 626.1 40.6 626.3 40.6 626.6 40.6 626.9 40.6 627.2 40.6 627.4 40.6 627.7 40.6 628 40.6 628.2 40.6 628.5 40.6 628.8 40.6 629.1 40.5 629.3 40.5 629.6 40.5 629.9 40.5 630.1 40.5 630.4 40.5 630.7 40.5 631 40.5 631.2 40.5 631.5 40.5 631.8 40.5 632 40.5 632.3 40.5 632.6 40.5 632.8 40.5 633.1 40.5 633.4 40.5 633.7 40.5 633.9 40.5 634.2 40.5 634.5 40.5 634.7 40.5 635 40.5 635.3 40.5 635.6 40.5 635.8 40.5 636.1 40.5 636.4 40.5 636.6 40.5 636.9 40.5 637.2 40.5 637.5 40.5 637.7 40.5 638 40.5 638.3 40.5 638.5 40.5 638.8 40.5 639.1 40.5 639.4 40.5 639.6 40.5 639.9 40.5 640.2 40.5 640.4 40.5 640.7 40.5 641 40.5 641.2 40.5 641.5 40.5 641.8 40.5 642.1 40.5 642.3 40.5 642.6 40.5 642.9 40.5 643.1 40.5 643.4 40.5 643.7 40.5 644 40.5 644.2 40.5 644.5 40.5" fill="none" stroke="#d62728" stroke-width="1.4" stroke-dasharray="1.6 1.3" stroke-opacity="0.6"/>
</g>
<line x1="32.30" y1="263.50" x2="35.50" y2="263.50" stroke="#000" stroke-width="0.68" />
<text x="12.55" y="266.15" font-size="8.3" fill="#222" textLength="16.91" lengthAdjust="spacingAndGlyphs">0.00</text>
<line x1="32.30" y1="215.50" x2="35.50" y2="215.50" stroke="#000" stroke-width="0.68" />
<text x="12.55" y="218.79" font-size="8.3" fill="#222" textLength="17.00" lengthAdjust="spacingAndGlyphs">0.01</text>
<line x1="32.30" y1="168.50" x2="35.50" y2="168.50" stroke="#000" stroke-width="0.68" />
<text x="12.55" y="171.43" font-size="8.3" fill="#222" textLength="17.00" lengthAdjust="spacingAndGlyphs">0.02</text>
<line x1="32.30" y1="121.50" x2="35.50" y2="121.50" stroke="#000" stroke-width="0.68" />
<text x="12.55" y="124.07" font-size="8.3" fill="#222" textLength="16.95" lengthAdjust="spacingAndGlyphs">0.03</text>
<line x1="32.30" y1="73.50" x2="35.50" y2="73.50" stroke="#000" stroke-width="0.68" />
<text x="12.55" y="76.71" font-size="8.3" fill="#222" textLength="16.82" lengthAdjust="spacingAndGlyphs">0.04</text>
<line x1="32.30" y1="26.50" x2="35.50" y2="26.50" stroke="#000" stroke-width="0.68" />
<text x="12.55" y="29.35" font-size="8.3" fill="#222" textLength="16.91" lengthAdjust="spacingAndGlyphs">0.05</text>
<line x1="35.50" y1="274.50" x2="35.50" y2="277.70" stroke="#000" stroke-width="0.68" />
<text x="33.16" y="286.00" font-size="8.3" fill="#222" textLength="4.68" lengthAdjust="spacingAndGlyphs">0</text>
<line x1="89.50" y1="274.50" x2="89.50" y2="277.70" stroke="#000" stroke-width="0.68" />
<text x="82.21" y="286.00" font-size="8.3" fill="#222" textLength="14.73" lengthAdjust="spacingAndGlyphs">200</text>
<line x1="143.50" y1="274.50" x2="143.50" y2="277.70" stroke="#000" stroke-width="0.68" />
<text x="136.53" y="286.00" font-size="8.3" fill="#222" textLength="14.50" lengthAdjust="spacingAndGlyphs">400</text>
<line x1="197.50" y1="274.50" x2="197.50" y2="277.70" stroke="#000" stroke-width="0.68" />
<text x="190.41" y="286.00" font-size="8.3" fill="#222" textLength="14.73" lengthAdjust="spacingAndGlyphs">600</text>
<line x1="251.50" y1="274.50" x2="251.50" y2="277.70" stroke="#000" stroke-width="0.68" />
<text x="244.55" y="286.00" font-size="8.3" fill="#222" textLength="14.68" lengthAdjust="spacingAndGlyphs">800</text>
<line x1="306.50" y1="274.50" x2="306.50" y2="277.70" stroke="#000" stroke-width="0.68" />
<text x="296.25" y="286.00" font-size="8.3" fill="#222" textLength="19.19" lengthAdjust="spacingAndGlyphs">1000</text>
<text x="159.35" y="297.60" font-size="9.8" fill="#222" textLength="22.01" lengthAdjust="spacingAndGlyphs">Time</text>
<text x="8.10" y="180.51" font-size="9.8" fill="#222" textLength="69.39" lengthAdjust="spacingAndGlyphs" transform="rotate(-90 8.10 180.51)">Gini Coefficient</text>
<text x="84.29" y="8.80" font-size="10.9" fill="#222" textLength="171.68" lengthAdjust="spacingAndGlyphs">(a) Trajectories and KDE Density</text>
<path d="M35.5 16.2V274.8M306.0 16.2V274.8M35.2 16.5H306.3M35.2 274.5H306.3" fill="none" stroke="#000" stroke-width="0.68"/>
<line x1="370.30" y1="264.50" x2="373.50" y2="264.50" stroke="#000" stroke-width="0.68" />
<text x="351.25" y="266.95" font-size="8.3" fill="#1f77b4" textLength="16.91" lengthAdjust="spacingAndGlyphs">0.00</text>
<line x1="370.30" y1="207.50" x2="373.50" y2="207.50" stroke="#000" stroke-width="0.68" />
<text x="351.25" y="210.53" font-size="8.3" fill="#1f77b4" textLength="17.00" lengthAdjust="spacingAndGlyphs">0.01</text>
<line x1="370.30" y1="151.50" x2="373.50" y2="151.50" stroke="#000" stroke-width="0.68" />
<text x="351.25" y="154.11" font-size="8.3" fill="#1f77b4" textLength="17.00" lengthAdjust="spacingAndGlyphs">0.02</text>
<line x1="370.30" y1="94.50" x2="373.50" y2="94.50" stroke="#000" stroke-width="0.68" />
<text x="351.25" y="97.69" font-size="8.3" fill="#1f77b4" textLength="16.95" lengthAdjust="spacingAndGlyphs">0.03</text>
<line x1="370.30" y1="38.50" x2="373.50" y2="38.50" stroke="#000" stroke-width="0.68" />
<text x="351.25" y="41.27" font-size="8.3" fill="#1f77b4" textLength="16.82" lengthAdjust="spacingAndGlyphs">0.04</text>
<line x1="644.50" y1="40.50" x2="647.70" y2="40.50" stroke="#000" stroke-width="0.68" />
<text x="649.64" y="43.00" font-size="8.3" fill="#d62728" textLength="12.42" lengthAdjust="spacingAndGlyphs">0.0</text>
<line x1="644.50" y1="69.50" x2="647.70" y2="69.50" stroke="#000" stroke-width="0.68" />
<text x="649.54" y="72.30" font-size="8.3" fill="#d62728" textLength="18.01" lengthAdjust="spacingAndGlyphs">−2.5</text>
<line x1="644.50" y1="98.50" x2="647.70" y2="98.50" stroke="#000" stroke-width="0.68" />
<text x="649.54" y="101.60" font-size="8.3" fill="#d62728" textLength="18.01" lengthAdjust="spacingAndGlyphs">−5.0</text>
<line x1="644.50" y1="127.50" x2="647.70" y2="127.50" stroke="#000" stroke-width="0.68" />
<text x="649.54" y="130.90" font-size="8.3" fill="#d62728" textLength="18.01" lengthAdjust="spacingAndGlyphs">−7.5</text>
<line x1="644.50" y1="157.50" x2="647.70" y2="157.50" stroke="#000" stroke-width="0.68" />
<text x="649.54" y="160.20" font-size="8.3" fill="#d62728" textLength="23.33" lengthAdjust="spacingAndGlyphs">−10.0</text>
<line x1="644.50" y1="186.50" x2="647.70" y2="186.50" stroke="#000" stroke-width="0.68" />
<text x="649.54" y="189.50" font-size="8.3" fill="#d62728" textLength="23.33" lengthAdjust="spacingAndGlyphs">−12.5</text>
<line x1="644.50" y1="215.50" x2="647.70" y2="215.50" stroke="#000" stroke-width="0.68" />
<text x="649.54" y="218.80" font-size="8.3" fill="#d62728" textLength="23.33" lengthAdjust="spacingAndGlyphs">−15.0</text>
<line x1="644.50" y1="245.50" x2="647.70" y2="245.50" stroke="#000" stroke-width="0.68" />
<text x="649.54" y="248.10" font-size="8.3" fill="#d62728" textLength="23.33" lengthAdjust="spacingAndGlyphs">−17.5</text>
<line x1="644.50" y1="274.50" x2="647.70" y2="274.50" stroke="#000" stroke-width="0.68" />
<text x="649.54" y="277.40" font-size="8.3" fill="#d62728" textLength="23.33" lengthAdjust="spacingAndGlyphs">−20.0</text>
<line x1="373.50" y1="274.50" x2="373.50" y2="277.70" stroke="#000" stroke-width="0.68" />
<text x="371.16" y="286.00" font-size="8.3" fill="#222" textLength="4.68" lengthAdjust="spacingAndGlyphs">0</text>
<line x1="427.50" y1="274.50" x2="427.50" y2="277.70" stroke="#000" stroke-width="0.68" />
<text x="420.31" y="286.00" font-size="8.3" fill="#222" textLength="14.73" lengthAdjust="spacingAndGlyphs">200</text>
<line x1="481.50" y1="274.50" x2="481.50" y2="277.70" stroke="#000" stroke-width="0.68" />
<text x="474.73" y="286.00" font-size="8.3" fill="#222" textLength="14.50" lengthAdjust="spacingAndGlyphs">400</text>
<line x1="536.50" y1="274.50" x2="536.50" y2="277.70" stroke="#000" stroke-width="0.68" />
<text x="528.71" y="286.00" font-size="8.3" fill="#222" textLength="14.73" lengthAdjust="spacingAndGlyphs">600</text>
<line x1="590.50" y1="274.50" x2="590.50" y2="277.70" stroke="#000" stroke-width="0.68" />
<text x="582.95" y="286.00" font-size="8.3" fill="#222" textLength="14.68" lengthAdjust="spacingAndGlyphs">800</text>
<line x1="644.50" y1="274.50" x2="644.50" y2="277.70" stroke="#000" stroke-width="0.68" />
<text x="634.75" y="286.00" font-size="8.3" fill="#222" textLength="19.19" lengthAdjust="spacingAndGlyphs">1000</text>
<text x="497.89" y="297.60" font-size="9.8" fill="#222" textLength="22.42" lengthAdjust="spacingAndGlyphs">Time</text>
<text x="347.00" y="180.41" font-size="9.8" fill="#1f77b4" textLength="69.19" lengthAdjust="spacingAndGlyphs" transform="rotate(-90 347.00 180.41)">Gini Coefficient</text>
<text x="683.00" y="197.00" font-size="9.8" fill="#d62728" textLength="102.63" lengthAdjust="spacingAndGlyphs" transform="rotate(-90 683.00 197.00)">Cohen&#8217;s d (Effect Size)</text>
<text x="433.39" y="8.80" font-size="10.9" fill="#222" textLength="151.05" lengthAdjust="spacingAndGlyphs">(b) Mean, CI, and Effect Size</text>
<path d="M373.5 16.2V274.8M644.5 16.2V274.8M373.2 16.5H644.8M373.2 274.5H644.8" fill="none" stroke="#000" stroke-width="0.68"/>
<rect x="490.7" y="207.3" width="150.6" height="63.7" rx="2" fill="#fff" fill-opacity="0.8" stroke="#d9d9d9" stroke-width="0.8"/>
<text x="512.19" y="215.00" font-size="6.9" fill="#222" textLength="54.65" lengthAdjust="spacingAndGlyphs">Mean Trajectory</text>
<text x="512.45" y="225.20" font-size="6.9" fill="#222" textLength="60.26" lengthAdjust="spacingAndGlyphs">95% Bootstrap CI</text>
<text x="512.18" y="235.40" font-size="6.9" fill="#222" textLength="74.33" lengthAdjust="spacingAndGlyphs">Baseline (<tspan font-style="italic">μ</tspan><tspan font-size="4.8" dy="1.3">0</tspan><tspan dy="-1.3">=0.0340)</tspan></text>
<text x="512.45" y="245.60" font-size="6.9" fill="#222" textLength="126.45" lengthAdjust="spacingAndGlyphs">Significantly Different (FDR <tspan font-style="italic">p</tspan> &lt; 0.05)</text>
<text x="512.42" y="255.80" font-size="6.9" fill="#222" textLength="69.72" lengthAdjust="spacingAndGlyphs">Cohen&#8217;s d Trajectory</text>
<text x="512.18" y="266.00" font-size="6.9" fill="#222" textLength="113.43" lengthAdjust="spacingAndGlyphs">Large Effect Threshold (|<tspan font-style="italic">d</tspan>| = 0.8)</text>
<line x1="492.40" y1="213.00" x2="508.40" y2="213.00" stroke="#1f77b4" stroke-width="2.0" />
<rect x="492.6" y="220.6" width="15.2" height="5.0" fill="#1f77b4" fill-opacity="0.25"/>
<line x1="492.60" y1="233.40" x2="508.20" y2="233.40" stroke="#000" stroke-width="1.5" stroke-dasharray="5.2 2.2" stroke-opacity="0.7"/>
<use href="#st" x="500.5" y="243.6"/>
<line x1="493.00" y1="253.80" x2="507.60" y2="253.80" stroke="#d62728" stroke-width="1.5" stroke-dasharray="1.9 1.15" stroke-opacity="0.6"/>
<line x1="492.60" y1="264.00" x2="508.20" y2="264.00" stroke="#ffa500" stroke-width="1.0" stroke-opacity="0.5"/></svg>
</body></html>
